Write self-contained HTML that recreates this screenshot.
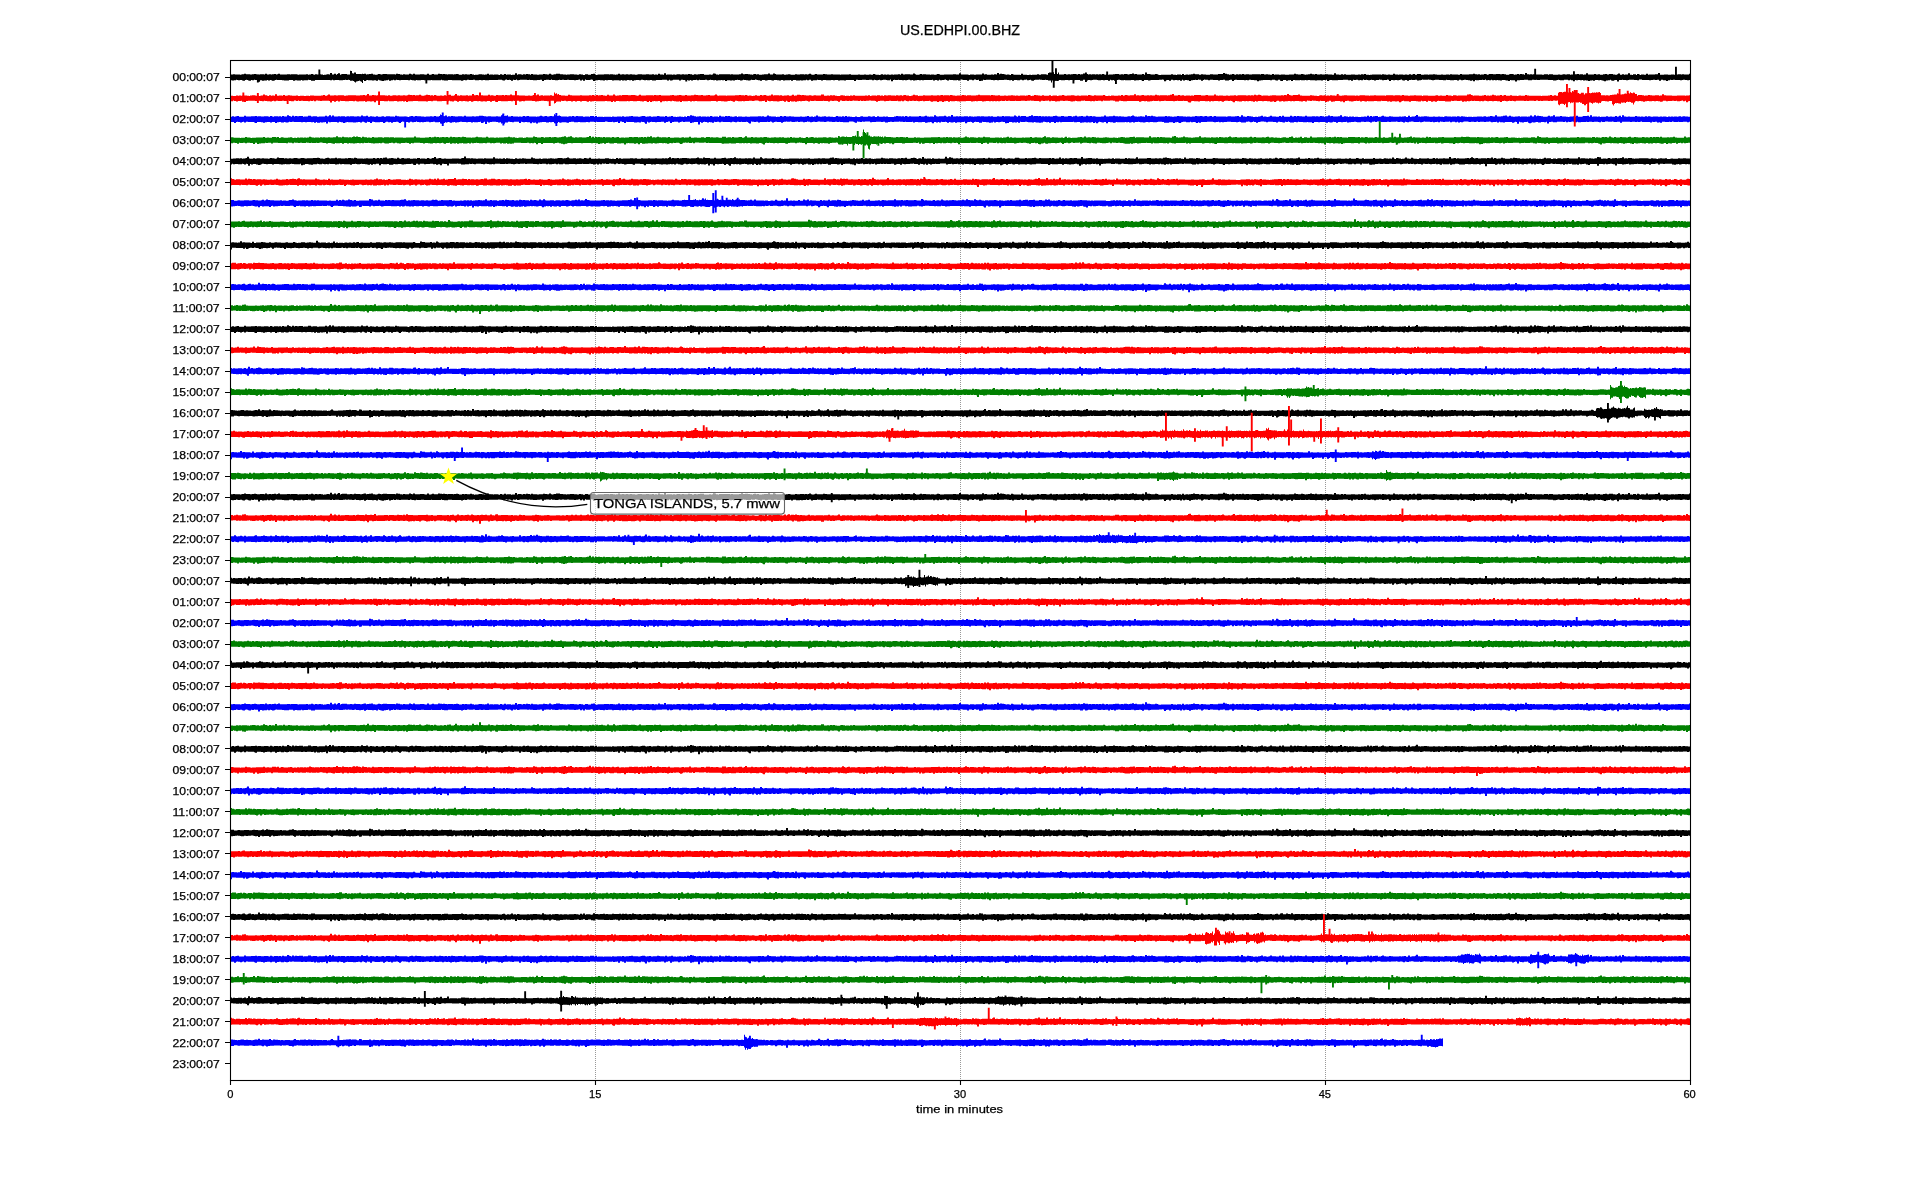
<!DOCTYPE html><html><head><meta charset="utf-8"><style>html,body{margin:0;padding:0;background:#fff;width:1920px;height:1200px;overflow:hidden}svg{display:block;will-change:transform}text{font-family:"Liberation Sans",sans-serif;fill:#000;stroke:#000;stroke-width:0.25px}</style></head><body>
<svg width="1920" height="1200" viewBox="0 0 1920 1200">
<rect width="1920" height="1200" fill="#fff"/>
<defs><path id="t0" d="M0 -11h2h1v-1h2v1h2h2h1v1h1v-1h1v-1h2v-2h2v2h2h2v1h2v-1h2v-1h2v1h1v1h2h1v-1h2h2v1h1v-3h2v3h2v-1h2v1h1v-1h2v-1h2v2h1v-1h1v-2h2v3h2h2h2h1v-1h2h1v1h1v-1h2h2h2v1h1v1h1v-1h2h2h2h1v-1h2v2h1v-1h2v-2h2v2h1v1h1v-2h2v1h2v-1h2v1h2v2h1v-1h2v-1h1v-1h2v1h1v-6h2v6h2v-3h2v4h1v-3h1v-3h2v6h1v-2h1v-1h2h2h1v2h2h1v-1h2v1h2v-2h2v1h2h2v1h2v-1h1v-1h1v-1h2v3h1v-1h2v-1h2v-1h2v3h2v1h2v-1h1v-2h2v1h1v1h1v-1h1v-1h2h2v1h2h2h2h2v1h1v-3h2v1h2v2h2v1h1v-2h2v1h2h2v-3h2v2h1v1h1v-3h2v3h2h2h1v-1h2h2v1h1v1h2v-4h2v4h2v-1h1v-2h2v2h2h2v-3h2v1h2v1h1v-1h2v1h2v1h1v-1h2h2h1v1h1v-1h2v-1h2v1h1v2h2h1v-2h2v1h1v-1h2v1h2h1v-2h2v2h2v2h1v-1h2h1v-1h1v-1h2h1v1h2v1h1v-1h2v-3h2v4h1v-1h2h1v1h1v-1h2h2v1h1v1h1v-3h2v2h2v-3h2v3h1v-1h2h2v2h1v-1h2h1v-6h2v6h1v-2h2h1v1h1v1h1v-2h2v1h1v-2h2v1h2v2h1v-3h2v2h2h2v1h2v-1h2h2v-2h2v1h2v1h2v-3h2v3h1v1h1v-1h1v-1h2v-2h2h2v2h2h1v1h2h1v1h1v-1h2h1v-1h2h2v1h2h1v1h2v-2h2v1h2v2h2v-3h2h1v2h2h1v-3h2v-1h2v4h1v1h1v-1h1v-1h2h2h2v-1h2h2h1v1h1v-1h2h1v1h2v1h1v-1h2v-3h2v3h2v-1h2v1h2v-1h2v1h2v-1h2v1h2h1v1h2v-1h1v-1h2h2v1h2h2v-1h2h1v1h2h1v-1h2v2h1v-1h2v1h1v-4h2v3h2h1v1h1v-6h2v6h1v-1h2h2h1v1h1v-1h2v1h1v-1h1v-1h2h1v1h2v-1h2v1h2h2v-2h2v1h2v2h2v-2h2v1h2v-1h2v-1h2h2v3h2h2h1v-1h2v1h1v-1h1v-4h2v1h1v3h2v1h1v-2h2h2h2h2h2h1v1h1v-1h2v1h2h2h2v-1h2v-3h2v3h2v-1h2h1v1h2v1h2v1h1v-2h1v-1h2v2h1v-1h2v2h2h1v-1h2v-1h2h2v-3h2v4h2h1v-4h2v2h1v2h2h2h2v-1h2v2h2v-1h2v-1h2v1h1v1h2h2v-2h2v1h2h1v-1h2h2v1h1v-1h2v1h1v-1h1v-2h2v3h1v1h2v-1h1v-2h2v2h2h2h2v-2h2v1h2v1h2h2v-1h2v1h2h2h2h1v1h1v-1h2h2h2h2v-1h2v2h2h2h2h1v-1h2v1h2h2v-1h2v1h2h1v-1h2v1h2v-3h2v2h1v1h2h1v1h1v-1h1v-2h2v2h1v-1h2v1h1v-1h2v1h2v-1h2v1h1v-1h2h2v-1h2v2h1v-4h2v3h2v-1h2h2h1v1h2h1v-4h2v3h1v2h2h1v-1h1v-2h2v2h1v-1h2h1v1h2h2v1h1v-1h2h1v1h2v-1h1v-2h2v1h1v2h2h2v-1h2h2h2h2h1v-1h2h1v1h2h1v-5h2v5h2h2h2h1v1h1v1h1v-2h2h2v1h2v-1h2h2h2v-4h2v4h1v-1h2v2h2h2v-1h2v1h1v-2h2v1h1v-6h2v5h1v-2h2v1h2v1h1v1h1v1h1v-1h2v1h1v1h1v-4h2v2h1v1h2h2h2v1h1v-5h2v4h2h2v1h2v-1h2v1h1v-1h2h2h1v-2h2v2h2v-2h2h2h1v1h1v1h2v-1h1v-2h2v3h1v-1h2h1v-1h2v2h1v-1h2h2h1v-2h2v2h2v-1h2v1h1v-1h2v-1h2h1v1h1v1h1v-2h2v2h1v-1h2v-3h2v2h2h1v2h1v-1h2v1h1v-1h2h1v1h1v-1h2v1h1v-1h2v1h1v-2h2v2h1v1h1v-2h2v2h1v-1h2h2v-1h2v-1h2h2v2h2v-1h2v1h1v-2h2h1v1h1v1h1v-1h1v-1h2v-2h2v3h1v-1h2v2h2h2h1v-2h2v3h1v-9h2v6h2h1v1h1v1h2h2v-2h2v1h1v2h1v1h2v-1h2h2h2h2h2v-2h2v2h2h1v1h1v-2h2h2v2h1v-4h2v4h1v-1h1v-1h2v1h1v-1h2v-1h2v-2h2v2h2h2v2h2v-2h2v1h2h1v1h2h2v-2h2h1v1h2h2h1v-2h2h2h1v-4h2v3h2v2h2v2h1v-1h2v-2h2v2h1v1h1v-2h2v1h1v-1h2v1h1v-2h2v2h2v-1h2h1v1h2h1v-1h2h2h2h2v1h1v-2h2h1v2h2v-1h2v1h2v1h2v-3h2v3h1v-1h2h2v1h2v-1h2h2v1h2h2v-1h2h2h1v-3h2v2h2v1h2h1v-2h2v1h1v1h1v1h1v-1h2v-1h2v-2h2v2h2v1h1v-2h2v2h2h1v-1h2v1h2h1v-1h2h1v1h2h2v1h2v-6h2v5h2h1v1h2v-2h2v2h1v-2h2v2h2h2h1v-1h2h2v1h2h1v-1h2v1h1v-2h2v1h1v-2h2v3h2h1v1h1v-1h2v-1h2h2h2h2h1v1h1v-2h2v1h2v1h2v-1h2v1h2h1v-4h2v3h2h1v1h1v-1h2h2v1h2v-1h2v1h2v-2h2v2h1v-1h1v-2h2v3h2v-3h2h2v3h2h1v-1h2h2v1h1v-1h2h2v-1h2v1h2v1h2h2v-1h2v1h2h1v-1h2h1v1h1v-2h2v1h2h2h2v1h2v-3h2v2h2h2h2h1v-1h2h2v-2h2v2h2v1h1v-1h2v2h1v-1h2h1v-2h2v1h1v2h1v-1h1v-2h2h2v1h2h1v-1h2h2v1h2v-1h2v1h2v2h2h1v-2h1v-1h2h1v1h1v2h1v-1h2v-2h2v2h1v-2h2v1h2v2h1v-7h2v5h2v1h1v-1h2v1h1v-1h2v2h1v-1h2h2h2v1h2v-2h2h2v2h1v-2h2h2v2h2h2h1v-1h2v1h2v-1h1v-1h2v1h2v-1h2h1v2h1v-1h2h2v-1h2v-1h2v2h1v-1h2h1v2h1v-1h2v-5h2v5h2h2h2v-2h2v2h2v-1h2v2h2h1v-2h2v-1h2v2h2v-2h2h2v2h2v1h2v-2h1v-3h2v5h2v-2h2v2h1v-1h2h1v-5h2v6h2v1h1v-3h2h1v3h1v-4h2v2h1v2h1v-2h2h1v1h2v-4h2v4h1v-1h2h2h2v-1h2h1v-5h2v7h2h2v-1h2h2v1h2h1v-1h2h1v1h1v-1h2h1v-1h2h1v1h1v-1h2v1h2h2h1v-3h1V11h-1v1h-1h-1v-1h-1h-1v-1h-1h-1v1h-1v1h-1h-1v-1h-1h-1h-1h-1h-1v-1h-1h-1v1h-1h-1v-1h-1v2h-1h-1v3h-1h-1v-3h-1h-1h-1v-2h-1h-1v4h-1h-1v-4h-1h-1v1h-1h-1v-1h-1h-1v1h-1h-1v1h-1h-1v-1h-1h-1h-1h-1h-1h-1h-1v-2h-1h-1h-1v3h-1h-1v-1h-1h-1h-1v-1h-1h-1h-1h-1h-1v1h-1v1h-1h-1v-1h-1h-1h-1v-1h-1v1h-1h-1h-1v6h-1h-1v-6h-1h-1v1h-1v2h-1h-1v-1h-1v-3h-1v2h-1h-1v1h-1h-1v3h-1h-1v-2h-1v-1h-1v-1h-1v-1h-1v1h-1h-1v-1h-1h-1h-1v3h-1h-1v-2h-1v1h-1h-1v2h-1h-1v-2h-1h-1v-1h-1v1h-1h-1v-2h-1v1h-1h-1v-1h-1h-1v1h-1h-1v-1h-1h-1h-1v1h-1h-1v-2h-1v2h-1h-1v-2h-1h-1h-1h-1v2h-1h-1h-1h-1v-1h-1v-1h-1v1h-1v1h-1v1h-1h-1h-1v-2h-1h-1h-1h-1h-1v-1h-1h-1h-1h-1h-1h-1h-1h-1v1h-1h-1h-1v-1h-1h-1h-1h-1h-1v2h-1h-1h-1h-1v-2h-1h-1h-1h-1v1h-1h-1h-1h-1v1h-1h-1h-1v5h-1h-1v-5h-1h-1h-1h-1v-1h-1v4h-1h-1v-2h-1h-1v-1h-1v-1h-1h-1h-1v2h-1h-1v-1h-1h-1v-1h-1v1h-1h-1v-1h-1v1h-1h-1v-2h-1v2h-1h-1v-1h-1v1h-1h-1v-3h-1v2h-1h-1v-1h-1v1h-1h-1h-1v1h-1h-1h-1v-1h-1v5h-1h-1v-4h-1v2h-1h-1v-2h-1h-1v-1h-1h-1v-1h-1h-1v1h-1v1h-1h-1v-2h-1h-1v3h-1h-1v-2h-1h-1h-1v1h-1h-1h-1h-1v-1h-1h-1h-1v-1h-1v2h-1h-1h-1v-1h-1h-1h-1h-1v-1h-1h-1h-1h-1v1h-1v1h-1h-1v-1h-1v-1h-1h-1v-1h-1v1h-1h-1h-1h-1h-1v-1h-1v2h-1v1h-1h-1v1h-1h-1v-3h-1h-1v1h-1h-1h-1v-1h-1v1h-1h-1v3h-1h-1v-3h-1h-1v2h-1h-1v-1h-1v-3h-1v1h-1v1h-1v1h-1h-1v-1h-1h-1v1h-1h-1v-1h-1h-1v4h-1h-1v-5h-1v-1h-1v2h-1h-1h-1v1h-1h-1v-2h-1h-1v-1h-1v2h-1h-1h-1v2h-1h-1v-2h-1h-1v-1h-1v1h-1v1h-1h-1v-1h-1v-1h-1v1h-1h-1v-2h-1v3h-1h-1v-1h-1v1h-1h-1v-2h-1h-1v1h-1h-1v-1h-1v4h-1h-1v-3h-1v1h-1h-1v-2h-1h-1h-1h-1h-1v1h-1h-1h-1h-1h-1v1h-1h-1h-1h-1h-1h-1v-1h-1h-1v1h-1v3h-1h-1v-5h-1v1h-1h-1h-1v2h-1h-1v-1h-1h-1h-1h-1v1h-1h-1v-1h-1h-1h-1h-1h-1v-1h-1h-1v1h-1h-1v-1h-1v1h-1h-1h-1h-1v-1h-1v1h-1h-1h-1h-1h-1v-1h-1h-1v4h-1h-1v-4h-1v1h-1h-1v2h-1h-1v-3h-1h-1h-1v4h-1h-1v-1h-1v-4h-1h-1v3h-1h-1v-1h-1v-2h-1h-1h-1v2h-1h-1v-1h-1h-1h-1h-1h-1h-1h-1v1h-1h-1v1h-1h-1v3h-1h-1v-4h-1h-1h-1v-1h-1h-1h-1v-1h-1h-1v2h-1h-1v-1h-1v1h-1h-1v-1h-1h-1h-1h-1h-1h-1h-1v-1h-1h-1v1h-1v4h-1h-1v-5h-1h-1v1h-1v2h-1h-1h-1h-1v-3h-1h-1v1h-1h-1h-1v2h-1h-1v-2h-1h-1h-1h-1h-1v-1h-1h-1h-1v2h-1h-1v-2h-1h-1h-1v-1h-1v2h-1v3h-1h-1v-4h-1h-1v-1h-1v2h-1h-1v-1h-1v1h-1h-1v1h-1h-1v3h-1h-1v-3h-1h-1v-1h-1h-1v2h-1h-1v-3h-1v4h-1h-1v-3h-1v1h-1h-1v-1h-1h-1v1h-1h-1v-2h-1h-1v4h-1h-1v-3h-1h-1v1h-1v4h-1h-1v-6h-1v-1h-1v1h-1h-1h-1v1h-1h-1h-1h-1h-1h-1h-1h-1v1h-1v1h-1h-1v-2h-1h-1h-1h-1v4h-1h-1v-3h-1v-1h-1h-1v1h-1h-1h-1v1h-1h-1v-2h-1h-1h-1v1h-1h-1h-1h-1h-1h-1v-1h-1v1h-1h-1h-1v-1h-1v-1h-1h-1v1h-1h-1v3h-1h-1v-3h-1v1h-1h-1v-2h-1v4h-1h-1v-3h-1h-1h-1v1h-1h-1v-1h-1h-1v1h-1h-1h-1v-1h-1v-1h-1h-1h-1h-1v1h-1v1h-1h-1v-1h-1h-1v2h-1v1h-1h-1v-4h-1h-1v4h-1h-1h-1v-3h-1h-1h-1h-1h-1v1h-1h-1v-1h-1h-1h-1v1h-1h-1v-1h-1h-1h-1v1h-1h-1h-1h-1v-1h-1h-1h-1h-1v3h-1h-1v-1h-1h-1v-2h-1h-1h-1h-1h-1h-1h-1v-1h-1v1h-1h-1h-1v-1h-1h-1v-1h-1v1h-1h-1h-1h-1v1h-1v3h-1h-1v-1h-1v-3h-1v1h-1v1h-1h-1v-3h-1v1h-1h-1v2h-1h-1v-2h-1h-1v2h-1h-1h-1v-1h-1h-1h-1v3h-1h-1v-3h-1v1h-1h-1v-1h-1h-1v-1h-1h-1h-1v1h-1h-1h-1h-1h-1v1h-1h-1v-1h-1h-1v1h-1h-1v-1h-1h-1v-1h-1h-1h-1h-1h-1v1h-1h-1v-1h-1v4h-1h-1v1h-1h-1v-5h-1v1h-1h-1v-2h-1h-1v3h-1h-1v-2h-1h-1h-1v4h-1h-1v-3h-1h-1h-1h-1v-1h-1v-1h-1v1h-1v3h-1h-1v-2h-1v1h-1h-1h-1h-1v-1h-1h-1h-1v-1h-1v3h-1h-1v-2h-1v-2h-1v1h-1v1h-1h-1v1h-1h-1v-2h-1v3h-1h-1v-2h-1h-1v2h-1h-1v-3h-1v1h-1h-1h-1h-1h-1h-1h-1h-1v1h-1h-1v-1h-1v1h-1h-1v-1h-1h-1v1h-1h-1v1h-1h-1v-2h-1v1h-1h-1v-2h-1h-1v1h-1v1h-1h-1v-1h-1v1h-1h-1v-1h-1h-1h-1v-1h-1v1h-1h-1h-1v-1h-1v1h-1v5h-1h-1v-7h-1v3h-1h-1h-1v-1h-1v-1h-1h-1h-1v1h-1v1h-1h-1v-2h-1v1h-1v1h-1h-1v-1h-1v-1h-1v2h-1h-1v-2h-1h-1h-1v1h-1h-1h-1v-1h-1h-1h-1h-1v1h-1h-1h-1h-1v-1h-1h-1v5h-1h-1v-4h-1h-1h-1h-1h-1h-1h-1h-1v2h-1h-1v-1h-1h-1h-1h-1v1h-1h-1v-2h-1h-1h-1v1h-1h-1v-1h-1h-1v1h-1h-1h-1h-1h-1v-1h-1h-1h-1v2h-1h-1v-2h-1h-1h-1v-1h-1v2h-1h-1h-1h-1v2h-1h-1v-4h-1h-1v2h-1h-1v-2h-1v2h-1h-1h-1v1h-1h-1v-1h-1v1h-1h-1h-1h-1v-2h-1h-1h-1v3h-1h-1v-3h-1v1h-1h-1h-1h-1h-1v1h-1h-1v-2h-1h-1v2h-1h-1v-1h-1h-1v-1h-1h-1h-1v2h-1h-1v-1h-1v-1h-1h-1h-1v1h-1v1h-1h-1v-2h-1h-1h-1v3h-1h-1v-2h-1h-1v-1h-1v-1h-1v-1h-1v2h-1h-1h-1v-1h-1v2h-1v1h-1h-1v-1h-1h-1v-1h-1h-1v-1h-1v2h-1v1h-1h-1v-2h-1h-1v-1h-1v1h-1h-1v2h-1h-1v-1h-1v1h-1h-1v-1h-1h-1h-1v3h-1h-1v-4h-1v1h-1h-1v-1h-1v1h-1h-1h-1v1h-1h-1v-2h-1v1h-1h-1v-1h-1h-1v-1h-1v1h-1v1h-1h-1v-2h-1h-1v1h-1h-1h-1h-1h-1v-1h-1v2h-1h-1v-2h-1v1h-1h-1h-1v2h-1h-1v-2h-1v2h-1h-1v-2h-1h-1h-1h-1h-1v-1h-1h-1v3h-1h-1v-3h-1h-1h-1h-1h-1h-1v2h-1v1h-1h-1v-3h-1v3h-1h-1v-3h-1h-1h-1h-1h-1v1h-1h-1h-1h-1h-1h-1v2h-1h-1h-1h-1v-2h-1h-1v1h-1h-1h-1v-1h-1v1h-1h-1v-1h-1v-1h-1h-1v2h-1h-1v-1h-1h-1h-1v1h-1h-1v2h-1h-1v-3h-1v1h-1h-1v-1h-1h-1v2h-1h-1v-1h-1v1h-1h-1v-2h-1v2h-1h-1v-1h-1h-1h-1h-1h-1v1h-1h-1v-2h-1h-1h-1h-1v1h-1h-1v-1h-1v2h-1h-1v-1h-1h-1h-1v-1h-1h-1v1h-1h-1h-1v3h-1h-1v-5h-1v-1h-1v1h-1v1h-1h-1h-1h-1v-2h-1v5h-1h-1v-4h-1v3h-1h-1v-4h-1v1h-1v1h-1h-1v1h-1h-1v-1h-1h-1h-1h-1h-1v-1h-1h-1v1h-1h-1h-1v-1h-1h-1v1h-1h-1v-1h-1v1h-1v1h-1h-1h-1v-1h-1h-1h-1v-2h-1v2h-1h-1v-1h-1h-1h-1v1h-1h-1v4h-1h-1v-5h-1h-1v1h-1h-1h-1v1h-1h-1h-1h-1v-1h-1h-1h-1v-1h-1v1h-1h-1v-1h-1h-1h-1h-1h-1h-1h-1v1h-1v1h-1h-1v-3h-1v2h-1h-1v-1h-1v4h-1h-1v-3h-1v-1h-1v1h-1h-1v-2h-1v1h-1v3h-1h-1v-1h-1v-2h-1h-1h-1h-1v1h-1h-1h-1h-1h-1h-1h-1h-1h-1v1h-1h-1h-1h-1v-1h-1h-1v1h-1h-1v-1h-1h-1v1h-1h-1h-1h-1v-2h-1h-1v1h-1h-1h-1h-1v-1h-1h-1v2h-1h-1v-1h-1v1h-1v2h-1h-1v-2h-1h-1h-1h-1h-1h-1h-1h-1h-1v-1h-1h-1h-1h-1v2h-1h-1h-1h-1v-1h-1h-1v-2h-1v2h-1h-1h-1h-1h-1h-1h-1h-1h-1v-1h-1v1h-1h-1h-1h-1h-1h-1h-1v-1h-1h-1h-1v1h-1h-1h-1h-1v-1h-1v2h-1h-1v-1h-1h-1v-1h-1v-1h-1v2h-1h-1v-1h-1h-1h-1h-1h-1h-1h-1v1h-1h-1v-1h-1h-1v-1h-1v2h-1h-1v-2h-1v2h-1h-1v2h-1h-1v-4h-1v2h-1h-1v1h-1h-1v2h-1h-1v-1h-1v-1h-1v-1h-1v-2h-1v4h-1h-1v-2h-1h-1v1h-1h-1v-1h-1h-1h-1h-1v-1h-1v1h-1v3h-1h-1v-4h-1v1h-1h-1v1h-1h-1v-1h-1h-1h-1v-2h-1v1h-1v1h-1h-1v-1h-1h-1h-1v-1h-1v1h-1h-1v-1h-1v1h-1h-1v1h-1h-1h-1h-1v-1h-1h-1h-1h-1v1h-1h-1v-2h-1v2h-1h-1v-1h-1h-1h-1h-1h-1h-1h-1h-1h-1h-1h-1h-1h-1h-1h-1v3h-1h-1h-1h-1v-3h-1h-1v-1h-1v2h-1h-1h-1h-1v1h-1h-1v-2h-1v2h-1h-1h-1h-1v-1h-1h-1v2h-1h-1v-3h-1h-1h-1h-1v2h-1h-1h-1h-1h-1v-1h-1h-1v-1h-1h-1h-1h-1h-1v-1h-1v1h-1v2h-1v1h-1h-1v-2h-1v-1h-1v2h-1h-1v-2h-1v2h-1h-1h-1v1h-1h-1v-2h-1h-1v6h-1h-1v-7h-1h-1h-1v-1h-1v2h-1h-1v-1h-1v3h-1h-1v-1h-1v-2h-1v-1h-1v1h-1v3h-1h-1v-1h-1v-2h-1h-1v1h-1h-1v-1h-1v-1h-1v2h-1h-1v1h-1h-1v-1h-1v-1h-1Z"/><path id="t1" d="M0 -11h2v-2h1v-1h2v1h2v2h2v-1h2v2h1v-2h1v-1h2v2h2v-3h2v1h1v1h2v2h1v-1h1v-1h2v2h2v-1h1v-1h2v1h2h2h2v1h1v-4h2v3h2v-1h2v1h2v1h1v1h1v-3h2h1v-1h2v1h2h2v1h1v-1h2h2v1h2h1v1h1v-2h2h2h2h1v1h1v-1h2v1h2v-2h2v1h2h1v-3h2v3h2h2v1h2h1v-2h2v2h2h2v-1h2v1h2h1v-1h2h1v-1h2v1h1v1h1v1h1v-1h2h2v-1h1v-2h2v3h2h2v-2h2v2h1v1h1v-1h2h2v-1h2v1h2v-5h2v5h2h2v1h1v-1h2v1h1v-1h1v-2h2v4h1v-2h2v2h2v-1h2h2h2v-1h2h2h1v-2h2v2h2v-2h2v3h1v-4h2v2h2h2v1h2v-2h2v1h2h1v1h1v-1h1v-1h2h1v1h2h2h1v-1h2v1h2v1h1v-1h2v-4h2v3h1v1h2h1v1h2v-2h2h2v3h1v-3h2v1h1v2h2v-1h1v-5h2v4h2h2v1h1v-1h2v1h1v1h1v-1h2h2v-1h2v1h1v1h1v-6h2v3h2h2v2h2h1v-1h2v2h1v-1h2v-1h2v1h2h2h1v-3h2v4h1v-1h2v-1h2v1h2v-1h2h2v2h1v-3h2v2h1v-1h1v-1h2h2v2h1v-1h2v1h2h2v-1h1v-1h2v3h1v-3h2v1h1v1h2h2v-4h2v1h1v2h1v1h1v-4h2v4h1v1h2v-1h2v-3h2v2h1v-4h2v5h1v1h1v-1h2h1v-2h2v3h1v-1h2v1h2v-5h2v5h2v-1h2h2v1h2v-4h2v4h1v-3h2v2h2h2h1v1h1v-2h2v1h2h2h1v1h2v-1h2h2v1h2h1v-2h2v1h2h2h2v2h1v-1h2v1h2v-3h2v1h1v-1h2v2h1v-1h2v1h1v-1h2h1v1h2v-2h2h2v2h2h2v-1h1v-4h2v3h1v2h1v1h1v-1h2v-2h2v1h2h2h2v-1h1v-3h2v4h2h1v-2h2v3h2v-1h2h1v-2h2v3h1v-7h2v6h1v2h1v-1h2h2h2h2h2v1h1v-1h1v-1h2v1h2v1h1v-1h2h2h2v-1h2v1h2h2v-3h2v1h1v1h2v1h1v-4h2v1h2v-2h2v5h2h2v1h1v-1h1v-2h2v1h2h1v-1h2v1h1v-1h2v2h2v-2h2h1v2h2h2h2h2v-1h2h1v-1h2h1v1h2h2v-2h2v2h2v1h2v1h1v-1h1v-2h2v1h2v1h2h2v-1h2v-2h1v-1h2v3h2v-2h2v2h1v-1h2h2h1v1h1v1h1v-1h2v-1h2v1h2v-1h1v-1h2v1h2v1h2v1h1v-1h1v-1h2v-3h2v1h2v3h2v-1h1v-2h2v3h1v1h1v-1h2v1h1v-1h1v-1h2v2h1v-2h2v2h2v-2h2v1h1v-1h2v2h2v-1h2h1v1h2v-4h2v2h2v2h1v1h1v-2h1v-1h2h2v1h2h1v1h1v-1h2h1v1h1v-1h1v-1h2v1h2h2h2v1h2v-1h2h1v1h2h2h2v-1h2v1h2v-1h2h2v1h1v-1h2v-1h2v-1h2v3h1v-1h2v1h1v-4h2v4h2v-1h2h2v1h2h1v-3h2h1v2h2h2h2v-1h2v2h1v-1h1v-1h2v1h2h2v-1h2v1h1v1h1v-2h1v-1h2v1h2v-2h2v3h2h2v1h2v-2h2h2v-1h2v1h1v1h2v-1h2h2v1h2v-1h2v-1h2v2h1v-2h2v3h2v-2h1v-1h2v2h1v1h1v-2h2v-1h2v1h2v-2h2h1v3h1v-1h2h2h2h2h2v2h1v-1h2v1h1v-1h2h2v1h2h2h2h2h1v-1h2h2h1v2h2v-1h2v-1h2v-2h2v2h1v1h1v-1h2v-1h2v2h2v-1h1v-1h2h2v1h1v1h1v-1h2h2v1h1v-1h2v-1h2v2h1v-1h2v1h1v-1h2h2v1h2v-1h2v-1h2v1h2v1h2h1v-1h2v1h2h2v-1h2v1h2v-2h2v2h2v1h1v-1h1v-2h2v2h2v1h1v-1h2v-1h1v-2h2v2h2h2h1v-2h2h1v-2h2v5h2v-1h2v-1h2h2v1h1v-2h2h2h1v2h1v1h1v-3h2v2h2h2h2h1v-1h2h2v1h2h2h2h2v-1h2v1h2h2v-1h2v1h1v-4h2v3h2v-3h2v2h1v3h1v-1h1v-3h2h1v1h1v-2h2v4h1v1h1v-2h2v-2h2v3h2v1h2v-1h1v-2h2v2h2h1v1h1v-2h2h1v1h1v1h2h2h1v-1h2v1h1v-1h2v1h2v-4h2v3h2v1h1v-2h2v1h1v-1h2h2h2h1v-2h2h2v3h2h2v-3h2v2h2h1v-3h2v4h2h1v-1h2h2h2h2v1h2h2h2h2v-1h2v1h1v-2h2h2v2h2h2v-1h1v-1h2v1h2v1h2h2v1h1v-1h2v2h1v-3h2v1h2h2h2v-1h2v-2h2v3h2v1h2v-2h2h2h2h2h1v1h1v-1h2h1v1h2v-1h2v1h2h2h1v1h1v1h1v-1h1v-2h2v2h1v-1h2h2v1h2h2v-3h1v-3h2v6h1v1h1v-2h1v-2h2v3h1v1h1v-3h2v2h2v-2h2v1h1v1h2h2h1v-1h2v-1h2v2h2h1v1h1v-1h1v-2h2v-2h2v4h2h2h2h1v-1h2h2v-3h2v2h2v1h2h1v-2h2v-4h2v6h2v-1h2v1h1v-2h2v2h2v1h2h2h1v-1h2v1h1v-2h2v1h2h1v1h1v-5h2v2h1v2h2v-4h2v1h2h1v3h1v-1h2h2v1h1v1h1v-1h2h2h2v1h2v-2h2v1h2v-1h2v-1h2v2h1v-2h2v-3h2v6h1v-1h2h2v1h2v-1h1v-2h2v1h2h1v1h2v-1h2h2h2v1h1v1h1v-3h2h1v3h1v-1h1v-4h2v3h1v1h2v-1h2v-1h2h1v1h1v1h1v-1h2v-1h2v1h1v1h2h1v-1h2v1h2h2v-3h2h2h1v1h2v1h1v1h2h1v-1h1v-1h2v1h1v1h1v-1h1v-1h2v1h2v1h2h2v-1h2v1h2h1v-1h2h1v-2h2v2h2h1v1h1v-1h1v-3h2v3h1v1h2v-1h2h1v2h1v-1h2v1h2h2h2v-1h2h2v1h1v-1h2h2v-3h2v3h1v1h1v-1h2v1h2h1v-1h1v-1h2v1h1v-2h2v2h1v-1h2h1v1h1v-1h2v-4h2v5h1v-3h2v2h1v1h1v-1h1v-3h2v3h2v1h1v-1h2h2v1h1v-2h2h2v2h2v-1h2h2v-1h2v2h2h2h2h2v1h1v-1h2v1h2h1v-2h2v2h2h2h1v-2h2v1h1v-3h2v1h2v3h1v1h1v-2h2h2v1h2h2v-2h2v2h1v-1h2h2v-2h2v3h1v-1h2h1v1h2v-1h2h2v1h1v-1h2v-1h2v1h1v1h1v-2h2v2h1v-1h2v-2h2v2h2h1v1h2v-1h2h2v1h1v-1h2v-3h2v2h2h1V11h-1h-1h-1h-1h-1h-1h-1h-1v1h-1h-1v-2h-1v1h-1v2h-1v1h-1h-1v-3h-1h-1h-1h-1h-1v1h-1h-1v-1h-1h-1h-1h-1h-1v1h-1h-1h-1v3h-1h-1v-6h-1v3h-1h-1v-2h-1v1h-1h-1h-1v2h-1h-1v-2h-1h-1v-1h-1h-1h-1h-1h-1h-1h-1v1h-1h-1h-1h-1v-1h-1h-1v-1h-1h-1h-1v2h-1h-1v-2h-1v2h-1h-1v-1h-1v1h-1h-1h-1v-1h-1v1h-1h-1h-1h-1v-1h-1h-1v1h-1v2h-1h-1v-2h-1v1h-1h-1v-2h-1v1h-1v1h-1h-1v-1h-1v1h-1h-1v-1h-1v1h-1v1h-1h-1v-1h-1h-1h-1h-1h-1h-1h-1h-1h-1h-1v-2h-1v2h-1h-1h-1h-1v-1h-1v2h-1h-1v-1h-1h-1v-2h-1v4h-1h-1v-2h-1v-1h-1h-1h-1h-1h-1v3h-1h-1v-3h-1h-1h-1h-1v2h-1h-1h-1h-1v-2h-1v1h-1h-1v-1h-1h-1h-1h-1h-1v1h-1h-1v-1h-1h-1h-1v1h-1h-1v-1h-1h-1h-1v1h-1h-1v-2h-1v2h-1h-1h-1h-1h-1h-1h-1h-1h-1h-1h-1v-1h-1v1h-1h-1h-1v-1h-1v-1h-1v3h-1h-1h-1v-2h-1h-1v4h-1h-1v-4h-1h-1v1h-1h-1v-2h-1v1h-1v1h-1v2h-1h-1v-2h-1v2h-1h-1v-3h-1v1h-1h-1h-1v-2h-1v4h-1h-1v-2h-1h-1h-1v-1h-1h-1h-1h-1v3h-1h-1v-2h-1v1h-1h-1h-1h-1v-3h-1v2h-1h-1h-1v-2h-1v2h-1h-1v-2h-1h-1v7h-1h-1v-5h-1v-1h-1h-1v-1h-1h-1h-1h-1v1h-1v1h-1h-1v-1h-1v1h-1h-1v-1h-1v1h-1h-1h-1h-1h-1v3h-1h-1h-1h-1v-4h-1h-1h-1h-1h-1h-1h-1h-1v1h-1h-1v-1h-1h-1h-1h-1v2h-1h-1h-1v3h-1h-1v-4h-1h-1h-1h-1h-1v2h-1h-1v-2h-1h-1v-2h-1v3h-1h-1v-1h-1h-1v-1h-1v1h-1h-1v-2h-1h-1v2h-1h-1v-1h-1h-1v-1h-1v4h-1h-1v-3h-1h-1v1h-1h-1h-1h-1h-1v1h-1h-1h-1h-1v-2h-1v1h-1h-1h-1h-1v-2h-1v3h-1h-1h-1h-1v-3h-1h-1v1h-1h-1v1h-1h-1h-1v-1h-1h-1v1h-1h-1h-1v1h-1h-1v-1h-1v-1h-1h-1v1h-1h-1h-1h-1h-1h-1v4h-1h-1v-5h-1h-1h-1h-1h-1h-1h-1v-1h-1h-1h-1h-1h-1v1h-1h-1v-1h-1v4h-1h-1v-1h-1v-3h-1h-1v1h-1h-1v-2h-1h-1v3h-1h-1v-1h-1h-1h-1v4h-1h-1v-6h-1v3h-1h-1v-1h-1h-1v-1h-1v1h-1h-1v-1h-1h-1h-1v2h-1h-1v-2h-1v2h-1h-1v1h-1v1h-1h-1v-2h-1v-2h-1v1h-1h-1h-1v-1h-1v1h-1h-1v-1h-1h-1h-1v1h-1h-1v-1h-1v1h-1h-1v4h-1h-1v-4h-1h-1h-1h-1h-1v1h-1v2h-1h-1v-3h-1h-1h-1h-1v2h-1h-1h-1h-1v-2h-1h-1v1h-1h-1v4h-1h-1v-5h-1h-1v5h-1h-1v-6h-1h-1h-1v3h-1h-1h-1h-1v-1h-1h-1h-1h-1h-1h-1v-1h-1v1h-1h-1v-1h-1h-1h-1v1h-1h-1v-1h-1h-1h-1v2h-1h-1v-3h-1v1h-1v3h-1h-1v-2h-1v1h-1h-1v-2h-1h-1h-1v1h-1h-1h-1h-1v-1h-1v1h-1v1h-1h-1v-1h-1v1h-1h-1v-1h-1v-1h-1v1h-1h-1v-1h-1v1h-1v3h-1h-1v-4h-1v-1h-1h-1h-1v1h-1v1h-1h-1h-1v2h-1h-1v-2h-1h-1v-1h-1v1h-1h-1h-1h-1h-1v-1h-1h-1v-1h-1h-1h-1h-1h-1h-1v2h-1h-1h-1h-1v-2h-1v5h-1h-1h-1v-4h-1h-1h-1h-1h-1h-1h-1h-1h-1h-1h-1h-1h-1h-1h-1h-1v1h-1h-1v1h-1h-1v-1h-1h-1h-1h-1v-1h-1h-1h-1v1h-1v3h-1h-1v-2h-1v-1h-1h-1h-1v-1h-1h-1h-1h-1h-1h-1h-1v3h-1h-1v-4h-1h-1v1h-1h-1h-1h-1h-1h-1h-1h-1h-1h-1h-1h-1h-1h-1h-1h-1v7h-1h-1v-3h-1h-1v-3h-1h-1v1h-1h-1v-2h-1h-1v1h-1h-1h-1h-1v-1h-1h-1v2h-1h-1v-2h-1h-1h-1h-1h-1h-1v1h-1h-1h-1v2h-1h-1v-5h-1v1h-1h-1v3h-1h-1h-1h-1h-1v-1h-1h-1v-1h-1h-1v1h-1h-1v-1h-1h-1h-1h-1h-1v-1h-1h-1h-1v-1h-1v2h-1h-1v-1h-1v1h-1h-1h-1v2h-1h-1v-2h-1v1h-1h-1v2h-1h-1v-1h-1v-1h-1h-1v-1h-1v-1h-1h-1v1h-1h-1v-1h-1v1h-1v2h-1h-1v-3h-1v1h-1v1h-1h-1v1h-1h-1v-1h-1v-2h-1h-1v1h-1h-1v-1h-1h-1h-1h-1v1h-1v2h-1h-1v-2h-1v1h-1h-1v-2h-1v2h-1h-1v-1h-1v-1h-1v-1h-1v2h-1h-1v1h-1h-1v-1h-1h-1v-1h-1h-1v1h-1h-1v-1h-1h-1v2h-1h-1h-1h-1h-1h-1h-1v-2h-1v2h-1h-1h-1h-1v-1h-1v1h-1h-1v-1h-1h-1v1h-1h-1v-1h-1h-1v1h-1h-1h-1h-1h-1v5h-1h-1v-3h-1v-2h-1h-1v-1h-1v2h-1h-1v3h-1h-1v-5h-1h-1h-1v2h-1h-1h-1v-1h-1h-1v1h-1h-1h-1h-1v-1h-1h-1h-1v1h-1h-1v-1h-1v-1h-1v2h-1h-1v-1h-1h-1v-1h-1v1h-1h-1h-1h-1v-1h-1h-1v-1h-1v2h-1h-1v4h-1h-1v-4h-1v-1h-1v2h-1h-1v2h-1h-1v-4h-1h-1v1h-1h-1v-2h-1h-1v1h-1h-1h-1v1h-1h-1v-1h-1v1h-1h-1v-1h-1h-1v-1h-1h-1v1h-1h-1v1h-1h-1v-2h-1h-1h-1v1h-1h-1v-1h-1h-1v5h-1h-1v-3h-1h-1h-1h-1v-1h-1h-1v-1h-1v4h-1h-1v-3h-1h-1h-1v-1h-1h-1v1h-1h-1h-1v-1h-1h-1v3h-1h-1v-3h-1v1h-1v1h-1h-1v-2h-1h-1h-1v-1h-1v2h-1v1h-1h-1v-1h-1h-1v-1h-1h-1h-1h-1h-1v-1h-1h-1v3h-1h-1v-2h-1h-1h-1v-1h-1v1h-1v2h-1h-1v-1h-1v-2h-1v1h-1v2h-1h-1v-2h-1h-1h-1h-1h-1h-1v1h-1h-1v-1h-1v1h-1h-1v2h-1h-1v-1h-1v-2h-1v2h-1h-1v1h-1h-1h-1v-3h-1v1h-1h-1v-1h-1v1h-1h-1h-1h-1h-1h-1h-1h-1h-1v1h-1h-1v1h-1h-1v-2h-1v2h-1h-1v-1h-1h-1v-1h-1h-1v2h-1h-1v-3h-1h-1v1h-1h-1v-1h-1h-1v1h-1v2h-1h-1v3h-1h-1v-5h-1v2h-1h-1v-2h-1h-1h-1h-1h-1v-1h-1h-1h-1h-1v2h-1h-1v-2h-1h-1h-1v1h-1h-1v-1h-1v1h-1v1h-1h-1v-2h-1h-1v2h-1h-1v-1h-1h-1h-1h-1h-1v-1h-1h-1h-1v3h-1h-1v-3h-1h-1v1h-1h-1v-1h-1h-1h-1h-1h-1v1h-1h-1v2h-1v2h-1h-1v-5h-1v1h-1v2h-1h-1v-2h-1h-1h-1h-1v-1h-1v2h-1h-1v-1h-1v2h-1h-1v-3h-1h-1h-1v1h-1h-1h-1h-1v-2h-1h-1v2h-1h-1v-1h-1v-1h-1v2h-1h-1h-1h-1v1h-1h-1h-1v3h-1h-1v-5h-1h-1v-1h-1v1h-1v2h-1h-1v-2h-1v-1h-1v1h-1v1h-1h-1h-1h-1v-1h-1h-1h-1v1h-1h-1v1h-1h-1v-2h-1v-1h-1v1h-1h-1v3h-1h-1v-3h-1v1h-1h-1v1h-1h-1h-1h-1v-2h-1h-1v2h-1h-1h-1h-1v-1h-1h-1v-1h-1v1h-1h-1v1h-1h-1v-1h-1h-1v-1h-1h-1h-1v-1h-1v1h-1v1h-1h-1v-1h-1h-1h-1v1h-1v2h-1h-1v-3h-1v2h-1h-1v-3h-1v1h-1v1h-1h-1v-2h-1v1h-1h-1v5h-1h-1v-2h-1v-1h-1h-1v-2h-1v-1h-1v2h-1h-1v1h-1h-1v-1h-1v-2h-1h-1h-1v1h-1v1h-1h-1h-1h-1h-1h-1h-1h-1h-1h-1h-1h-1h-1h-1h-1v1h-1h-1v-1h-1v-1h-1h-1v-1h-1v1h-1h-1v1h-1h-1v2h-1h-1v-2h-1h-1v-1h-1v1h-1h-1h-1h-1v-1h-1h-1v10h-1h-1v-10h-1v3h-1h-1v-3h-1v1h-1h-1v-1h-1v1h-1h-1h-1v-1h-1v2h-1v4h-1h-1v-4h-1h-1v3h-1h-1v-5h-1v1h-1h-1h-1h-1v3h-1h-1v-3h-1h-1h-1h-1h-1v1h-1h-1v-1h-1h-1h-1h-1v1h-1h-1v-1h-1h-1v1h-1h-1h-1v-2h-1v2h-1h-1v1h-1v2h-1h-1v-4h-1v1h-1h-1v-1h-1v1h-1v1h-1h-1v-2h-1v1h-1h-1v2h-1h-1v-1h-1v-3h-1v2h-1v1h-1h-1v-2h-1v2h-1h-1h-1v-1h-1h-1h-1v-2h-1v1h-1v1h-1h-1v2h-1h-1v-3h-1h-1h-1h-1h-1h-1h-1v1h-1h-1v-2h-1v1h-1h-1v-1h-1v1h-1v1h-1h-1v-1h-1h-1v-1h-1h-1h-1h-1h-1h-1h-1v1h-1h-1h-1h-1h-1h-1h-1h-1v1h-1h-1v-1h-1h-1h-1v-1h-1v1h-1h-1v1h-1h-1v-1h-1h-1h-1v1h-1v4h-1h-1v-3h-1h-1v-2h-1v-1h-1v2h-1h-1v-1h-1v1h-1v1h-1h-1v-2h-1v1h-1h-1v-1h-1v2h-1h-1v-1h-1h-1v-1h-1v2h-1h-1h-1h-1v-1h-1h-1v1h-1h-1v2h-1h-1v-3h-1v-1h-1h-1h-1h-1v-1h-1v3h-1h-1v-2h-1v3h-1h-1v-3h-1v1h-1h-1h-1v-1h-1h-1h-1v1h-1h-1v-1h-1h-1h-1h-1h-1h-1v1h-1h-1v-2h-1v1h-1h-1v-1h-1h-1v1h-1h-1v-2h-1v1h-1h-1h-1h-1v3h-1h-1v-3h-1h-1h-1v2h-1h-1v-2h-1v2h-1h-1v-1h-1v4h-1h-1v-4h-1h-1h-1h-1v-1h-1v2h-1v5h-1h-1v-6h-1v-1h-1v2h-1v1h-1h-1v-1h-1v-1h-1h-1h-1h-1v1h-1v3h-1h-1v-4h-1h-1h-1h-1h-1h-1h-1h-1h-1h-1h-1v2h-1h-1v-1h-1h-1v-1h-1h-1h-1h-1v1h-1h-1v1h-1h-1v-1h-1v-2h-1h-1v1h-1h-1v-1h-1h-1v2h-1h-1v-2h-1v1h-1v1h-1h-1h-1v3h-1h-1v-3h-1h-1v-1h-1v1h-1h-1v-1h-1v1h-1h-1v1h-1h-1v-1h-1h-1h-1v-1h-1v1h-1h-1v-1h-1h-1h-1v4h-1h-1v-4h-1v-1h-1h-1v1h-1h-1v-1h-1h-1h-1h-1h-1v3h-1h-1v-2h-1h-1v1h-1h-1v-1h-1h-1v3h-1h-1v-3h-1h-1v-1h-1v1h-1h-1v1h-1v2h-1h-1v-1h-1h-1v-2h-1v2h-1h-1v-2h-1v2h-1h-1v-2h-1v1h-1h-1v-2h-1v1h-1h-1h-1Z"/><path id="t2" d="M0 -13h2v3h1v-2h2v1h2h1v-1h2h2v2h1v-1h1v-2h2v3h1v-1h1v-7h2v7h1v-2h2v2h2h1v-2h2v-2h2v1h1v2h1v2h2v-1h2v-1h2v1h2h2v-2h2v2h2h2h1v-1h2v-1h2v1h2v1h1v-1h2h2v1h1v1h1v-1h2v-1h2h2h2v2h1v-6h2v2h2v3h2h1v-1h1v-1h2v-1h2v2h2h2v2h1v-1h1v-1h2h1v2h1v-1h1v-1h2v1h1v-1h2v2h1v-1h2h2h1v-2h2v1h2v2h1v-2h2v1h2v-1h2h2h2v-2h2v3h2h1v1h1v-1h1v-1h2h1v1h1v1h1v-1h2h1v-1h2v-1h1v-1h2v3h1v-3h2v3h1v-1h2v2h2h1v-6h2v5h2v-1h2h2v1h2v-3h2h2v2h1v1h1v-1h2h1v1h2h1v-1h1v-1h2v1h2v1h2h2h1v1h2v-4h1v-1h2v5h2v-3h2v3h2h2v-2h2v1h2h2v1h2h1v-2h2v1h1v-3h2v2h2v-4h2v6h2v-1h2h1v-6h2v8h1v-1h2h2h2h1v1h1v-1h2h1v-3h2h2v1h2h2v2h1v-1h2v1h1v-1h1v-1h2v2h2h2h1v-1h2v-1h2v2h2v-1h2v-1h2h1v1h1v-1h2v2h2h2h1v-1h2h2h1v1h1v-1h2v1h2h1v-1h2v-1h2v1h1v1h2v-1h2v1h2h2v1h1v-2h2v1h2h2h2v-1h2h2v-1h2v2h1v-1h2v1h2h2v-2h2v2h1v-2h2h1v1h2v1h2v-2h2v2h1v-2h2h2v2h2v-2h2h2v1h2h2h2v-1h2v1h2h2h1v1h1v-1h2h2h2v1h2v-1h2v-2h2v2h1v1h1v-3h2v3h1v-2h2v3h1v-1h2v1h1v-2h2h1v2h2v-1h2h1v-2h2v3h2v-2h2v1h2v-1h2v-2h2v1h1v1h2h2h1v-1h1v-2h2v4h2h2h1v-1h2h1v-1h1v-4h2v5h2h2h1v-2h2v1h1v-1h2v2h2h1v-1h2v-1h2v1h2h1v-1h2v1h2v1h1v-1h2v1h1v-2h2v3h2v-2h2v-1h1v-1h2v2h1v2h2v-2h2v1h1v1h1v-1h1v-1h2v1h2v1h2v-2h1v-1h2v2h1v-1h2h1v-1h2v2h1v1h1v-7h2v6h1v-1h2v-5h2v6h2v-1h2v1h2h1v1h1v-1h1v-4h2v4h2v-3h1v-4h2v7h2v-1h2v1h1v-1h2v1h1v-2h2v1h1v1h2v1h1v-1h2v-2h2v1h2v1h1v-3h2v4h1v-1h1v-4h2v3h1v-2h2v4h2h1v-2h2h1v1h2v-1h2v1h1v1h1v-2h2v1h1v1h1v-2h2v1h2v1h1v1h1v-1h2v1h1v-1h2v-1h2v-3h2v3h2h1v1h2h1v-2h2v2h1v-1h1v-3h2v2h2v2h2v-3h2h1v2h1v-4h2v3h2v2h1v-2h2v2h1v-2h2v2h1v-1h2h1v1h2v-4h2h1v3h2h2h2v-2h2v1h1v2h1v-5h2v4h2v1h2h2h1v-2h2v-1h2v-3h2v7h1v-1h1v-1h2v1h2v1h1v-3h2v1h2h1v1h1v-2h2v2h1v-1h2v2h1v-4h2v2h2h1v1h1v-1h2v1h1v-1h2v1h1v-1h2h2v1h2h1v-4h2v2h1v1h2h1v-3h2v4h1v-1h1v-1h2v1h2h2v1h2h1v1h1v-2h2h2v-3h2v4h1v-1h2v-2h2v3h1v-4h2v4h1v-1h1v-2h2v2h2h1v1h1v-1h2h2v2h2h2h2v-4h2v2h2h1v1h1v-2h2v1h2h1v1h1v-2h2v2h1v-1h1v-2h2v3h1v-1h2h2v-1h2v1h1v-1h2v-3h2v4h2h1v-2h2v1h1v-1h2v2h2h2h1v-2h2v1h1v1h2h1v-1h2h2v1h1v-5h2v2h1v2h1v1h2v-3h2v3h2h1v1h1v-2h1v-1h2v2h2h1v-2h2v1h2h2h1v-1h2v2h2v-1h1v-1h2v1h2h2v2h2h2h1v-1h2h2h2h1v-4h2v3h1v1h1v-1h2h2h2v1h2h2v-3h2v3h2h1v-1h2v-1h2v1h2h1v1h1v1h2v-2h2v-6h2v5h2v2h2v-2h2v2h1v-1h2h1v1h1v1h1v-1h2v1h1v-2h2v1h1v-6h2v6h2v1h2h1v1h2h2h1v-2h2h2v2h1v-1h2v-2h2h1v2h1v1h1v-1h1v-1h2h2v-1h2h2h1v1h2h1v1h2v1h1v-3h2h1v1h2v1h2h1v-1h2v-2h2v2h1v-1h2h1v1h2h1v-1h2v2h1v-2h2h1v-2h2v3h1v-1h2v2h1v-3h2v2h2h2h2h1v1h2h1v-1h2v2h1v-1h2h2h2v-1h1v-2h2h2v3h1v-2h2v2h2v-1h2v1h2v-1h2v1h2h2v-1h2v-2h2v2h1v1h2h1v-1h2h1v-1h1v-3h2v4h2h1v-1h2v1h2h1v1h1v-1h2h1v1h2h1v-1h2h1v1h2v-1h1v-3h2v4h1v-1h2v-1h2h2v1h1v-1h2v-1h2v1h2v1h1v1h1v-1h2v-1h2h2v2h2v-1h2h2h2h2v1h2v-1h1v-1h2v1h1v2h1v-3h2v1h1v-2h2v-1h2v2h1v1h1v-4h2v1h2v3h1v1h2v-1h2v1h1v-1h1v-1h2v1h2h1v-1h2v1h2v1h1v-1h2h1v-1h2v2h2h2h1v-3h2v1h1v1h2h1v-3h2v3h2h1v2h2v-2h2v1h2v1h2v-1h2v-2h2h2v2h2v-2h2v2h2h2v-3h2v4h1v-1h2h2h1v1h1v-4h1v-1h2v1h2h1v2h2h1v1h2v-1h2h1v1h2v-1h2h2v1h2h1v-1h2h2v1h2h2v-2h2v1h1v1h2h2v1h1v-2h2v1h1v-1h2v1h1v-2h2v1h1v1h1v-1h2h1v-2h2v3h2v-1h2h1v1h1v-1h1v-1h2v1h2h1v1h1v-2h2v1h1v-1h1v-2h2v4h1v-2h2h2h2v2h1v-4h2v2h2h1v2h2h1v-1h1v-2h2h2h2v2h2h1v-1h2h1v1h2v-1h2h2v1h2v-2h2v2h2v1h1v-1h1v-9h2v9h2h2h2h2v-3h2v2h1v2h1v-2h2v2h2v-4h2v4h1v-1h1v-1h2v2h1v-2h2v1h2v1h1v-2h2v2h1v-2h2v1h1v-1h1v-1h2v2h2v-1h2v2h2v1h1v-3h2v2h1v-3h2v3h1v-1h2v1h2v-2h1v-3h2v3h1v2h1v-1h2h2v1h1v1h1v-1h1v-1h2v1h1v-1h2h2v-1h2v1h1v-3h2v3h1v-1h2v2h1v-1h2v1h1v-3h2h2v1h1v-2h2v4h1v-2h2v1h2v1h2v-3h2v-2h2v4h2h2h2h1v-7h2v7h2h2v-1h2v2h1v-2h2v1h2v1h2v-1h1v-1h2v-5h2v7h1v-1h2h2v-2h2v1h2v1h2v1h1v-3h2v1h2h1v1h2h1v1h1v-1h2h2h1v-1h1v-1h2v2h2h1v-3h2v3h2h2v1h1v1h2v-4h2v3h2h1v-1h2v1h2h2h2h1v-3h2v-1h2v2h2v1h1v-2h2v1h1v1h2h1v-1h2v1h1v-1h2V11h-1h-1h-1h-1v1h-1h-1h-1v-1h-1h-1h-1v1h-1h-1v-2h-1h-1h-1h-1h-1v1h-1h-1v-1h-1v-1h-1h-1h-1v3h-1h-1v-1h-1h-1h-1v1h-1h-1v-1h-1h-1v-2h-1v1h-1v1h-1h-1h-1v1h-1h-1v-2h-1h-1v1h-1v1h-1h-1h-1h-1h-1h-1h-1h-1h-1v-1h-1h-1h-1h-1v-1h-1v1h-1h-1v2h-1h-1h-1h-1v-2h-1v1h-1h-1v-1h-1v5h-1h-1v-3h-1h-1v-1h-1h-1v-1h-1v2h-1h-1v-1h-1h-1h-1v-2h-1v1h-1v2h-1h-1v-2h-1v-1h-1v1h-1h-1h-1v-1h-1h-1v6h-1h-1v1h-1h-1v-5h-1h-1v-1h-1v-1h-1v1h-1h-1v1h-1h-1v-2h-1v1h-1h-1h-1v1h-1h-1h-1h-1v-1h-1v5h-1h-1v-5h-1h-1h-1h-1h-1h-1h-1h-1h-1v2h-1h-1v-1h-1h-1h-1h-1v-2h-1h-1v2h-1h-1h-1v-1h-1v-2h-1v2h-1h-1h-1v-2h-1h-1v3h-1h-1h-1h-1v-1h-1v3h-1h-1v-3h-1v-1h-1v-1h-1v1h-1h-1v-1h-1v1h-1h-1v1h-1h-1h-1h-1v-1h-1v2h-1h-1v-2h-1v1h-1h-1v-1h-1h-1v1h-1h-1v-1h-1h-1v2h-1h-1h-1v1h-1h-1v1h-1h-1v-3h-1v1h-1h-1v-2h-1h-1h-1h-1h-1v2h-1h-1v2h-1h-1v-3h-1h-1h-1v-1h-1v1h-1v2h-1h-1v-3h-1v5h-1h-1v-3h-1h-1v1h-1h-1v-2h-1v1h-1h-1h-1h-1h-1v-1h-1h-1h-1v2h-1h-1v-1h-1v-1h-1v2h-1v3h-1h-1v-3h-1v-2h-1v2h-1h-1v-1h-1h-1v-1h-1h-1h-1h-1h-1h-1v1h-1h-1v-2h-1v3h-1h-1v-1h-1v-1h-1h-1v6h-1h-1v-6h-1h-1h-1h-1v1h-1h-1v-1h-1h-1h-1h-1v-1h-1v2h-1h-1v-2h-1v3h-1h-1v-2h-1v-1h-1h-1h-1v2h-1h-1v-1h-1h-1h-1h-1h-1h-1v1h-1h-1v-3h-1h-1v1h-1h-1h-1v1h-1v3h-1h-1v-4h-1h-1v1h-1h-1v4h-1h-1v-4h-1v-1h-1h-1v-1h-1v2h-1h-1v1h-1v1h-1h-1v-4h-1v1h-1v5h-1h-1v-5h-1v1h-1h-1v-1h-1v1h-1h-1v1h-1h-1v-2h-1v-1h-1v1h-1v1h-1h-1v-1h-1h-1h-1h-1v3h-1h-1v-3h-1h-1h-1h-1h-1h-1h-1h-1v-1h-1v3h-1h-1v-2h-1h-1h-1v2h-1v1h-1h-1v-3h-1h-1h-1h-1h-1v2h-1h-1v-2h-1h-1v1h-1h-1v-1h-1h-1h-1h-1v1h-1h-1h-1h-1v-1h-1h-1h-1h-1h-1v1h-1h-1v-1h-1v1h-1h-1h-1v-1h-1h-1h-1h-1v1h-1h-1h-1v3h-1h-1v-2h-1h-1h-1v-2h-1v1h-1h-1h-1v2h-1h-1v-3h-1v1h-1h-1v-1h-1h-1h-1h-1h-1v5h-1h-1v-3h-1h-1v-1h-1h-1h-1v1h-1h-1h-1v-1h-1v1h-1h-1v-1h-1v-1h-1h-1v1h-1h-1v2h-1h-1v-1h-1v-2h-1v2h-1v2h-1h-1v-3h-1h-1v-1h-1v1h-1v1h-1h-1v-2h-1v1h-1h-1h-1v-1h-1h-1h-1v2h-1h-1v-1h-1h-1v-1h-1h-1v1h-1h-1v-1h-1v1h-1h-1v1h-1h-1v-2h-1h-1v1h-1v1h-1h-1v1h-1h-1v-3h-1h-1h-1v1h-1h-1h-1h-1v-1h-1h-1h-1h-1v2h-1h-1v-1h-1h-1h-1v-1h-1v1h-1h-1h-1h-1h-1h-1h-1v1h-1h-1h-1v1h-1h-1v-2h-1v-1h-1h-1h-1h-1h-1h-1v3h-1h-1v-3h-1h-1h-1h-1v2h-1h-1v1h-1h-1v-3h-1v1h-1h-1v1h-1h-1h-1h-1v-2h-1h-1h-1v5h-1h-1v-6h-1v1h-1h-1v2h-1h-1v-1h-1v1h-1h-1h-1v-1h-1h-1v-1h-1h-1v2h-1h-1v1h-1h-1v2h-1h-1v-1h-1h-1v-3h-1h-1v1h-1h-1v-1h-1h-1v1h-1h-1v-1h-1h-1h-1h-1v2h-1h-1h-1h-1v-2h-1h-1h-1h-1h-1h-1h-1h-1v-1h-1v6h-1h-1v-5h-1v-1h-1v1h-1h-1h-1h-1v1h-1h-1v-2h-1v3h-1h-1v-3h-1h-1h-1h-1h-1v1h-1h-1h-1h-1h-1v-2h-1v3h-1h-1v-2h-1h-1v1h-1h-1v-1h-1h-1h-1h-1v-1h-1v1h-1h-1h-1h-1h-1v2h-1h-1v-2h-1v1h-1h-1h-1v2h-1h-1h-1h-1v-1h-1h-1v-1h-1h-1h-1v6h-1h-1v-6h-1h-1h-1h-1v2h-1h-1h-1v-1h-1h-1v1h-1h-1v-1h-1v-1h-1h-1v1h-1h-1v-2h-1v2h-1h-1v-2h-1v5h-1h-1v-4h-1h-1h-1v-1h-1v1h-1v2h-1h-1v-2h-1v2h-1h-1v-1h-1h-1h-1h-1h-1h-1h-1h-1v1h-1h-1v-2h-1h-1v1h-1v2h-1h-1v-1h-1h-1v-1h-1h-1h-1h-1v-1h-1v2h-1h-1v-2h-1h-1h-1h-1h-1v1h-1v2h-1h-1h-1h-1v-3h-1v-1h-1v1h-1h-1h-1v1h-1h-1v-1h-1v-1h-1h-1v2h-1h-1v-1h-1v3h-1h-1v-1h-1h-1h-1v-1h-1h-1h-1v-1h-1v1h-1h-1h-1v2h-1h-1v-3h-1h-1h-1v2h-1h-1v-1h-1h-1h-1h-1h-1h-1v-1h-1h-1h-1v1h-1h-1v-1h-1v1h-1h-1v-1h-1h-1v1h-1h-1h-1v-1h-1v1h-1v1h-1h-1v-2h-1h-1v1h-1h-1v-1h-1h-1h-1v3h-1h-1v2h-1h-1v-4h-1h-1v6h-1h-1v-7h-1v-1h-1h-1h-1h-1v1h-1h-1v-1h-1h-1h-1h-1v2h-1h-1v-3h-1v2h-1h-1h-1h-1v-1h-1v1h-1h-1v6h-1h-1v-7h-1v2h-1h-1v-1h-1v-2h-1v2h-1v2h-1v1h-1h-1v-1h-1h-1v-2h-1v-1h-1h-1h-1v4h-1h-1v-2h-1h-1v1h-1h-1v-2h-1v1h-1h-1v-1h-1v-1h-1v1h-1h-1h-1v1h-1h-1h-1h-1v-2h-1v1h-1h-1h-1v1h-1h-1v2h-1h-1v-3h-1h-1h-1h-1h-1v-1h-1h-1v-1h-1v1h-1h-1v2h-1h-1v-1h-1h-1v1h-1h-1v-2h-1h-1v3h-1h-1v-2h-1h-1v-1h-1v1h-1h-1v-2h-1v3h-1h-1v-2h-1h-1h-1v2h-1h-1v-1h-1h-1h-1h-1h-1v-1h-1v1h-1h-1h-1v1h-1h-1v1h-1h-1v-2h-1v4h-1h-1v-1h-1h-1v-2h-1v-1h-1h-1h-1h-1v1h-1h-1h-1v-1h-1h-1v1h-1h-1v-1h-1h-1h-1h-1v-1h-1h-1h-1h-1v2h-1h-1v-1h-1h-1h-1h-1h-1v-1h-1v1h-1h-1v-1h-1v1h-1h-1h-1h-1h-1h-1h-1h-1h-1h-1v-1h-1h-1h-1h-1h-1v-1h-1v1h-1h-1v2h-1h-1v-2h-1h-1h-1v1h-1h-1v2h-1h-1v-2h-1h-1h-1h-1h-1v1h-1h-1v-1h-1v-1h-1v2h-1v4h-1h-1v-5h-1h-1h-1h-1h-1v4h-1h-1v-4h-1h-1v1h-1h-1h-1v-1h-1v1h-1h-1v-1h-1h-1h-1h-1v1h-1h-1v-1h-1v1h-1h-1v4h-1h-1v-3h-1v-1h-1v1h-1h-1v-1h-1h-1v-1h-1h-1v3h-1h-1v-1h-1h-1v-1h-1v-1h-1h-1h-1h-1h-1v3h-1h-1v-3h-1h-1h-1h-1v2h-1h-1h-1h-1h-1v2h-1h-1v-4h-1v1h-1h-1h-1v3h-1h-1v-2h-1v-1h-1h-1h-1h-1h-1v-1h-1h-1v1h-1h-1v1h-1h-1h-1h-1h-1v-1h-1h-1v-1h-1v2h-1h-1v-1h-1h-1h-1v1h-1h-1v-2h-1v5h-1h-1v-3h-1v-2h-1v1h-1h-1v-1h-1v1h-1h-1v-1h-1h-1h-1h-1h-1v1h-1h-1v-1h-1h-1h-1h-1h-1v1h-1h-1v-1h-1h-1h-1h-1h-1v1h-1h-1v-2h-1h-1h-1h-1v2h-1h-1v-1h-1h-1v1h-1h-1h-1v-1h-1h-1h-1h-1h-1h-1h-1v-1h-1h-1v2h-1h-1v-2h-1v3h-1h-1v-4h-1h-1v1h-1h-1v-1h-1v1h-1h-1v2h-1h-1h-1h-1v-2h-1h-1h-1h-1h-1v1h-1h-1v-1h-1h-1h-1h-1h-1h-1h-1v4h-1h-1v-3h-1h-1v1h-1v1h-1h-1v-3h-1h-1v1h-1v1h-1h-1v-1h-1h-1v-1h-1v2h-1h-1h-1v-1h-1h-1h-1v1h-1v3h-1h-1v-2h-1v-1h-1h-1v-1h-1v1h-1v1h-1h-1h-1h-1v-1h-1v-1h-1h-1v-1h-1v1h-1h-1v1h-1h-1v-1h-1h-1v-1h-1v1h-1h-1h-1h-1v-1h-1v-1h-1v2h-1h-1v-1h-1h-1h-1h-1v2h-1h-1v3h-1h-1v-5h-1h-1h-1h-1h-1v1h-1h-1v1h-1h-1v-2h-1v1h-1h-1v-1h-1h-1v2h-1h-1v-3h-1h-1v1h-1h-1h-1v1h-1h-1v1h-1h-1v-3h-1v3h-1h-1v-2h-1h-1v1h-1h-1v-1h-1v1h-1h-1h-1v5h-1h-1v-5h-1h-1h-1h-1h-1h-1h-1v1h-1h-1v-2h-1v1h-1h-1h-1h-1h-1v-1h-1h-1v1h-1h-1h-1v1h-1h-1v-1h-1v1h-1h-1h-1h-1v7h-1h-1v-6h-1h-1v-1h-1v-2h-1h-1v1h-1h-1h-1h-1h-1h-1h-1v-1h-1h-1h-1h-1h-1h-1v1h-1h-1v-1h-1h-1v1h-1v2h-1h-1v-1h-1v-1h-1h-1v6h-1h-1v-4h-1h-1v-2h-1v-1h-1v1h-1v2h-1h-1v-3h-1h-1v1h-1h-1h-1h-1v-1h-1v3h-1h-1h-1v-3h-1v1h-1h-1h-1v-1h-1h-1h-1v2h-1h-1h-1v-1h-1h-1h-1v2h-1h-1v-1h-1v-2h-1v1h-1v3h-1h-1v-4h-1v1h-1h-1v1h-1v1h-1h-1v-1h-1h-1v-1h-1h-1v4h-1h-1v-1h-1h-1v-3h-1v2h-1h-1v-2h-1v2h-1h-1v-2h-1h-1v2h-1h-1v-2h-1h-1h-1h-1h-1v1h-1h-1v-1h-1h-1v-1h-1v1h-1h-1h-1h-1h-1h-1v2h-1v1h-1h-1v-3h-1v1h-1h-1v1h-1h-1h-1v-2h-1v1h-1h-1v-1h-1h-1h-1h-1v1h-1h-1h-1v-1h-1v3h-1h-1v-2h-1h-1h-1h-1v-1h-1v1h-1v2h-1h-1v-1h-1v-1h-1v-2h-1h-1v1h-1h-1h-1v2h-1v1h-1h-1v-1h-1h-1h-1h-1v-1h-1h-1h-1h-1h-1h-1v-1h-1h-1v1h-1v1h-1h-1h-1v-1h-1v-1h-1h-1v1h-1v1h-1h-1h-1v-1h-1v-1h-1h-1v1h-1h-1v-1h-1h-1v1h-1h-1v-1h-1v2h-1h-1h-1h-1h-1v2h-1h-1v-4h-1v-1h-1v1h-1v1h-1h-1v1h-1h-1v-2h-1v-1h-1v1h-1h-1h-1h-1v1h-1h-1v-1h-1h-1v1h-1h-1h-1v-1h-1v-1h-1v2h-1h-1v-2h-1h-1h-1v1h-1v7h-1h-1v-5h-1v-1h-1v-1h-1h-1v-1h-1v2h-1h-1v-1h-1v1h-1h-1h-1v-1h-1h-1h-1v-1h-1h-1v1h-1Z"/><path id="t3" d="M0 -11h1v-1h1v-4h2v6h1v-2h2v3h1v-1h1v-1h1v-1h2h1v2h1v-1h2v1h2v-1h2h2v-1h2v2h2h1v-3h1v-1h2v2h2v1h2v-1h2v1h2v-1h2h1v1h2v-1h2v-2h2v2h2v1h2v-1h2v1h1v-1h2h2v1h2h1v-1h2h2v1h1v-2h1v-2h2v3h1v-2h2v2h1v2h2v-1h2h2h2v-2h2v1h2v1h2h1v-2h2v1h2h2h1v-1h2v1h2v1h2v1h1v-1h2h2v-2h2v1h1v-1h2v2h2h2v-2h2v2h1v-1h2h1v1h2h2v1h1v1h1v-1h1v-1h1v-3h2v4h1v1h1v-1h2v1h2v-2h2v1h1v-1h2v1h2h2h1v-1h2v1h1v-1h2v2h2v-2h2v1h2h2h1v-1h2v1h1v-1h2v1h2h2h2h2v-2h2v1h1v1h1v-1h2v1h1v-1h1v-1h2v1h1v1h1v-1h2v-4h2v3h2h1v1h2h1v-1h2v1h2h1v-1h2v1h1v1h2v-2h2v1h1v-1h2v1h2h2v1h1v-1h2v1h1v-1h1v-1h2v1h1v-2h2v1h1v-2h2v4h2v-1h2h1v1h2h1v-1h2v1h1v-3h2h2h2v2h2h2h2v1h1v-1h1v-3h2v2h2v-2h2v3h2v1h1v-4h2v3h2v-1h2v2h1v-3h2h1v1h2v1h2h2h1v-3h2v2h2h2h1v2h1v-1h1v-2h1v-3h2v4h2v-1h2v1h2h1v-2h2v2h1v-1h2v2h2h2h1v1h1v-2h2h2v1h2h1v-1h2h2h2v1h1v-2h2v1h1v1h2v-2h2v3h1v-1h2v1h1v-1h2v-1h1v-1h2v1h2v2h2v-1h2v-5h2v4h1v-1h2v2h2h2h1v-2h2v-1h2v4h2v-3h2v-2h2v4h2h2v1h1v-2h2v1h2v1h2h1v1h1v-2h2v1h2v1h1v-4h2v2h2v-2h2v1h2v1h2h2v-1h2v1h1v-1h2v1h2v-1h2h1v-1h2v2h1v-1h1v-1h2v3h2v-2h1v-3h2v3h1v-1h1v-1h2v2h2h1v1h2h1v-1h2v1h2h2v-2h2v2h1v-3h2v2h2v1h2v-1h2v1h1v-1h2v1h2v-2h2h1v1h2v1h2v-5h2v3h1v2h1v1h1v-1h2v1h2h1v-1h1v-3h2v2h1v1h1v-1h2v1h2h2v-1h2v1h1v-2h2v2h1v-1h2h1v1h2h2h1v-2h2v1h2h2v1h2v-1h1v-5h2v1h1v4h1v1h2h1v1h1v-1h2h2h1v1h1v-1h2v-1h2v1h2h2h2h1v1h2v-1h2h1v-1h2v2h1v-1h2h2v1h1v-1h1v-1h2v-1h2h1v2h1v-1h2v1h2v-1h1v-2h2v3h2h2h2h2h2h2v-1h2h2v1h2v1h2v-3h2h2v3h2v1h2h1v-1h2h2h2v1h1v-3h2v2h2h1v-1h2v1h1v-2h2v1h1v-1h2v1h2h2h1v2h1v-1h2h1v-2h2h2v1h1v1h1v-2h2v-1h2v1h1v1h2v1h2h1v-1h2v1h2h1v-2h2h1v-1h2v2h2h1v1h1v-2h2v3h1v-1h2h1v-1h2v1h2v-3h2v2h2h2h1v1h2h1v1h1v-1h2h1v-1h2v1h2h2v-1h2h2h1v1h1v-1h2h2h1v1h2v-1h2v2h1v-2h2h1v1h1v-1h1v-1h2v1h1v-1h2v1h1v-1h2v1h1v-1h2v1h2h1v-1h2v-1h2v2h2h2v-1h2v1h1v-1h2v-1h2v2h2h2h1v-1h2h2h1v-1h2v1h2v1h2v-1h2h2v1h1v-3h2v3h2v-1h2v-3h2v3h2h1v-3h2v3h2h2v-2h2v2h1v2h1v-1h2h2v-1h2v2h1v-1h2v-1h2v1h1v1h1v-1h2v1h2v-1h2v1h1v-2h2v1h1v2h2v-3h2v2h1v-2h2h1v2h1v-1h2h2h2v1h2v-1h2h1v-1h2v2h2h2v-1h2v-3h2v3h1v1h2h2v1h2v-1h2h1v-1h2v1h1v-1h2v2h1v-2h2v1h2h2v1h1v-1h1v-1h2v1h1v-1h2v1h2v-1h2h1v2h2v-5h2v3h1v1h2h1v-1h2v1h2v-3h2v2h2h2v1h1v-1h2h2h2h1v1h2v-1h2h1v1h1v-3h2v2h1v1h2v-1h2h1v-1h2v1h1v-1h2v-2h2v2h1v-1h2h1v2h1v-4h2v2h1v3h1v-4h2v3h1v1h1v-1h2v-1h1v-1h2v1h2h2v1h2v-1h2v1h1v2h1v-6h2v5h1v-1h2v-1h2h1v2h1v1h2h1v-1h1v-1h2v1h2h1v-1h2h2v-1h2v1h1v-1h2h2v1h1v1h2v-4h2v2h1v1h1v1h1v-1h2v-1h1v-1h2h1v1h2h1v1h2h1v-2h2v2h2h2h1v-1h2h2h2h2h2h2h2v1h2v-1h2v1h1v-2h2v2h2v-1h2h2h1v1h1v-4h2v3h1v-1h2h1v1h2v1h1v1h1v-2h2v1h2v-1h2v1h1v-1h2h1v-4h2v5h2v-1h2h1v1h1v-1h2v-3h2v4h1v-4h2v3h1v1h2v-2h2v1h2v1h2h1v-1h2h2v1h2h1v-1h2v1h1v-1h2h2h2h2v1h2h1v-3h2v3h1v-4h2v3h2h2v1h2v-1h2h2h2h2h1v1h2v-1h2v-1h2v2h1v-3h2v2h1v1h2h2v-2h2v2h2h1v-2h2v2h2v-2h2v2h2h1v-1h2v2h2v-1h2v1h2v-1h2h2v1h2h2h2v-1h1v-1h2v1h2h1v1h2h1v-1h2v-1h2v-1h2v2h2h1v1h2h2h2h1v-2h2v1h1v-1h1v-1h2v3h2v-1h2h1v1h1v-2h2v1h2h1v-1h2h2h2h1v1h2h1v-4h2v1h1v4h1v-1h2v-3h2v3h2h1v-2h2v1h2v-1h2v1h1v1h1v-1h2v1h2h1v-1h1v-2h2v3h2v-2h2v1h2v1h2v-1h2v1h2v-3h2v3h1v1h2v-3h2v1h2v2h1v-2h2v1h2h2h1v-1h2h2h1v2h2h2v-2h2v1h2h1v-2h2v1h2h2h2h2v1h2h2h1v-1h2h2h1v-3h2v4h1v-2h2v2h1v-1h2h1v-1h2v2h2h1v-1h2h2h1v2h1v-2h2h2v1h2h2h2v1h2v-6h2v4h2v-1h2v1h2h1v-2h2v3h1v-1h2h2h1v-1h2v1h1v2h1v-2h2v1h2h2v-1h2h2v1h2h2v1h1v-3h2v3h1v-1h1v-3h2v3h2v-6h2v6h1v1h2h2h2h1v-1h2v1h2v1h2v-3h2v3h1v-2h2v1h1v-2h2v1h2h2h1v1h2v-1h2v2h1v-2h2v2h2v-3h2h1v1h2v2h1v-1h1v-1h2h1v1h2v-1h2h2v1h2v-2h2v2h1v-1h1v-2h2v1h2h1v1h2v1h1v-2h2v1h2v1h2h1v-1h2v1h2h2h2h1v-1h2v-4h2v1h2v4h1v-1h2h1v-2h2v2h2v2h1v-3h2v2h1V10h-1h-1h-1v-1h-1h-1h-1v2h-1h-1v-1h-1v1h-1h-1v-1h-1v1h-1h-1h-1h-1h-1v-1h-1h-1v-1h-1v2h-1h-1v1h-1h-1h-1v-1h-1v-1h-1v1h-1h-1v-2h-1v1h-1v1h-1h-1v4h-1h-1v-3h-1h-1v-2h-1v-1h-1v3h-1h-1v-2h-1v1h-1h-1v-1h-1v6h-1h-1v-6h-1h-1v1h-1h-1h-1v-1h-1v3h-1h-1v-3h-1h-1h-1v2h-1h-1v-1h-1h-1v-1h-1h-1h-1h-1v1h-1h-1v-2h-1h-1v1h-1h-1h-1h-1v-1h-1h-1v1h-1h-1h-1v-1h-1v2h-1h-1h-1h-1v-1h-1h-1h-1h-1h-1h-1h-1v1h-1h-1v2h-1h-1v-3h-1h-1v2h-1v3h-1h-1v-4h-1h-1h-1h-1v1h-1h-1v-1h-1h-1v1h-1h-1h-1h-1h-1h-1v-2h-1h-1v1h-1h-1v1h-1h-1h-1h-1h-1h-1h-1h-1v-1h-1h-1h-1h-1v1h-1h-1h-1v1h-1h-1v-2h-1v1h-1v5h-1h-1v-6h-1h-1h-1v2h-1h-1v-1h-1h-1v-1h-1v1h-1h-1h-1h-1h-1h-1h-1h-1v-1h-1h-1v-1h-1v2h-1h-1v-2h-1h-1v1h-1v1h-1h-1h-1v-1h-1h-1v1h-1h-1v-1h-1h-1h-1v1h-1h-1v-1h-1h-1v1h-1v2h-1h-1v-1h-1h-1v-1h-1v1h-1h-1v-2h-1v1h-1h-1h-1v2h-1h-1v-3h-1v-1h-1h-1v1h-1v1h-1v2h-1h-1v-1h-1h-1v-2h-1v1h-1h-1v-2h-1v3h-1h-1v-2h-1v-1h-1h-1h-1v1h-1h-1v-1h-1h-1v2h-1h-1v-2h-1v3h-1h-1v1h-1h-1v-4h-1h-1h-1v2h-1v5h-1h-1v-6h-1h-1v-1h-1v2h-1h-1v-1h-1h-1h-1h-1v1h-1h-1v-2h-1v1h-1h-1h-1v6h-1h-1v-5h-1h-1v1h-1h-1v-2h-1v12h-1h-1v-11h-1h-1v-1h-1h-1h-1h-1h-1v3h-1h-1v-3h-1v1h-1h-1v-1h-1v-1h-1h-1v3h-1h-1v-1h-1h-1h-1h-1v1h-1h-1v-2h-1v2h-1h-1v-1h-1h-1h-1v3h-1h-1v-3h-1h-1h-1v-2h-1v1h-1v1h-1h-1v-1h-1h-1h-1h-1h-1h-1v-1h-1h-1h-1v1h-1h-1v-1h-1h-1v1h-1v2h-1h-1v-1h-1h-1v3h-1h-1v-5h-1v1h-1v1h-1h-1v-2h-1v1h-1h-1h-1h-1h-1v-1h-1v2h-1h-1v-2h-1h-1h-1h-1h-1h-1h-1v1h-1h-1h-1h-1h-1h-1v-1h-1h-1h-1v4h-1h-1v-2h-1h-1v-1h-1h-1h-1h-1h-1h-1h-1h-1v1h-1h-1v-1h-1h-1h-1h-1h-1h-1h-1v1h-1h-1v-1h-1v2h-1h-1v-2h-1h-1v2h-1h-1v-2h-1v1h-1h-1v1h-1h-1v-2h-1h-1v-1h-1h-1v4h-1h-1v-3h-1h-1h-1h-1v4h-1h-1v-4h-1v-1h-1v1h-1h-1v1h-1h-1v-1h-1v2h-1h-1h-1h-1h-1h-1v-1h-1h-1h-1v1h-1h-1h-1h-1v-1h-1v-1h-1v-1h-1v1h-1v3h-1h-1v-3h-1h-1h-1h-1h-1v1h-1h-1h-1h-1h-1h-1h-1v-1h-1v2h-1h-1v-1h-1h-1h-1v1h-1h-1v-2h-1h-1h-1h-1h-1h-1h-1h-1h-1v1h-1h-1v1h-1h-1v-2h-1h-1h-1v1h-1h-1v1h-1h-1v-1h-1v-1h-1h-1h-1v2h-1h-1v-2h-1h-1h-1h-1v1h-1h-1h-1v2h-1h-1v-1h-1h-1v-1h-1h-1h-1v1h-1h-1v-2h-1h-1h-1v1h-1h-1v1h-1h-1v-2h-1h-1h-1h-1v1h-1v3h-1h-1v-4h-1v-1h-1v1h-1h-1h-1h-1h-1h-1h-1v-1h-1v1h-1h-1h-1h-1h-1h-1h-1h-1v1h-1h-1h-1h-1v1h-1h-1v-1h-1h-1h-1v-1h-1v2h-1h-1v-2h-1v-1h-1v1h-1h-1v-1h-1v-1h-1v1h-1h-1v2h-1h-1v-2h-1h-1h-1v3h-1h-1v-2h-1v1h-1v1h-1h-1v-2h-1v-1h-1h-1v1h-1h-1v4h-1h-1v-4h-1v1h-1h-1h-1h-1h-1v-1h-1v1h-1h-1v-2h-1h-1v1h-1h-1h-1v1h-1h-1v-2h-1h-1v1h-1v3h-1h-1v-4h-1v1h-1h-1v3h-1h-1h-1v-1h-1v-1h-1v1h-1h-1v-1h-1h-1v-1h-1h-1h-1v1h-1h-1v-1h-1v-1h-1v1h-1v1h-1h-1v-1h-1h-1h-1h-1h-1v4h-1h-1h-1v-5h-1h-1h-1v1h-1h-1v-1h-1v2h-1h-1v-1h-1v1h-1h-1v-2h-1h-1v-1h-1h-1h-1v2h-1v1h-1h-1v-1h-1h-1v-2h-1v1h-1h-1h-1v-1h-1v2h-1h-1v-1h-1v2h-1h-1v-2h-1h-1h-1h-1h-1h-1h-1h-1h-1h-1v1h-1h-1v-1h-1v2h-1h-1v-3h-1v1h-1v1h-1h-1h-1h-1v-1h-1v2h-1h-1h-1v-2h-1v1h-1h-1v-2h-1v3h-1h-1v-1h-1h-1v1h-1h-1h-1v-1h-1h-1h-1h-1v-1h-1v2h-1h-1v-1h-1h-1v1h-1h-1v-2h-1v2h-1v1h-1h-1v-2h-1h-1h-1v-2h-1h-1v1h-1v1h-1v3h-1h-1v-2h-1h-1h-1v-3h-1v1h-1h-1h-1h-1v2h-1h-1v-1h-1h-1h-1h-1h-1h-1v1h-1h-1v-1h-1h-1h-1h-1v1h-1h-1v-1h-1v1h-1v1h-1h-1v-2h-1v1h-1h-1h-1h-1h-1v-1h-1v2h-1h-1v-1h-1v-1h-1h-1v-1h-1h-1v1h-1h-1h-1h-1h-1v2h-1h-1v-1h-1h-1v-2h-1v2h-1h-1h-1h-1v-1h-1h-1h-1h-1h-1v1h-1h-1v2h-1h-1v-2h-1h-1h-1h-1h-1h-1h-1h-1h-1h-1v-1h-1v2h-1h-1v-1h-1h-1v-1h-1h-1h-1v1h-1h-1v-2h-1h-1h-1h-1v1h-1h-1v-1h-1h-1v1h-1h-1h-1v1h-1h-1v-1h-1h-1v-1h-1v1h-1h-1v-1h-1h-1v1h-1h-1h-1h-1h-1v-1h-1v1h-1h-1v2h-1h-1v-2h-1v-2h-1v1h-1h-1v3h-1h-1v-1h-1h-1v-1h-1h-1v-1h-1h-1v2h-1h-1v-2h-1h-1h-1h-1h-1v2h-1h-1v-3h-1v1h-1v1h-1h-1h-1h-1v-2h-1v1h-1v1h-1h-1h-1v2h-1h-1v-2h-1v-1h-1h-1v1h-1h-1h-1h-1v1h-1h-1h-1v-1h-1v-1h-1h-1v1h-1h-1v-1h-1h-1v1h-1h-1h-1h-1h-1h-1v-1h-1v3h-1h-1v-1h-1v-1h-1v-1h-1h-1v2h-1h-1v-1h-1h-1h-1h-1h-1h-1h-1v2h-1h-1v-3h-1v-1h-1h-1v1h-1h-1v-1h-1v2h-1h-1h-1v-1h-1h-1h-1h-1v1h-1h-1v-1h-1v3h-1h-1v-3h-1v1h-1v2h-1h-1v-1h-1v-1h-1h-1v1h-1h-1h-1h-1v4h-1h-1v-5h-1v1h-1h-1v-1h-1h-1v1h-1v1h-1h-1v-2h-1h-1h-1v1h-1h-1v-1h-1v1h-1h-1v-1h-1h-1h-1v3h-1h-1v-2h-1h-1v-1h-1v1h-1h-1h-1h-1h-1h-1h-1v-1h-1v1h-1h-1v2h-1h-1v3h-1h-1v-6h-1h-1h-1h-1v2h-1h-1v-2h-1h-1v1h-1h-1v-2h-1h-1v1h-1h-1h-1h-1v-1h-1v1h-1h-1v-1h-1v3h-1h-1h-1h-1h-1h-1h-1v-2h-1h-1h-1h-1v1h-1v1h-1h-1v-2h-1h-1h-1h-1h-1h-1v4h-1h-1v-4h-1h-1v-1h-1v1h-1h-1h-1h-1v-1h-1h-1h-1v1h-1h-1v-1h-1h-1v1h-1h-1h-1h-1v1h-1h-1v-2h-1v1h-1v1h-1h-1h-1h-1h-1h-1h-1h-1v-1h-1h-1v1h-1h-1v-1h-1v1h-1h-1v-1h-1v3h-1h-1v-2h-1h-1v2h-1h-1v-1h-1v-2h-1v-1h-1v1h-1h-1h-1h-1h-1v-1h-1h-1v1h-1h-1v1h-1h-1h-1h-1v-1h-1h-1h-1h-1h-1v1h-1h-1v-1h-1v2h-1h-1v-1h-1v5h-1h-1v-4h-1v-1h-1v-1h-1h-1v2h-1h-1h-1h-1h-1v2h-1h-1v-4h-1h-1v-1h-1h-1h-1h-1h-1h-1h-1h-1v2h-1h-1v-1h-1h-1v-1h-1h-1h-1v-1h-1h-1v2h-1v1h-1h-1v-1h-1h-1v1h-1h-1v-2h-1v1h-1h-1v-1h-1v2h-1h-1v-1h-1h-1h-1v-1h-1v1h-1h-1h-1h-1v-1h-1h-1v1h-1h-1v1h-1h-1h-1v-1h-1h-1h-1h-1h-1h-1h-1h-1v-1h-1v1h-1h-1v-1h-1v1h-1v1h-1h-1h-1h-1h-1v-1h-1h-1h-1h-1v-1h-1v1h-1h-1h-1h-1v1h-1h-1v-1h-1h-1h-1h-1h-1h-1h-1h-1h-1v-1h-1v2h-1h-1h-1h-1h-1h-1h-1v-1h-1h-1v1h-1h-1h-1h-1h-1v-1h-1h-1v2h-1h-1v-2h-1h-1h-1h-1v-1h-1h-1v1h-1h-1h-1h-1v1h-1h-1v-1h-1h-1h-1h-1h-1h-1v-2h-1v2h-1h-1h-1h-1h-1v-1h-1h-1h-1h-1h-1h-1h-1v1h-1v1h-1h-1v-2h-1h-1v1h-1h-1v-1h-1h-1h-1h-1v3h-1h-1v-2h-1h-1h-1v-1h-1v-1h-1v3h-1h-1h-1v-1h-1v-1h-1v1h-1h-1h-1h-1h-1h-1h-1h-1h-1v4h-1h-1v1h-1h-1v-3h-1v-1h-1v-2h-1v1h-1h-1h-1h-1h-1v-1h-1h-1h-1v1h-1h-1v2h-1h-1v-3h-1v1h-1h-1v-1h-1v1h-1h-1v3h-1h-1v-2h-1h-1v-2h-1v1h-1h-1h-1v2h-1h-1v-3h-1v1h-1v2h-1h-1v-3h-1h-1h-1h-1v2h-1h-1v-2h-1h-1h-1h-1h-1v-1h-1v1h-1v1h-1h-1v-1h-1h-1h-1h-1v3h-1h-1v-2h-1h-1v-1h-1h-1h-1h-1h-1h-1h-1h-1h-1h-1h-1h-1v-1h-1v1h-1h-1h-1h-1h-1h-1v1h-1h-1v2h-1h-1v-3h-1h-1v2h-1h-1v-2h-1h-1v1h-1v1h-1h-1v-1h-1h-1v2h-1h-1v-3h-1h-1v1h-1v1h-1h-1v-2h-1v1h-1h-1v1h-1h-1v-1h-1v1h-1h-1v-1h-1v1h-1h-1v-1h-1v1h-1h-1h-1v-1h-1v1h-1v2h-1h-1v-2h-1h-1v-1h-1v3h-1h-1v-2h-1h-1h-1h-1v-1h-1h-1h-1v1h-1h-1h-1h-1v-1h-1v1h-1h-1v-1h-1h-1v2h-1h-1h-1h-1v-1h-1h-1v-1h-1h-1v1h-1h-1v-1h-1v2h-1h-1v-2h-1h-1h-1v1h-1h-1v3h-1h-1v-3h-1v-1h-1v2h-1h-1v-2h-1v6h-1h-1v-7h-1v3h-1h-1h-1h-1v-1h-1h-1v-2h-1v1h-1h-1h-1v2h-1h-1v-1h-1h-1v-1h-1h-1h-1v1h-1h-1h-1h-1v-2h-1v1h-1h-1v5h-1h-1v-4h-1h-1v-1h-1h-1h-1h-1h-1h-1v-1h-1h-1h-1h-1h-1v1h-1h-1h-1h-1h-1h-1h-1h-1v-1h-1v1h-1h-1h-1v1h-1Z"/><path id="t4" d="M0 -11h2v-1h2v1h2h1v1h1v-1h2v-5h2v5h1v-1h2v1h2h2h1v1h1v1h1v-5h2v5h2v-2h2h2h1v-2h2v1h2v1h1v1h2h1v-2h2v2h2h1v-1h1v-1h2v1h2h2v1h2h2v-1h1v-1h2v2h2h2h1v-3h2v2h1v1h1v1h1v-1h2h1v-2h2h2v2h2v-1h2v-1h2v1h2v1h2h1v-8h2v6h1v1h1v1h1v-1h2h2h1v2h1v-1h1v-1h2v2h1v-1h2v-5h2v6h1v-2h2v2h1v-1h2h2v1h1v-1h1v-1h2v1h2v-1h2v1h2v-2h2v2h1v-2h1v-1h2v4h1v-1h1v-1h2v1h2h2h2h1v-2h2v2h2h2v-2h2h2v1h2v1h1v-1h1v-1h2v1h2h1v-1h2v1h2v1h2v-1h1v-1h2h2h2v1h1v-1h2v1h2h2h2h2v-2h2v3h1v1h2h2v-6h2v2h2h1v2h2h2h1v-2h2v3h1v-1h2v1h1v-5h2v3h1v2h2v-1h2h2h1v-1h2v1h2v-2h2h2v1h1v1h1v-2h2v1h1v1h1v-1h2h2h1v2h1v-1h2v1h1v-2h2v1h1v1h2v-1h1v-2h2v1h2h1v2h1v-2h2h1v1h1v1h2v-2h2v1h1v-1h2h2h2h2h1v-2h2v2h2v-2h2v4h1v-2h2h1v2h1v-2h2v1h2h1v-4h2v2h2v1h2v1h2v-1h2h2h1v1h2v-1h2h2h2v1h1v1h1v-2h2h2v2h2v-1h2v1h1v-3h2v2h2v-1h2v1h2v1h1v-2h2h1v2h2h1v-1h2h2h1v-1h1v-2h2v2h2h2h1v-1h2v2h1v-1h2v1h1v-1h2h2v-2h2v2h2v-2h2v3h2h2v1h1v-1h1v-1h2v1h1v-1h2h2v1h2v-1h2v-1h2v-1h2v1h1v-1h2v2h2v-1h2v2h1v-1h2v1h1v1h1v-1h2h1v-1h2v-2h2v2h1v2h2v-1h2v-5h2v5h2h2v-1h2v1h1v1h1v-1h2h2h1v-2h2h2v2h2h2v-1h2v1h2v-1h2v1h2h2h2h1v-2h2v1h2v1h1v-4h2v3h2h2h2h1v-1h2h1v1h1v1h2h2v-1h2v1h1v-1h1v-2h2v2h1v1h1v-2h2v2h1v-3h2v1h1v-4h2v6h1v-1h1v-1h2v1h1v-1h2h2h1v2h1v-1h2v1h2v1h2v-1h2h2v-1h2v-1h2h2v2h2h1v-1h2h1v1h2v-1h2h2h1v1h2v1h1v-3h2v1h1v1h1v1h1v-1h1v-1h2h1v1h2h2h1v-1h2v1h2h1v-2h1v-3h2v2h1v2h1v-1h2v2h1v-1h2v1h2v1h1v-2h2h2v2h2v-1h1v-1h2v3h1v-5h2v4h2h2v-1h2h2h1v1h2h2h1v-1h2h1v1h2h1v-2h2v2h2h2v-1h2v1h1v1h2v-1h2v1h2v-2h2v1h1v1h1v-1h1v-3h2v3h2h1v-2h1v-2h2v1h1v2h2v1h2v-1h2v-1h2h1v1h2h2v-1h2v2h1v-1h2v-1h2h1v1h2h1v1h2v-1h2h1v1h2v-1h1v-1h2v1h1v2h1v-1h1v-4h2v5h1v-1h2h2h1v-1h2h2v1h1v-1h2h2v1h1v-1h2h2h1v2h2v-1h2v-1h2h1v1h1v-2h2v1h1v-2h2v3h1v-1h1v-1h1v-1h2v3h2h2h2v-1h2v1h2v-1h2v1h2h1v1h2v-2h2h1v1h1v1h1v-4h2v2h2v1h2v-1h2h1v-1h2v1h2h2h2h1v1h1v-3h2v4h2v-4h2v2h1v1h1v1h2v-1h1v-1h2v1h2v-1h2v1h2h1v-2h2v1h2h2v1h2h2h2h2v-2h2v2h2h2v-2h2v1h1v1h1v-1h2v1h1v-4h2v3h1v1h2h1v-1h2h2v1h2v-1h2v-4h2v5h1v-3h2v3h2v-1h2v1h2h1v-4h2v3h2h2v1h2h2h1v1h1v-1h2v-1h2v1h2h1v-2h2h1v-4h2v4h2v1h1v-1h2v2h2h2h1v-1h2h1v1h1v-1h2h2v1h1v-1h1v-1h2v-1h2v3h2v-2h2v1h1v-3h2v4h1v-2h2v1h2h2v1h1v-2h2h1v2h1v-2h2v-1h1v-4h2v4h1v1h1v1h1v1h2v-2h2v1h1v-1h2v1h2v-1h1v-1h2v1h2v-1h2v2h1v1h1v-1h2v-1h2v2h2v-1h2v-1h2v2h1v-6h2v3h2v2h2v-2h2v1h2h2v1h2h1v1h1v-2h2h2v2h1v-2h2v1h1v-6h2v6h1v-1h2v1h2v-2h2v2h1v-2h2v-2h2v4h2h2v1h1v-1h2v-1h2v1h1v-1h2h2v1h1v-1h2h2v1h2h1v-3h2v3h2h2h2h1v-1h2v1h2h1v-1h2h1v1h1v-1h2v1h2v-1h2v1h2h2v1h1v-1h1v-1h2v1h1v1h1v-3h1v-1h2v3h2v-1h2v1h2h1v-4h2v4h1v-2h2h2v3h2v-2h2v-1h2v1h2v-1h2v-3h2v4h1v1h1v-2h2v3h2h1v-1h2v-2h2v2h2h2h2h2h1v1h1v-2h2h2h1v2h1v-2h2v1h1v1h1v-1h1v-1h2v1h2h2v1h2h2h1v-5h2v5h1v-1h2v1h2h2v-1h2v1h2h2h2h2h2h1v-2h2h2h2h1v1h2v1h2h2h2v-2h2v1h2h2v-1h2h2h1v1h1v-2h2v3h1v-1h2v1h2v-1h2h1v-1h2v1h2h2h2h2h2h1v-2h2v-3h2v3h2v1h2h1v2h1v-1h1v-1h2v1h2h2v-1h2h1v1h1v-1h2v1h2v-1h2h2v1h1v-3h2v2h2h2h1v-1h2v1h2v1h2h2v-2h2v1h1v-1h2v1h2v1h2h2v-1h2v1h2v1h1v-1h2v1h1v-1h2v-1h2v2h2v-1h1v-1h1v-2h2v3h1v-2h2v3h1v1h1v-2h2v-3h2v2h1v1h1v-3h2v2h2h2h1v1h2h2v-4h1v-1h2v6h1v-2h2v-3h2v5h2v-1h1v-1h2v1h2h2v1h2h1v-2h2h2h1v1h1v-2h2v2h1v-1h1v-4h2v4h1v2h2h1v1h1v-2h2v1h2v-1h2h1v1h1v-1h2v-1h1v-1h2h2v1h1v1h2h1v1h2v-1h2h2v1h1v-1h2v1h1v-2h1v-1h2v2h2h2h1v-1h2h2h1v2h1v-3h2v3h2v-1h2v1h1v-1h2h1v-2h2v2h2h2v-1h2h2v1h1v-4h2v3h2h2h1v1h1v-1h2v1h1v-1h2h1v-1h2v1h2h1v-4h2v4h2h1v1h1v-1h2v1h1v-1h2v1h2v-1h2v-1h2h1v1h2h2h1v1h2h2h1v-2h2v1h1v1h1v-1h1v-1h2v2h1v-3h2v2h1v1h2v-1h2v1h2h1v-1h2v1h2h2v1h2v-5h2v5h1v-1h2h1v-2h2v3h2h2v-1h2h1v1h1v-2h2v1h2v-6h2v4h1v2h1v1h2h1v-1h2h2v1h2h2v-1h2v-3h2v4h1V11h-1h-1v-2h-1v1h-1h-1v2h-1h-1v-3h-1v1h-1v2h-1h-1v1h-1h-1v-3h-1v-1h-1v2h-1h-1h-1h-1h-1h-1h-1v-1h-1h-1h-1v-1h-1h-1v1h-1h-1h-1h-1v1h-1h-1v-1h-1h-1h-1h-1h-1h-1h-1v1h-1h-1v1h-1h-1v-1h-1v1h-1h-1h-1h-1v-1h-1h-1h-1h-1h-1v1h-1h-1h-1h-1h-1v-1h-1h-1v2h-1h-1v-2h-1h-1v1h-1h-1h-1h-1v-1h-1h-1v3h-1h-1v-3h-1h-1h-1v2h-1h-1v-1h-1v-1h-1v2h-1h-1v-1h-1h-1h-1h-1h-1v-1h-1v6h-1h-1v-4h-1v-2h-1h-1h-1v1h-1h-1h-1v-1h-1h-1v1h-1h-1h-1h-1h-1v2h-1h-1v-2h-1v1h-1h-1v-1h-1h-1h-1v-1h-1h-1h-1v1h-1v1h-1h-1v-2h-1h-1h-1h-1h-1h-1h-1h-1h-1v-1h-1v1h-1h-1h-1h-1h-1v1h-1h-1v-1h-1h-1v-1h-1h-1v3h-1h-1h-1h-1h-1v-1h-1v-2h-1v2h-1h-1v-2h-1h-1h-1v3h-1h-1v-3h-1h-1v1h-1h-1v-1h-1v4h-1h-1v-1h-1h-1h-1v-2h-1h-1v-1h-1v1h-1h-1h-1h-1h-1h-1h-1h-1v-1h-1h-1h-1h-1v2h-1h-1v-2h-1h-1v2h-1h-1v1h-1h-1v-1h-1v-1h-1h-1v-1h-1v1h-1h-1h-1h-1v1h-1h-1v-2h-1v-1h-1v2h-1h-1h-1h-1h-1h-1v-1h-1v4h-1h-1v-3h-1v2h-1h-1v-1h-1v-1h-1h-1v-1h-1v1h-1h-1v1h-1h-1h-1h-1v-2h-1v1h-1h-1v1h-1h-1v-1h-1v-1h-1h-1h-1v2h-1h-1v-2h-1v2h-1h-1h-1h-1v1h-1h-1v-2h-1h-1h-1h-1h-1h-1v-1h-1v1h-1v2h-1h-1v-2h-1h-1h-1h-1h-1h-1v-1h-1h-1v2h-1h-1v-2h-1v1h-1h-1v2h-1h-1v-2h-1v1h-1h-1v3h-1h-1v-4h-1h-1h-1v1h-1v1h-1h-1v-1h-1v-1h-1v3h-1h-1v-3h-1h-1h-1h-1h-1v2h-1h-1v-1h-1h-1v1h-1h-1v-1h-1v-1h-1h-1h-1h-1h-1h-1h-1h-1v2h-1h-1v-2h-1v1h-1h-1h-1h-1v-1h-1h-1v1h-1h-1v-1h-1h-1v2h-1h-1h-1v-2h-1h-1h-1h-1h-1v-1h-1v2h-1h-1v-1h-1h-1v-1h-1h-1h-1v1h-1h-1v-1h-1h-1v4h-1h-1v-4h-1h-1h-1h-1v1h-1h-1v-2h-1h-1v1h-1v1h-1h-1v-2h-1v2h-1h-1v-1h-1v2h-1h-1v-1h-1h-1h-1h-1h-1h-1v2h-1h-1v-2h-1v-2h-1v3h-1v3h-1h-1v-6h-1h-1h-1v6h-1h-1v-5h-1v1h-1h-1h-1v-1h-1v1h-1h-1v1h-1v4h-1h-1v-6h-1h-1v1h-1h-1h-1h-1h-1h-1h-1h-1h-1v1h-1v2h-1h-1v-2h-1h-1v-1h-1v1h-1v6h-1h-1v-5h-1v-2h-1v2h-1h-1v-3h-1h-1v1h-1h-1v2h-1h-1v-1h-1h-1v-1h-1h-1h-1v1h-1v7h-1h-1v-8h-1v1h-1h-1v-2h-1h-1v3h-1h-1v-3h-1h-1v2h-1h-1v-1h-1v2h-1h-1v-3h-1v3h-1h-1h-1v-1h-1h-1h-1h-1h-1h-1v-1h-1h-1h-1v1h-1v3h-1h-1v-2h-1v-2h-1h-1v2h-1h-1v2h-1h-1v-4h-1h-1h-1h-1h-1h-1v-1h-1h-1v1h-1h-1v-1h-1h-1h-1v2h-1h-1v1h-1h-1v-3h-1h-1v1h-1v1h-1v1h-1h-1v1h-1h-1v-3h-1v1h-1h-1v2h-1h-1v-2h-1v3h-1h-1h-1v-3h-1h-1v1h-1h-1v-2h-1h-1v1h-1h-1h-1v-1h-1v-1h-1h-1v1h-1h-1h-1h-1v1h-1h-1v-2h-1h-1v1h-1h-1h-1v-1h-1v1h-1h-1h-1v-1h-1v1h-1h-1v1h-1h-1v1h-1v1h-1h-1v-2h-1v1h-1v1h-1h-1v-1h-1v-1h-1h-1v-1h-1v-1h-1v1h-1h-1v-2h-1v2h-1h-1h-1v-1h-1h-1v4h-1h-1v-3h-1h-1h-1h-1v-1h-1h-1v1h-1h-1h-1h-1h-1v1h-1h-1h-1v-2h-1h-1v1h-1h-1h-1v4h-1h-1v-3h-1v-1h-1h-1v1h-1h-1h-1h-1v1h-1h-1v-1h-1h-1v-1h-1h-1v-1h-1v2h-1v1h-1h-1v1h-1h-1v-2h-1v-2h-1v1h-1h-1h-1v2h-1h-1v-1h-1h-1v-1h-1h-1h-1h-1v1h-1h-1v-1h-1h-1v-1h-1h-1v1h-1h-1v1h-1h-1v-1h-1h-1h-1h-1v-1h-1v1h-1h-1v-1h-1v1h-1v1h-1h-1v-1h-1v-1h-1v1h-1h-1v3h-1h-1v-3h-1h-1h-1v-1h-1h-1h-1v1h-1h-1v1h-1h-1v-2h-1v1h-1h-1h-1h-1v-1h-1v-1h-1h-1v1h-1h-1h-1h-1h-1v1h-1h-1h-1h-1h-1h-1v1h-1h-1h-1h-1v-1h-1v-1h-1h-1v1h-1h-1v1h-1h-1v-1h-1v-1h-1h-1v3h-1h-1v-2h-1h-1v-1h-1v2h-1h-1v2h-1h-1v-2h-1v-1h-1v-1h-1h-1h-1v3h-1h-1v-2h-1v-1h-1v-1h-1v1h-1h-1h-1h-1h-1v4h-1h-1v1h-1h-1v-4h-1h-1v1h-1h-1v-1h-1v-1h-1v1h-1h-1h-1v4h-1h-1v-4h-1v-1h-1h-1v1h-1h-1h-1v-1h-1h-1h-1h-1v1h-1h-1h-1h-1h-1v-1h-1v3h-1h-1v-1h-1h-1h-1h-1h-1v-2h-1h-1h-1h-1h-1v1h-1h-1v-1h-1v1h-1v1h-1h-1h-1h-1v-2h-1v1h-1h-1v-1h-1h-1v3h-1h-1v-4h-1v3h-1h-1v-2h-1v2h-1h-1h-1v-2h-1h-1h-1h-1h-1h-1h-1h-1v2h-1h-1v-2h-1v1h-1h-1v-1h-1v4h-1h-1v-1h-1v-3h-1h-1h-1h-1h-1v1h-1v3h-1h-1v-5h-1v1h-1h-1h-1h-1v1h-1h-1v-1h-1v1h-1h-1h-1h-1h-1h-1v-1h-1h-1h-1h-1v-1h-1h-1v3h-1h-1v-1h-1v-1h-1h-1h-1h-1v-1h-1v2h-1h-1v1h-1h-1v-2h-1v2h-1h-1v-1h-1h-1h-1v-2h-1v1h-1h-1h-1v1h-1v3h-1h-1v-3h-1v1h-1h-1h-1h-1h-1h-1v-1h-1v-1h-1h-1h-1h-1h-1h-1v3h-1h-1v-4h-1v2h-1h-1h-1h-1h-1h-1v1h-1h-1v-1h-1v-1h-1h-1h-1h-1h-1h-1h-1v3h-1h-1v-1h-1v-1h-1v-1h-1h-1v-1h-1v1h-1h-1h-1v1h-1v1h-1h-1h-1h-1h-1h-1v-2h-1v1h-1h-1v-2h-1v2h-1h-1v-1h-1v1h-1h-1v-1h-1h-1v5h-1h-1v-4h-1v-2h-1h-1h-1v4h-1h-1v-4h-1v4h-1h-1v-1h-1h-1v-1h-1h-1v1h-1h-1v-1h-1h-1v2h-1h-1v-3h-1v1h-1h-1v1h-1h-1v-2h-1v4h-1h-1v-1h-1h-1v-1h-1v-1h-1h-1h-1v1h-1h-1v6h-1h-1v-5h-1v-2h-1h-1h-1h-1v1h-1h-1v1h-1h-1v-1h-1v-1h-1h-1h-1h-1h-1h-1h-1h-1v-1h-1v1h-1h-1v2h-1h-1v-2h-1h-1v-1h-1v1h-1h-1h-1v2h-1h-1h-1v-2h-1v1h-1h-1v-1h-1v1h-1h-1v1h-1h-1v-1h-1v2h-1h-1v-3h-1h-1v1h-1h-1v2h-1h-1v-2h-1h-1h-1h-1h-1v1h-1h-1v-2h-1h-1v1h-1h-1v-1h-1v1h-1h-1h-1h-1v1h-1h-1v-2h-1v1h-1h-1v-1h-1h-1v4h-1h-1v-1h-1v-1h-1v1h-1h-1v-2h-1h-1h-1h-1h-1h-1h-1h-1h-1h-1h-1v-1h-1h-1h-1v1h-1h-1v-1h-1v1h-1h-1v2h-1h-1v-3h-1v-1h-1v1h-1v2h-1h-1v-2h-1v1h-1h-1v-1h-1h-1v2h-1h-1v-1h-1h-1v-1h-1h-1v-1h-1v1h-1h-1h-1h-1h-1h-1v2h-1h-1v-1h-1h-1v-1h-1h-1h-1v2h-1h-1v1h-1h-1v-2h-1h-1v-2h-1h-1v-1h-1v2h-1h-1v-2h-1v2h-1h-1h-1h-1h-1h-1v1h-1h-1v-1h-1h-1h-1h-1h-1h-1v1h-1h-1v-1h-1h-1h-1h-1h-1h-1v1h-1h-1v-1h-1v1h-1h-1v-1h-1v6h-1h-1v-7h-1h-1h-1v1h-1h-1h-1h-1v1h-1h-1v-1h-1v-1h-1v1h-1h-1h-1h-1v1h-1h-1v-2h-1v1h-1h-1v2h-1h-1h-1h-1h-1h-1v-1h-1h-1v-1h-1v-1h-1h-1h-1v3h-1h-1v-2h-1h-1v-1h-1h-1v2h-1h-1v-1h-1h-1h-1h-1h-1v1h-1h-1v-1h-1h-1v1h-1h-1v-1h-1v-1h-1v1h-1h-1h-1h-1v-1h-1h-1h-1v1h-1h-1h-1v2h-1h-1v-2h-1h-1h-1h-1v-1h-1v3h-1h-1v-2h-1h-1v-1h-1v1h-1h-1h-1h-1h-1h-1h-1v-1h-1h-1v1h-1h-1h-1h-1v1h-1h-1v-1h-1h-1h-1v1h-1h-1h-1h-1v-2h-1h-1v1h-1h-1v2h-1h-1h-1h-1v-2h-1v2h-1h-1v-2h-1v2h-1h-1v-2h-1h-1v2h-1h-1v-2h-1h-1h-1v-1h-1v1h-1h-1v-1h-1v1h-1h-1h-1h-1h-1h-1h-1h-1v-1h-1h-1v2h-1h-1v-1h-1h-1h-1v1h-1h-1h-1h-1h-1v-2h-1v2h-1h-1v-1h-1v1h-1h-1v1h-1h-1v-3h-1h-1v4h-1h-1v-3h-1v-2h-1v1h-1h-1h-1v-1h-1v3h-1h-1v-2h-1v4h-1h-1v-5h-1h-1h-1v1h-1v1h-1h-1h-1v-1h-1h-1h-1v2h-1h-1v-2h-1h-1h-1h-1h-1v1h-1v2h-1h-1v-3h-1h-1v4h-1h-1v-1h-1v-1h-1v-1h-1h-1h-1h-1v1h-1h-1v-1h-1h-1v1h-1h-1v-1h-1h-1v-1h-1h-1h-1v-1h-1v1h-1h-1v1h-1h-1v-1h-1h-1v5h-1h-1v-3h-1v-1h-1h-1v2h-1h-1v-3h-1h-1v1h-1h-1v-2h-1h-1v2h-1h-1v-1h-1v1h-1h-1h-1v-1h-1v1h-1v2h-1h-1v-2h-1v-2h-1v2h-1h-1v-1h-1v1h-1h-1h-1h-1v-1h-1h-1h-1v2h-1h-1v-2h-1v1h-1h-1v-2h-1v1h-1v1h-1h-1h-1h-1h-1v-1h-1h-1h-1v2h-1h-1v-2h-1v2h-1h-1v-1h-1v1h-1h-1v-1h-1h-1v-1h-1h-1v1h-1v1h-1h-1v-2h-1h-1h-1h-1h-1v2h-1h-1v-1h-1h-1v2h-1h-1v-2h-1h-1v-1h-1h-1v1h-1h-1h-1v1h-1h-1v-1h-1h-1v-1h-1h-1v1h-1h-1v1h-1h-1v-1h-1h-1h-1v-1h-1v5h-1h-1v-4h-1v-1h-1v1h-1h-1v-1h-1h-1h-1v-1h-1v1h-1h-1v4h-1h-1v-4h-1v-1h-1v2h-1h-1v1h-1h-1v-1h-1h-1h-1v2h-1h-1v2h-1h-1v-3h-1v-1h-1h-1v-1h-1v-1h-1v2h-1h-1v-1h-1h-1v1h-1v2h-1v2h-1h-1v-5h-1v4h-1h-1v-3h-1h-1h-1h-1h-1h-1h-1v-1h-1h-1h-1h-1v7h-1h-1Z"/><path id="t5" d="M0 -13h1v-1h2v2h1v2h2h2v-2h2v2h1v1h1v-1h1v-2h1v-1h2v3h2v1h1v-3h2v1h2v-2h2v3h2h1v-1h1v-1h2v2h1v-1h2h2v-3h2v4h1v-2h2h2v2h2v-1h2h2h2v1h1v1h2v-1h1v-2h2v2h2h1v1h1v-1h1v-2h2h1v1h1v2h1v-1h1v-2h2h1v-2h2v2h2v2h1v-1h2v-2h2v2h2v1h2v-1h2v-1h2h2v1h2v1h2h2h2v1h2v-1h2h2h1v-3h2v3h1v-1h2h1v-1h2v1h2v1h1v-1h2h2h1v-2h2v2h1v-4h2v2h1v2h2h1v-2h2v2h1v1h2v-1h2h1v1h1v-2h2v-1h2v1h2h1v2h2v-2h2v2h1v-3h2v2h1v-2h2v3h1v-1h2h1v1h2v1h1v-1h1v-2h2v1h1v-1h2v2h2v1h1v-1h2v1h2v-1h1v-2h2v1h2v-2h2v4h1v-1h2h2h2h1v-1h2v1h2h2h2h2v-1h2v1h2v-1h2h1v1h2h1v-1h2v1h1v-2h2v2h1v-3h2v3h2h2v-1h1v-1h2v1h1v1h1v-3h2v3h2h2h2h1v1h2v-1h2h2h2h1v-4h2v4h1v-3h2v1h2h1v-1h2v2h1v-1h2v1h1v1h1v-1h2h2h1v-1h2v1h1v1h1v-1h2v-2h2v3h2h2h2v-1h2v-1h2v1h1v-4h2v4h1v-1h2v1h2v-1h2h2v1h1v-1h2v1h1v1h2v-1h1v-1h2v1h2v2h2v-4h2v2h1v-1h2v1h1v-2h2v1h2v2h1v-1h2h2h1v-2h2v1h2v1h2h1v-2h2v1h2v1h2v-1h2h2v1h1v-1h2h2v1h1v-1h2v-2h2v1h2v1h2v1h2v-1h1v-2h2v2h2v1h2v-1h1v-3h2v2h2v2h2h2h2h1v1h1v-1h2v1h2v-1h2h1v-1h2v2h2h2v-1h1v-1h2v1h2h2v-1h2v1h1v-2h2v2h2v-2h2v3h1v-3h2h2v1h2h2v1h2v1h2v1h1v-1h2h1v-1h2h1v1h1v-3h2v2h1v1h1v-1h2v-1h2v2h1v-1h2v1h1v-2h2h2v1h2h2h1v1h1v1h2h2v-1h2h2h2v-1h2v1h2h1v-1h2h1v1h1v-2h2h1v2h2h2v-6h2v5h1v1h2h2v1h2v-2h1v-1h2v1h2h1v1h2h2h1v-1h2h1v1h2h2h2v-1h2h2h2v1h1v-4h2v3h1v-2h2v1h2v1h2v-2h2v3h2h1v-3h2v2h2v-2h1v-3h2v6h2v-1h1v-1h2v-2h2v3h2h1v-1h1v-1h2v3h2h2h1v-1h2v2h1v-1h2h2v1h1v-2h1v-1h2v2h1v-3h2v3h1v-2h2v2h1v-1h2h1v-4h2v6h1v-2h2v1h2h1v-1h2v1h1v-4h2v3h1v-2h2v2h2h2h1v-2h2v2h1v1h2h1v1h1v-1h2h2v-1h1v-1h2v2h1v-1h2v1h1v-2h2v1h2h2h1v1h2v-1h2h1v1h1v-2h2v1h2v1h1v-8h2v6h2h1v1h1v-3h2v3h1v-1h2v1h2v-6h2v6h1v-1h2h2h1v-5h2v4h1v-1h2v2h1v1h1v1h1v-1h2v-1h2v2h2v-1h2v1h1v-1h2h1v-1h2v1h1v-1h2h1v1h2h1v1h1v-1h2v-2h2v3h1v-1h1v-1h1v-1h2v1h1v1h2v-1h2v1h1v-6h2v3h1v3h1v-1h2v1h1v-1h2h2h2v1h1v1h1v-1h1v-1h2v-1h2v2h1v-3h2v4h1v-1h2h2v-1h2h2v2h2h2h2h1v-4h2v4h1v-1h1v-2h2v2h2v1h1v-1h2h2v-2h2v1h1v1h2v-2h2v2h2h2h1v-1h1v-1h2v1h2v-3h2v3h1v-1h1v-1h2v4h1v-3h2v2h1v-1h2h1v-1h2h1v1h2h2v1h1v-1h2v1h2v-1h2h1v1h2v1h2v-2h2v1h2h1v-6h2v5h1v1h2h2h2v1h1v-1h2v1h1v-2h1v-1h1v-5h2v6h1v-1h2v2h2h1v-2h2v2h1v-1h2v1h1v-2h2v2h2h2h1v-1h2v1h2h1v-3h2v1h1v-1h2v1h1v-2h2v4h1v-1h2v1h1v-2h1v-1h2v2h2h2h2v2h1v-6h2v6h2h2h2v-1h2h2h1v1h2v-2h1v-1h2v1h2v1h1v-3h2v4h2h2h1v-2h2v-2h2v-2h2v1h1v4h2h1v1h2v-1h2h1v-3h2v2h2v2h1v-1h2v-1h2v-1h2v2h2h2h1v-1h2v2h2v-1h2v1h1v-1h2v1h2h1v-1h2h1v1h1v-2h2h1v1h1v-1h2h2h1v2h1v-1h2v-1h2v-1h2h2v1h2v1h2h1v-1h2v-1h2v2h2h2h1v-2h2v3h2h2v-2h2h2v1h1v-1h2h2v1h1v-1h2v1h1v-1h2v1h2v-1h2v1h2h1v-1h2h1v1h1v-1h1v-1h2v1h1v-1h2v4h1v-1h2v-1h1v-3h2v4h2v-1h2h2h2v1h1v-1h2v-1h2v2h2h1v-1h2v1h2v1h1v-1h2v1h1v-2h2v-1h2h1v-1h2h1v2h1v-1h2v1h2v-1h2h2h1v-2h2v3h2v1h2h1v-1h1v-3h2v2h1v1h1v-6h2v5h2h1v1h1v-1h2v2h2h1v-1h2v-1h2v2h2h1v-3h2v2h2h1v1h2h1v-1h2v2h1v-1h1v-2h2v1h2v1h2h1v-2h2v2h2v-2h2v-2h2v2h2v1h2v1h1v-1h2v-1h2v2h1v-1h1v-1h1v-3h2v4h1v-1h2v1h2h2v1h2h1v-1h2v-2h2v2h1v1h2h2v-1h2v-1h2v2h2h2v-1h2v1h2v-1h1v-2h2v3h1v-4h2v1h1v1h2h2v1h2v-1h2v1h2h2v-1h2v1h2v-1h2h2h2v1h2v-2h2v1h1v1h1v-1h1v-2h2h2v2h2v1h2v-4h2h1v3h1v-1h2v1h1v1h2v-1h2v1h2v-1h2h1v1h1v-2h2v3h1v-3h2h1v-1h2v2h2h2v1h2v-6h2v4h2h2h2v2h2v1h1v-4h2v2h2v1h2v-4h2v5h1v-4h2v3h1v-1h2v-2h2v3h2h2v1h2v-1h2v1h1v-1h2h1v-1h2v1h1v1h1v-2h2v-2h2v4h2v1h1v-1h2h2h1v-2h2h2h1v1h2h1v1h2v-1h1v-2h2v3h2v1h1v-2h2v1h1v-2h2h1v1h1v-4h2v3h2v2h2v-1h2v1h2h1v-1h2v1h2h2h2h2h2h1v-1h2v1h2v1h1v-1h2h2h1v-1h2h1v-1h2v2h2h2h2v-1h2v1h1v-4h2v5h1v-1h2v-1h2v1h2h1v-1h1v-1h2v-3h2v4h2h2h2h2h2v-1h2v1h1v-1h2v-4h2v2h1v3h1v-2h2v-1h2v1h2v1h1v1h1v-2h2v2h2h2v1h2v-1h2v-3h2v3h2v1h2v-1h2v1h2h1v-1h2v-1h2v1h2v-1h2h2v1h1v-1h1v-1h2v2h1v-2h2v-1h2v3h1v-4h2v4h2h2h1v-1h2h2v2h1v-1h1v-2h2v-3h2V12h-1h-1v-1h-1h-1h-1h-1h-1h-1h-1v1h-1h-1v-2h-1v1h-1h-1h-1h-1v1h-1h-1v-2h-1h-1v1h-1h-1h-1h-1h-1v1h-1v2h-1h-1v-3h-1v-1h-1v4h-1h-1v-4h-1v-1h-1v3h-1h-1v-1h-1h-1h-1v-1h-1h-1v1h-1h-1h-1v-1h-1h-1v1h-1h-1v1h-1v1h-1h-1h-1h-1v-1h-1h-1v-1h-1v1h-1h-1v-1h-1v-1h-1v1h-1h-1h-1h-1h-1h-1h-1v3h-1h-1v-3h-1h-1h-1v1h-1h-1v-1h-1v2h-1h-1v-3h-1h-1v2h-1h-1v-1h-1h-1h-1h-1v2h-1h-1v-3h-1v1h-1v1h-1h-1h-1v-2h-1v2h-1h-1v-1h-1v-1h-1v1h-1h-1v1h-1h-1v-2h-1v2h-1h-1h-1v-1h-1h-1h-1v-1h-1h-1v1h-1h-1h-1v-1h-1v5h-1h-1v-4h-1v-2h-1v1h-1h-1v1h-1v1h-1h-1v1h-1h-1v-2h-1h-1h-1h-1v-2h-1h-1v1h-1v2h-1h-1v-1h-1h-1v-1h-1v2h-1h-1v-1h-1v1h-1h-1v-2h-1v3h-1h-1h-1h-1v-2h-1v1h-1h-1h-1v-1h-1h-1v-1h-1v3h-1h-1v-3h-1v2h-1h-1v-3h-1v1h-1h-1h-1v1h-1h-1h-1v-1h-1h-1v1h-1h-1h-1h-1v-1h-1v2h-1h-1v-1h-1v-1h-1h-1h-1v3h-1h-1v-2h-1h-1v-1h-1h-1v3h-1h-1v-3h-1v-1h-1h-1v3h-1h-1v-1h-1h-1v-2h-1v2h-1v2h-1h-1v-1h-1h-1v-2h-1h-1v1h-1h-1h-1h-1v1h-1h-1v-1h-1h-1h-1h-1v1h-1h-1h-1v-1h-1h-1v3h-1h-1v-1h-1v-2h-1v1h-1h-1v1h-1h-1v1h-1h-1v-3h-1h-1h-1v1h-1h-1v1h-1h-1v-2h-1h-1h-1v1h-1h-1h-1v-1h-1v1h-1h-1h-1v-1h-1h-1v3h-1h-1v-1h-1v-2h-1h-1h-1h-1v2h-1h-1h-1h-1v-2h-1v1h-1h-1v1h-1h-1h-1v-1h-1h-1h-1v1h-1h-1h-1h-1v-2h-1v2h-1h-1v-1h-1h-1v-1h-1v1h-1h-1v2h-1h-1h-1h-1v-3h-1v1h-1v2h-1h-1v-2h-1v1h-1h-1h-1h-1v-2h-1h-1v-1h-1h-1v1h-1h-1h-1h-1h-1v-1h-1h-1h-1h-1h-1v1h-1h-1h-1h-1h-1v4h-1h-1v-5h-1v2h-1h-1v-1h-1h-1h-1v1h-1h-1v2h-1h-1v-2h-1v-1h-1h-1h-1v-1h-1v2h-1h-1h-1h-1v-1h-1h-1v1h-1h-1v-1h-1h-1v3h-1h-1v-1h-1h-1v-2h-1v1h-1h-1v-2h-1v1h-1h-1h-1h-1v2h-1h-1v-3h-1v1h-1h-1h-1h-1h-1v-1h-1v1h-1v1h-1h-1v-2h-1h-1h-1h-1v-1h-1h-1v1h-1h-1h-1h-1h-1v4h-1h-1v-3h-1h-1h-1h-1h-1h-1v-1h-1h-1v4h-1v2h-1h-1v-5h-1h-1v1h-1h-1h-1v-1h-1h-1v-1h-1v1h-1h-1h-1h-1v-1h-1v1h-1v1h-1h-1v-1h-1v-1h-1v3h-1h-1h-1v-1h-1v1h-1h-1v-3h-1h-1h-1v1h-1h-1h-1h-1v2h-1h-1v-2h-1h-1v-1h-1v-1h-1h-1v3h-1h-1v-2h-1v-1h-1v1h-1h-1h-1h-1v2h-1h-1v-2h-1h-1v1h-1h-1v-1h-1v2h-1h-1v-2h-1v1h-1h-1v1h-1h-1v-2h-1h-1h-1h-1v1h-1h-1v-1h-1h-1h-1h-1h-1v2h-1h-1v-2h-1v1h-1h-1v-1h-1h-1h-1v3h-1h-1v-1h-1h-1v1h-1h-1v-1h-1v-1h-1v1h-1h-1h-1h-1h-1h-1v-1h-1h-1v1h-1v2h-1h-1v-2h-1h-1h-1v-2h-1h-1v2h-1h-1v-2h-1h-1v1h-1h-1h-1h-1h-1h-1v1h-1h-1v-1h-1h-1v-1h-1v1h-1h-1v-1h-1h-1v4h-1h-1v-2h-1v-1h-1h-1h-1v1h-1h-1v-1h-1v1h-1h-1h-1v1h-1h-1h-1h-1v-2h-1h-1h-1h-1v5h-1h-1v-5h-1v1h-1h-1h-1h-1v-1h-1h-1h-1v4h-1h-1v-4h-1h-1v-1h-1h-1v4h-1h-1v-3h-1h-1v-1h-1v2h-1h-1v-1h-1h-1h-1v-1h-1h-1h-1v1h-1h-1v-1h-1h-1v1h-1h-1h-1h-1v1h-1h-1h-1h-1v-1h-1v1h-1h-1v-1h-1h-1v1h-1v3h-1h-1v-4h-1v2h-1h-1v-3h-1v1h-1h-1h-1h-1h-1h-1h-1h-1v1h-1h-1v-2h-1h-1h-1h-1v1h-1h-1v-1h-1h-1v1h-1v2h-1h-1v-3h-1h-1v1h-1h-1h-1v-1h-1v1h-1v1h-1h-1v-1h-1v3h-1h-1v-2h-1h-1v-2h-1h-1h-1v1h-1h-1h-1h-1v-1h-1v3h-1h-1v-1h-1v-2h-1v1h-1h-1h-1v2h-1h-1v-1h-1v-1h-1h-1h-1v1h-1v1h-1h-1v-3h-1v1h-1v3h-1h-1v-3h-1h-1h-1h-1v1h-1h-1v-2h-1h-1v1h-1v2h-1h-1v-1h-1h-1v-1h-1v1h-1h-1v-1h-1h-1h-1v1h-1h-1v-1h-1h-1v1h-1h-1v-1h-1v1h-1h-1v-1h-1v-1h-1v1h-1h-1v2h-1h-1v-2h-1v1h-1h-1h-1h-1h-1h-1v-1h-1h-1v2h-1h-1v-1h-1v1h-1h-1v-3h-1h-1v1h-1h-1h-1v1h-1h-1v-1h-1v1h-1h-1h-1h-1v-1h-1v1h-1h-1h-1v-1h-1h-1v-1h-1h-1v1h-1v1h-1h-1h-1h-1v-1h-1v-1h-1v2h-1h-1v-1h-1h-1h-1v-1h-1v1h-1h-1h-1v1h-1h-1v-1h-1h-1h-1v-1h-1h-1v1h-1h-1v-1h-1v1h-1h-1h-1v-1h-1v1h-1h-1v-1h-1v1h-1h-1v1h-1v7h-1h-1v-9h-1v1h-1h-1h-1v2h-1h-1v-1h-1h-1v-2h-1h-1h-1v1h-1h-1h-1h-1h-1h-1h-1h-1v1h-1h-1v-1h-1h-1v-1h-1v1h-1h-1h-1h-1v2h-1h-1v-3h-1v2h-1h-1h-1h-1v-1h-1h-1h-1v-1h-1v1h-1v4h-1h-1v-4h-1v-1h-1v2h-1h-1v-1h-1v1h-1v2h-1h-1v-1h-1h-1v-2h-1h-1h-1h-1h-1v1h-1h-1v1h-1h-1v-2h-1v3h-1h-1v-1h-1h-1h-1v-1h-1h-1h-1v-1h-1v1h-1h-1v-1h-1v1h-1v1h-1h-1v-1h-1h-1v-2h-1v1h-1h-1h-1h-1v2h-1h-1v-3h-1h-1h-1v1h-1h-1v-2h-1v3h-1h-1v-3h-1v1h-1v1h-1h-1v-2h-1v4h-1h-1v-2h-1v2h-1h-1v-3h-1v1h-1h-1h-1h-1v1h-1h-1v-3h-1v1h-1h-1v1h-1h-1h-1h-1h-1v-1h-1v1h-1v2h-1h-1h-1v-1h-1v-1h-1h-1h-1h-1v-1h-1v-1h-1v1h-1h-1v5h-1h-1v-6h-1h-1h-1h-1h-1h-1v1h-1h-1h-1h-1v-1h-1h-1v4h-1h-1v-2h-1h-1v-1h-1h-1v2h-1v1h-1h-1v-3h-1h-1h-1v1h-1v2h-1h-1v-4h-1v1h-1h-1v1h-1h-1h-1h-1v-1h-1h-1v1h-1h-1h-1v1h-1h-1v-1h-1h-1v-1h-1v1h-1h-1h-1v-1h-1h-1v-1h-1v1h-1h-1v1h-1h-1v1h-1h-1v-2h-1h-1h-1h-1h-1h-1h-1v2h-1h-1v-1h-1v-1h-1h-1h-1h-1h-1h-1h-1h-1v2h-1h-1v1h-1h-1h-1h-1v-2h-1h-1v4h-1h-1v-4h-1h-1h-1v8h-1h-1v-7h-1v-1h-1h-1h-1h-1h-1h-1v-1h-1h-1h-1v-1h-1h-1v1h-1v1h-1h-1v1h-1h-1v-1h-1v1h-1h-1h-1h-1h-1h-1v-1h-1h-1h-1h-1v-1h-1h-1h-1h-1h-1v-1h-1h-1v1h-1h-1h-1v6h-1h-1v-6h-1v2h-1h-1v2h-1h-1v-3h-1v1h-1h-1v-1h-1v2h-1h-1v-3h-1v-1h-1v2h-1h-1v1h-1h-1v4h-1h-1v-6h-1v1h-1h-1h-1h-1v-1h-1h-1h-1v1h-1h-1h-1h-1v-1h-1v2h-1h-1h-1h-1v-1h-1h-1v4h-1h-1v-4h-1v1h-1h-1v-1h-1h-1h-1h-1h-1h-1h-1h-1h-1v1h-1h-1v-1h-1h-1h-1h-1v-1h-1h-1h-1h-1h-1h-1v1h-1h-1v1h-1h-1v-1h-1h-1v-1h-1h-1v1h-1h-1v2h-1h-1v-1h-1h-1v-1h-1v2h-1h-1v-1h-1h-1v1h-1h-1v-2h-1h-1h-1h-1h-1h-1v-1h-1h-1v1h-1h-1h-1v1h-1v1h-1h-1v-2h-1v1h-1h-1v-1h-1h-1h-1h-1v5h-1h-1v-5h-1v1h-1h-1v1h-1h-1v-1h-1h-1h-1v1h-1h-1h-1v1h-1h-1v-2h-1h-1v-1h-1v4h-1h-1v-2h-1h-1v-2h-1v2h-1h-1v-1h-1h-1h-1v-1h-1h-1v-1h-1v1h-1v1h-1h-1v-1h-1v1h-1h-1v-1h-1v6h-1h-1v-5h-1v-1h-1h-1h-1v1h-1h-1h-1h-1h-1h-1h-1h-1v1h-1h-1h-1v-1h-1h-1h-1v-2h-1h-1h-1h-1v1h-1h-1h-1h-1h-1h-1h-1h-1h-1h-1h-1v-1h-1v1h-1h-1h-1h-1v-1h-1v1h-1h-1v-1h-1v1h-1h-1h-1v-1h-1v1h-1h-1h-1h-1h-1v1h-1h-1v-1h-1h-1h-1v1h-1h-1h-1h-1v-1h-1h-1h-1h-1v-1h-1h-1v1h-1v1h-1h-1v-3h-1v2h-1h-1v1h-1h-1v-1h-1v-1h-1h-1v1h-1v2h-1h-1v-1h-1v-2h-1h-1h-1v1h-1h-1v-1h-1v2h-1h-1v-2h-1v4h-1h-1v-5h-1v1h-1h-1v1h-1h-1v-2h-1h-1h-1v3h-1h-1v-2h-1v1h-1v5h-1h-1v-7h-1h-1v3h-1h-1v-3h-1v1h-1v3h-1h-1v-3h-1h-1h-1v1h-1h-1v1h-1h-1v-1h-1h-1h-1v-1h-1h-1h-1h-1v4h-1h-1v-4h-1h-1h-1v3h-1h-1v-3h-1v-1h-1v1h-1h-1v1h-1v1h-1h-1v-1h-1h-1h-1h-1v1h-1h-1v-1h-1v-1h-1v1h-1v1h-1h-1v-2h-1h-1h-1v1h-1v1h-1v2h-1h-1v-2h-1h-1v-1h-1h-1h-1v1h-1h-1v2h-1h-1v-4h-1h-1v1h-1h-1h-1v3h-1h-1v-3h-1h-1h-1h-1v1h-1h-1h-1h-1h-1v1h-1h-1h-1v-2h-1v2h-1h-1h-1v-1h-1h-1v-2h-1h-1h-1v1h-1h-1v-1h-1v1h-1h-1h-1h-1v1h-1h-1h-1h-1h-1v-1h-1v-1h-1h-1h-1h-1h-1h-1v1h-1h-1v-1h-1h-1v1h-1h-1v-1h-1v1h-1h-1v3h-1h-1v-2h-1v-1h-1h-1h-1v-1h-1v-1h-1v3h-1h-1h-1h-1v-2h-1v1h-1h-1v-1h-1v1h-1h-1h-1h-1v5h-1h-1v-4h-1v-1h-1v-1h-1h-1h-1h-1v1h-1h-1v-1h-1h-1h-1h-1h-1h-1v-1h-1h-1v2h-1h-1v2h-1h-1v-3h-1v1h-1h-1v-1h-1v4h-1h-1v-3h-1h-1v1h-1v4h-1h-1v-4h-1v-1h-1h-1v-2h-1h-1h-1v1h-1h-1h-1v3h-1h-1v-3h-1v1h-1v4h-1h-1v-5h-1h-1v1h-1h-1h-1v1h-1v1h-1h-1Z"/><path id="t6" d="M0 -11h1v1h1v-2h2v2h1v-1h1v-1h1v-1h2v3h2h2h1v-4h2v3h2h2h1v-1h2h2v-1h2v2h1v-1h2h1v1h2h1v-1h2h2v1h1v1h1v-3h2v2h1v1h1v-2h2h2v1h1v-1h2v2h1v-3h2v2h2h1v-5h2v3h1v1h1v2h1v-4h2v3h1v-2h2v1h2v-1h2h2v3h1v-1h2h2v-3h2h1v3h2v-1h2h2v2h2v-1h2h2h2v-3h2v3h1v-1h1v-4h2v5h1v-4h2v4h2h2v-1h2v1h1v-1h2h2v2h1v-1h1v-1h2v1h1v-1h2h2v1h2h1v-1h2v1h2v-4h2v3h2h1v-2h2v4h2v-2h2v1h2v1h2v-2h2v2h2h1v-1h1v-1h2v2h2v-2h2h2v1h2h2v1h1v-4h2v2h2v1h2h2h2h2v1h1v1h1v-2h1v-1h1v-1h2v2h2v-2h2v1h2h2v1h2h1v1h2v-1h2h2v-1h2v1h2v-2h2v2h2h1v-2h2v1h2v1h2v-1h2v2h1v-2h2v1h1v-2h2v1h2v1h2h1v-1h2h2v1h2v-3h2v3h2h2h2v-1h2v1h2v-1h2h1v-2h2h2v1h1v1h2v1h2v-1h2h1v1h2h2h1v-1h2v1h2h2h1v-1h2v-2h2v3h2h2v-2h2v2h2h2h1v1h1v-1h2v1h1v-1h1v-2h2v2h1v-1h1v-1h2v2h2h2h2h1v1h1v-1h2v-1h1v-2h2v2h1v1h1v-1h1v-1h2v2h2v-1h1v-1h2v1h2v1h2v-2h2v2h2h2h2h2h1v1h1v-1h1v-1h2v1h1v-2h2v2h2v-2h2v1h2h2h1v2h2v-1h2h2v1h1v-3h2h2v3h1v-3h2v4h1v-1h2h2h1v1h1v-1h2h2h2h1v1h1v-2h2v1h2h1v-1h2h2v1h1v-2h2v2h2v-1h2h1v-1h2v-1h2v2h2h2h1v1h2v-1h1v-1h1v-1h2h1v2h1v1h1v-1h2v-1h2v2h2v-1h2h2v-2h2v1h1v1h2h2v1h1v-3h2v3h2v-1h2v-2h2v3h2h1v1h1v-1h2v-1h2v1h2v1h1v-2h2v2h1v-4h2v1h1v-4h2v2h2v2h2v2h1v-1h2v-1h2v2h1v-1h2h2v1h1v-1h2v1h1v-3h2v2h1v1h1v-1h2h2v2h1v-5h2v3h2h1v1h1v-3h2v1h1v-1h2v2h2v1h2v-1h1v-1h2v3h1v-2h2h2v1h2h1v-1h2v1h2h1v-1h2h2h2h2v-1h2h1v1h1v-1h2v2h2v-1h1v-4h2v3h2v1h2h2h1v2h1v-1h2h1v-3h2v2h2v-2h2v2h2h1v-1h2v1h2h1v1h2h2h2v-1h2v1h2h1v-1h2v-2h2v3h2v-1h2v2h1v-2h2v-4h2v4h2v1h2v-1h2v-1h2v2h2v-1h2v1h2h1v1h2v-1h1v-3h2v2h2h1v1h1v-2h2v2h1v-3h2v3h1v-1h2v1h2v1h2h1v-2h2v2h2h1v-2h1v-1h2v2h2h2h1v-2h2v1h1v1h1v-1h1v-1h2v3h2v-3h2v2h2h2v-1h2v1h1v-1h2v2h2h2h2v-2h2v-2h2v1h2h1v1h1v-1h2v2h1v-3h2v2h1v1h1v-2h2v1h2h2h2h2v-2h2v2h2h1v-1h1v-2h2v3h2v1h1v-1h2h1v1h1v-6h2v4h1v1h2v-1h2h2h1v-2h2v3h1v1h1v-2h2v1h1v-6h2v6h2h1v-1h2v1h1v-1h2v1h2h1v-1h2h2v2h1v-2h2v1h2v1h1v-1h2h1v-1h2h1v1h1v-1h2h1v1h2h2v-1h2v1h1v-1h2v2h2h2v-2h2v1h2h1v-2h2v2h1v-1h2h2h1v1h2h2v-4h2v3h1v2h1v-4h2v3h1v-2h2h2h1v3h2v-1h1v-2h2v-3h2v4h1v-1h2h2v1h1v-1h2v2h1v-1h2v1h1v-1h2v1h1v-1h2v1h2h1v-2h2v-1h2v2h1v1h2h1v-2h2h1v2h2h2v-2h2h1v1h1v2h1v-2h2v-2h2v3h2v-1h2v-1h2v2h2h1v-3h2v2h2v-1h2v2h1v-1h2v1h1v1h2h2h1v-1h2h1v-4h2v4h2h1v-1h2h2v-2h2v2h2h1v1h1v-1h2v1h2h1v1h2h1v-1h1v-1h2v1h1v-2h1v-2h2v3h1v1h2v1h1v-1h2v-1h2v1h2v1h1v-6h2v4h1v-1h2v1h1v-2h2v2h2v1h1v1h2v-1h2h2h2h1v-2h2v2h1v-1h2v1h2v1h2v-1h2h1v-2h2v1h2h2v1h2h1v1h1v-1h2h1v1h2v-1h2h1v-2h2v1h2h1v-1h2v1h1v1h1v-1h1v-1h2v2h2v-1h1v-1h2v3h1v-1h1v-2h2v2h2h2h2h2h2v1h1v-1h1v-1h2h1v1h2h2v-1h2v-1h2v3h2v-6h2v5h2v1h2v-3h2v1h2v1h2v2h2v-1h2v1h1v-2h2v-1h1v-2h2v4h1v-1h2v1h1v1h1v-1h1v-1h1v-3h2v3h2h2v1h2h1v-3h2v3h1v-4h2v4h2h2h2v-4h2v3h2v-2h2v2h1v-2h2v1h2h1v1h2h1v-3h2v3h2h2h1v-1h2h1v1h1v-1h2v1h2v-2h2v1h2v2h1v-1h1v-1h2v-3h2v3h1v-1h2v2h2h2h1v-1h2v-4h2v6h2v-2h2v1h2v2h1v-2h2v1h1v-1h2v2h1v-1h2h1v1h2h1v-1h2h1v-1h2v1h1v-4h2v4h1v-3h2v3h1v-2h2v-1h2h1v4h1v-1h2v-2h1v-2h2v3h2v1h2h1v-2h2v1h2v1h2h2h2v-1h2v1h1v-1h2v-1h2v3h2v-5h2v5h1v-1h1v-1h2h1v-2h1v-4h2v6h2v1h1v-1h2h1v-1h2h1v1h2v1h2h2v-1h2v1h2h1v-1h2v1h2h1v1h1v-2h1v-1h2v1h2h2v1h1v-1h2h2v1h1v-2h2v1h1v1h1v-2h2v1h2v1h2v1h1v-1h2h2v1h1v-1h2h2v-1h2h2h1v1h1v-1h1v-1h2v2h2v-1h2v-2h2v1h1v1h2v-5h2v5h2h2v-1h2v-2h2v-1h2v4h2v-3h2v3h2v1h2v-1h2h1v-1h2v2h1v-1h2h2h2v1h1v-1h2v-4h2v4h2v-5h2v4h1v-2h2v1h2v1h2v2h2h2v-1h1v-3h2v3h1v-1h2v-4h2v6h1v-1h2h2v-2h2v2h2h2v1h2v1h1v-1h1v-1h2h1v-1h2v2h1v-4h2v4h2h2v-1h1v-2h2h2v-1h2v4h1v-6h2v6h1v-1h2h2v1h1v-1h2v2h1v-1h2h2h1v-2h2v2h2v-1h2v1h2h1v-3h2v3h1v-1h1v-3h2v5h1v-7h2v5h2v1h2v-1h2v1h2h2h1v-3h2v2h2h1v1h1v-1h2v1h2v-2h2v2h1v-2h2v1h1v1h2v-1h2h2h1v1h2v-1h2v1h1v-1h2h1v1h1v1h1v-2h2v1h1v-1h2v1h1v-1h2h1v1h1v-1h1v-1h2v2h1v-1h1v-1h2v1h2h1v1h2V10h-1v2h-1h-1v-2h-1h-1h-1h-1v1h-1h-1h-1h-1v-1h-1v1h-1h-1h-1h-1v-1h-1v-1h-1v2h-1h-1v-1h-1v1h-1h-1h-1h-1v-1h-1h-1h-1v4h-1h-1v-2h-1v1h-1h-1v-3h-1h-1v1h-1h-1v-1h-1v3h-1h-1v-2h-1h-1h-1h-1h-1h-1h-1h-1v-2h-1v1h-1v1h-1h-1v-1h-1v1h-1h-1v-1h-1h-1h-1v1h-1h-1v-1h-1h-1h-1h-1h-1h-1h-1h-1v4h-1h-1v-4h-1h-1h-1v1h-1h-1h-1v-1h-1v-1h-1v1h-1h-1h-1h-1v-1h-1h-1h-1v2h-1h-1h-1v-2h-1v3h-1h-1v-1h-1v-1h-1h-1h-1h-1v1h-1h-1v-1h-1h-1h-1v1h-1h-1v-1h-1v1h-1h-1h-1h-1h-1v1h-1h-1h-1v-2h-1v2h-1h-1v-2h-1h-1v-1h-1v1h-1v1h-1h-1v-1h-1v2h-1h-1v-3h-1v2h-1h-1v-1h-1h-1h-1h-1h-1h-1v2h-1h-1h-1h-1v-2h-1h-1v1h-1h-1v6h-1h-1v-7h-1v2h-1h-1v-1h-1h-1h-1v2h-1h-1h-1v-2h-1h-1v1h-1v1h-1h-1v-1h-1v2h-1v2h-1h-1v-2h-1v-4h-1v1h-1h-1h-1v2h-1h-1v-1h-1h-1v-2h-1v8h-1h-1v-7h-1v-1h-1v2h-1v2h-1h-1v-3h-1h-1h-1h-1h-1h-1h-1v2h-1h-1v-1h-1h-1h-1v-2h-1v3h-1h-1v-3h-1v1h-1h-1h-1v1h-1h-1v-2h-1v-1h-1v1h-1h-1h-1v1h-1h-1v-1h-1h-1h-1h-1v1h-1h-1v-2h-1v1h-1v1h-1h-1v-1h-1h-1h-1v1h-1h-1v-1h-1v-1h-1h-1h-1h-1v1h-1v2h-1h-1v-1h-1v2h-1h-1v-3h-1v2h-1h-1v-2h-1h-1h-1v2h-1h-1v-3h-1v1h-1h-1h-1h-1v1h-1h-1v-1h-1h-1v-1h-1v3h-1h-1v-2h-1v1h-1h-1v1h-1h-1v-2h-1v1h-1h-1v-1h-1h-1h-1h-1h-1v-1h-1v1h-1v1h-1v1h-1h-1v-2h-1v1h-1h-1h-1h-1h-1v-1h-1v-1h-1h-1v1h-1h-1v2h-1h-1v-1h-1v-1h-1v3h-1h-1v-2h-1v-1h-1h-1v1h-1h-1v-1h-1v-1h-1v1h-1h-1h-1h-1h-1v1h-1h-1v-1h-1h-1v1h-1h-1h-1h-1h-1h-1v-1h-1v-1h-1h-1h-1v2h-1h-1v-2h-1v1h-1h-1v3h-1h-1v-2h-1v-1h-1h-1h-1v1h-1h-1v-1h-1h-1h-1v2h-1h-1h-1h-1v-1h-1v-1h-1h-1v1h-1h-1h-1v1h-1h-1v1h-1h-1v-3h-1v1h-1h-1h-1v1h-1h-1v-1h-1h-1h-1v3h-1h-1v-3h-1h-1v-1h-1v2h-1v1h-1h-1v-1h-1v-1h-1v3h-1h-1v-3h-1h-1h-1h-1h-1h-1v1h-1h-1v-1h-1h-1h-1h-1v4h-1h-1v-3h-1h-1h-1h-1v-1h-1v1h-1h-1h-1h-1v-1h-1h-1h-1h-1v-1h-1v2h-1h-1v-1h-1h-1v2h-1h-1h-1h-1v-2h-1v-2h-1v2h-1h-1v-1h-1v3h-1h-1v-1h-1v-1h-1h-1v-1h-1h-1v3h-1h-1v-2h-1h-1h-1v-1h-1h-1h-1h-1h-1v2h-1h-1v-2h-1h-1v-1h-1h-1h-1v1h-1v1h-1h-1v3h-1h-1v-3h-1h-1v-2h-1v2h-1v1h-1h-1v-2h-1v-1h-1v1h-1h-1v3h-1h-1h-1h-1h-1v-2h-1v-1h-1v1h-1v1h-1h-1v-1h-1h-1h-1h-1h-1v-1h-1h-1h-1h-1v1h-1h-1h-1v1h-1h-1v-1h-1v1h-1h-1v-2h-1v1h-1h-1v1h-1h-1v-1h-1v-1h-1h-1h-1h-1h-1h-1v1h-1h-1h-1h-1h-1h-1v3h-1h-1v-2h-1v3h-1h-1v-3h-1v-1h-1h-1v1h-1h-1v-2h-1v2h-1h-1h-1h-1v-2h-1h-1h-1v1h-1v1h-1v3h-1h-1v-2h-1v-2h-1v1h-1h-1v3h-1h-1v-3h-1h-1h-1h-1v2h-1h-1h-1h-1h-1v-3h-1h-1v-1h-1h-1h-1h-1v1h-1v1h-1h-1h-1h-1v-1h-1h-1h-1v1h-1h-1v-1h-1h-1v1h-1v1h-1h-1v-1h-1h-1h-1v-1h-1v-1h-1v1h-1h-1h-1v2h-1h-1v-2h-1v1h-1v1h-1h-1v-2h-1v1h-1h-1v-1h-1v1h-1h-1h-1h-1h-1h-1h-1h-1v-1h-1v2h-1v1h-1h-1v-2h-1h-1h-1v-1h-1h-1v5h-1h-1v-5h-1h-1v2h-1h-1v-1h-1v-1h-1v-1h-1v2h-1v4h-1h-1v-4h-1v3h-1h-1v-4h-1v1h-1v1h-1h-1v-1h-1v1h-1h-1v-1h-1h-1v1h-1h-1v1h-1h-1v-3h-1h-1h-1v1h-1h-1h-1v-2h-1v1h-1h-1h-1h-1h-1h-1h-1h-1h-1h-1h-1v1h-1h-1v-2h-1v2h-1h-1v-1h-1v4h-1h-1v-4h-1h-1h-1v3h-1h-1v-3h-1v1h-1h-1v-1h-1v-1h-1h-1v3h-1h-1v1h-1h-1v-1h-1h-1h-1v-1h-1v-1h-1v2h-1h-1v-1h-1h-1h-1h-1v-1h-1v-1h-1h-1v1h-1h-1h-1h-1v-1h-1v4h-1h-1v-3h-1v2h-1h-1v-1h-1v1h-1h-1v-2h-1h-1h-1v4h-1h-1v1h-1h-1v-5h-1h-1v-1h-1h-1v1h-1v1h-1h-1v-1h-1h-1v2h-1h-1v-3h-1v3h-1h-1v1h-1h-1v-2h-1h-1h-1v-1h-1h-1h-1v-1h-1v4h-1h-1h-1v-3h-1h-1h-1v-1h-1v1h-1v3h-1h-1v-3h-1v-1h-1v1h-1h-1v1h-1v4h-1h-1v-6h-1v1h-1h-1v1h-1h-1h-1h-1h-1v2h-1h-1v-3h-1v1h-1v1h-1h-1v-1h-1v-1h-1v3h-1h-1v-3h-1v-1h-1v1h-1h-1h-1v-1h-1v3h-1h-1v-2h-1v2h-1h-1v-2h-1h-1v5h-1h-1v-4h-1v-1h-1v1h-1h-1v1h-1v1h-1h-1v-3h-1h-1h-1v1h-1h-1h-1h-1v-1h-1h-1h-1v2h-1h-1v-3h-1v1h-1h-1h-1h-1h-1h-1v-1h-1v1h-1h-1v-1h-1h-1h-1v-1h-1v1h-1h-1h-1h-1h-1v1h-1h-1v-1h-1h-1v1h-1h-1v2h-1h-1h-1v-3h-1h-1v1h-1h-1v-1h-1h-1h-1h-1h-1v1h-1h-1h-1h-1v1h-1h-1v-3h-1h-1h-1h-1h-1v1h-1h-1v-1h-1v2h-1h-1v-1h-1h-1v-1h-1v5h-1h-1v-2h-1v-2h-1v-1h-1h-1h-1h-1v3h-1h-1h-1h-1h-1h-1v-1h-1h-1h-1v-1h-1v1h-1h-1v-1h-1h-1v1h-1h-1h-1v-1h-1h-1h-1v-1h-1h-1v1h-1v1h-1h-1v-1h-1h-1h-1h-1v-1h-1h-1v1h-1v1h-1h-1v-1h-1h-1v1h-1v1h-1h-1v-2h-1h-1v-1h-1v2h-1h-1v1h-1h-1v-2h-1h-1h-1v1h-1h-1v-2h-1v1h-1h-1v1h-1h-1h-1v-1h-1v-1h-1v1h-1h-1h-1v-1h-1v1h-1h-1v1h-1v3h-1h-1v-3h-1h-1h-1h-1v-1h-1h-1v1h-1v2h-1h-1v-3h-1v-1h-1v2h-1h-1v-1h-1v1h-1h-1h-1h-1h-1h-1h-1v2h-1h-1v-3h-1h-1v1h-1h-1v-1h-1h-1v-1h-1v8h-1h-1v-3h-1v-3h-1v-1h-1v1h-1h-1h-1h-1v-1h-1v1h-1h-1v-1h-1h-1v2h-1h-1v-1h-1v-1h-1h-1v2h-1h-1v-1h-1h-1h-1h-1h-1h-1h-1v-1h-1h-1v2h-1h-1v-2h-1h-1v1h-1h-1v-1h-1v4h-1h-1v-2h-1h-1v-1h-1v2h-1h-1v-2h-1h-1v-1h-1v1h-1v3h-1h-1v-3h-1v10h-1h-1v-10h-1h-1h-1h-1v2h-1h-1v2h-1h-1v-5h-1h-1h-1h-1h-1v1h-1h-1v-2h-1v1h-1v1h-1v2h-1h-1v-3h-1h-1h-1h-1v1h-1h-1v4h-1h-1v-6h-1h-1v2h-1h-1v3h-1h-1v-4h-1h-1h-1v1h-1h-1h-1h-1v1h-1h-1v-1h-1h-1h-1v-1h-1v1h-1v2h-1h-1v-3h-1v8h-1h-1v-5h-1v-2h-1h-1v-1h-1v3h-1h-1v-1h-1h-1v1h-1h-1h-1v-2h-1h-1h-1h-1h-1h-1h-1v-1h-1v5h-1h-1v-4h-1h-1v-2h-1h-1v6h-1h-1v-5h-1v1h-1h-1v1h-1h-1v-2h-1v1h-1h-1h-1h-1v-1h-1v-1h-1h-1v2h-1h-1h-1h-1h-1h-1h-1h-1v-1h-1v1h-1h-1v-1h-1h-1h-1h-1v2h-1h-1v-1h-1h-1v1h-1h-1h-1h-1h-1h-1v-1h-1h-1v1h-1h-1h-1h-1v-2h-1h-1h-1v1h-1h-1v3h-1h-1v-1h-1v-1h-1h-1h-1h-1v1h-1h-1v-2h-1h-1h-1h-1v1h-1h-1v-1h-1h-1v1h-1h-1v-1h-1v2h-1h-1h-1v-2h-1h-1h-1h-1v1h-1h-1v1h-1h-1v4h-1h-1v-4h-1v1h-1h-1v-2h-1v4h-1h-1v-4h-1h-1h-1v-1h-1h-1v1h-1h-1v-1h-1v-1h-1v5h-1h-1v-5h-1h-1h-1h-1h-1v2h-1h-1v-1h-1h-1v-1h-1h-1v1h-1h-1h-1h-1v1h-1v3h-1h-1v-3h-1v1h-1h-1v-2h-1h-1v-1h-1h-1h-1h-1v1h-1h-1v2h-1h-1v-3h-1v9h-1h-1v-9h-1v3h-1v2h-1h-1v-5h-1v1h-1h-1v1h-1h-1h-1h-1v-1h-1v2h-1h-1v-2h-1h-1h-1v1h-1h-1v-1h-1h-1h-1h-1v-1h-1h-1v1h-1v1h-1h-1v1h-1h-1v-2h-1v1h-1h-1v2h-1h-1v-2h-1v-1h-1v1h-1h-1v-1h-1h-1v2h-1h-1v-2h-1h-1h-1v1h-1h-1h-1h-1v-2h-1h-1v1h-1h-1v1h-1h-1v-2h-1h-1h-1v1h-1h-1v1h-1h-1v-1h-1v1h-1h-1v-1h-1h-1v-2h-1v2h-1h-1v1h-1h-1v-2h-1h-1v3h-1h-1v-2h-1h-1v-1h-1h-1h-1v-1h-1v2h-1v4h-1h-1v-3h-1v-2h-1h-1v1h-1h-1h-1v3h-1h-1v-3h-1v1h-1h-1v-2h-1h-1v2h-1v3h-1h-1v-4h-1h-1h-1v1h-1h-1h-1h-1h-1v-1h-1v-1h-1h-1v5h-1h-1v-4h-1h-1v-1h-1v4h-1h-1v-2h-1v-2h-1h-1v3h-1h-1v-2h-1h-1v1h-1h-1v1h-1h-1h-1v-1h-1h-1h-1h-1h-1v-1h-1v1h-1v1h-1v2h-1h-1v-3h-1h-1v-1h-1v-1h-1v3h-1h-1v-2h-1h-1h-1h-1h-1h-1v1h-1h-1v-2h-1v7h-1h-1v-6h-1v1h-1h-1v1h-1h-1v-1h-1v2h-1h-1h-1v-3h-1v3h-1h-1v-3h-1v1h-1h-1v-1h-1h-1h-1h-1v1h-1h-1v-1h-1h-1v1h-1h-1v-1h-1h-1h-1h-1h-1h-1h-1v-1h-1h-1v1h-1h-1v-1h-1v2h-1v1h-1h-1v-1h-1v-1h-1v2h-1h-1h-1v-2h-1h-1v1h-1h-1v3h-1h-1v-4h-1h-1h-1v2h-1h-1v-2h-1h-1h-1v1h-1h-1v2h-1h-1v-2h-1h-1v-1h-1h-1h-1h-1v4h-1h-1v-2h-1v-2h-1h-1h-1h-1h-1h-1v-1h-1h-1v3h-1h-1v-3h-1v1h-1v2h-1h-1v-2h-1h-1v-1h-1v1h-1v4h-1h-1v-4h-1h-1h-1h-1Z"/><path id="t7" d="M0 -11h2h1v-1h2v2h1v-1h1v-3h2v3h1v-1h2v1h2h2v-1h2v-3h2v3h2v-1h2h2v2h2h2h1v-2h2v2h2v1h2h1v-1h2h2h2h1v-2h2v2h1v-1h2h2h2v1h2v1h1v-4h2v4h2h1v-2h2v1h2h1v-1h2v1h1v-1h2v3h1v-1h2v-1h2h2v1h1v-2h2v1h2v1h2h2h2v-1h1v-1h2v1h2v1h2v1h2h2v-2h2v1h2v1h1v-4h2v3h2v-3h2v3h2h2v-1h1v-1h2v3h1v-1h2v-1h2v-1h2v-1h2v-4h2v5h2v1h1v-1h2v1h2v1h2v-1h2v1h2v-2h2h2v1h2v-3h2v3h1v-2h2v2h1v-1h2h1v2h2v-1h2h2v1h1v-1h2v1h2h1v-1h1v-1h2h1v2h1v-1h1v-1h2v3h1v-2h1v-2h2v3h1v1h1v-3h2v2h1v1h1v-1h1v-1h2v-1h2v2h2v-1h2v2h2v-1h2v1h2h1v-1h1v-2h2v1h2h1v1h1v-1h2h1v1h1v-2h2v2h2v-2h2v2h2h2v-1h2h1v-1h2h2v2h2v-3h2h2v3h1v-3h2v2h1v1h1v-2h2v2h2h1v-1h2v1h1v-2h2v3h1v-1h1v-1h2v1h2v-2h2h2v1h1v-2h2h1v2h2h2h2h2v-1h1v-2h2v3h2h2h2v-2h2v2h1v-1h2h2h2v1h1v-1h2h1v-1h2v-4h2v5h2v1h1v-2h2v2h1v-1h2v1h2h2v-1h2h2h1v1h2h2v-2h2v2h2v-1h2h2v1h1v-3h2v1h1v2h2v-3h2v3h1v-3h2v3h1v-1h2h2v1h2h2h2v1h1v-2h2v-2h2v3h2h2v-1h2h1v1h1v-1h2h2v-1h1v-2h2v3h2h2h2v-1h2v2h1v-1h2v-5h2v6h1v-1h2h2h2v-1h2h1v1h1v1h2h1v-1h2h1v1h1v-1h2v-1h2v2h2h2v1h1v-2h2h1v1h2h2v1h1v1h1v-2h2h2v-1h2v2h1v-1h2h1v1h2h1v1h1v-1h2h1v-1h2v1h2h2v-2h2h2v2h2h1v-1h2v1h1v-1h2h1v-1h2v1h1v-4h2v5h1v-1h2v-2h2v2h1v1h1v-1h2h2h1v-1h2h2h2v1h1v-1h2v1h1v1h2v-2h2v2h2v-1h2v2h1v-1h1v-1h2v1h1v-1h2v1h2h2v-1h2h1v2h2h1v-3h2v2h2h1v1h2v-1h2v-1h2v1h2v-1h2v1h1v-2h2v1h1v1h2v-1h2v1h2h2h2h1v1h1v-1h1v-1h2h2h2h2v2h1v-1h2v-2h2h2v2h1v-1h2h2v1h2h2v-2h2h2v2h2v-1h2v-2h2v2h2v1h2h1v-1h1v-1h2h2v1h2v1h2v-1h2h2v-3h2v3h1v1h1v1h1v-1h2v-2h2v1h1v1h2v-1h1v-5h2v5h1v-4h2v3h2v-3h2v4h2v-2h2v1h2v1h2h1v-1h2h2h1v1h2h2h2h2h2h2h2v1h1v-2h2h2v1h2h2v-1h2v1h2h1v-1h2v1h2v-1h2h2h1v-2h2v4h2h2h1v-1h2h2v1h1v1h1v-1h1v-1h2v-1h2v1h1v-1h2v1h2h2h1v1h1v-3h2v1h2v1h2h2v-3h2v3h1v-3h2v4h1v-2h2v2h1v-2h2v1h1v-1h2v1h1v-1h1v-2h2v3h1v1h1v-3h2v1h1v-1h2v1h2v-1h2v2h2h1v1h2h2h2h1v-2h2v1h2v1h2h1v-1h2v-2h2v3h2h1v-1h2v1h2h2h1v-3h2v3h1v-1h2v2h1v-4h2v3h2h2h1v-2h2v1h1v-1h2v1h2v1h1v-4h2v2h1v1h2v1h1v-1h2v1h1v-1h2h2h1v-4h2v4h2v1h2v-1h2h2h1v1h1v-1h2v1h1v-1h1v-1h2v1h2v-2h2h1v2h2h2h2v1h1v-2h2v1h2v1h1v-1h2h1v-1h2v1h2h1v-1h2v-5h2v7h2h1v-2h2v1h1v2h1v-4h2v2h2v2h1v-2h1v-4h2v2h1v2h1v1h1v-2h2h1v1h2h1v-1h1v-1h2v1h2v1h1v1h1v-1h2h2h2h2v-1h2v1h2h1v-1h2v1h2v1h1v-1h1v-3h2v3h1v-1h2v1h2h2h1v1h1v-1h2v1h1v-2h2v1h1v-1h2v1h1v-5h2v4h1v1h2v-1h1v-2h2v3h2v-1h1v-3h2v4h2v1h2v-3h2v3h1v-2h2v2h1v-2h2v2h2v-1h2h1v1h1v-1h2v1h1v-2h2v2h2h1v-1h2v2h1v-1h2v-1h2h2h2v-1h2v1h2v1h1v-3h2v2h1v-4h2v2h1v3h2h2h2h2h1v-1h2v1h2h2h2v-2h2v-1h2v3h1v-1h2h1v1h2v-3h2v2h1v1h1v1h1v-1h1v-5h2v4h1v-1h2v3h1v-2h2h1v1h1v-1h2h1v1h2h2v-1h2h1v1h2v-2h1v-4h2v4h2h2h1v1h1v1h1v-2h2v2h2h2h1v-2h2v1h2v1h1v-4h2v3h1v-1h2v1h1v-1h2v1h1v1h1v-1h1v-2h2v2h2v-1h2v1h1v-1h2v1h2h1v-1h1v-1h2v2h1v-1h2v2h2v-3h2v2h2h2v1h1v-1h2v1h2v-1h2v-3h2v2h1v2h1v-3h2v3h1v-2h2v1h2h2h2h1v-1h2v1h2h2h1v-2h2v3h1v-1h2h1v-2h2v1h2v1h2h2h2h2h1v1h1v-1h2h2v1h2v-1h1v-3h2v2h1v1h2h2v-1h2v1h1v1h1v-2h2v1h1v-3h2v1h1v2h1v-2h2v2h2h2h2v-1h1v-2h2v3h1v-1h2v1h2v1h2h1v-1h2v1h2v-1h2v2h1v-1h2h2v-1h1v-2h2v2h2h1v1h1v-1h2v1h2h1v-1h1v-1h2v1h2v1h2v-2h2v1h1v1h2v-3h2v2h2h2v1h2v-1h2h2h2h2v1h2v-6h2v5h2v-1h2v1h2h2h1v-1h2v2h1v-2h2v2h2v-1h1v-1h2h2v2h1v-2h2v1h1v-1h2h2h2v1h1v-1h2v1h2v1h2h1v-2h2v1h1v-1h2v-1h2v1h1v3h2v-3h2v-2h2v3h1v2h1v-5h2v3h2v-1h2v-1h2v2h1v1h2h2h1v1h1v-2h2v-1h2h2h1v2h1v-1h2h2v1h1v-1h2h1v1h2h2h2v-3h2v2h2v1h1v-1h2v1h1v-1h2v2h1v-1h2v1h1v-3h2v2h2h1v-5h2h1v3h2h1v2h1v-1h1v-1h2v1h2v1h2h2h2v-1h2v1h2h2v-1h2h1v-3h2v3h1v-1h2v1h2h1v-2h2v1h2h2h2h1v1h2h1v-1h2v-1h2v2h2v-1h2v1h1v-1h2v1h2v-2h2h1v1h1v1h2h2v-2h2v1h2v1h2h1v-1h2h1v-1h2h2v-1h2v1h2h1v-1h2v4h1v-2h2h2v2h2v-2h1v-1h2v3h1v-3h2v1h2v1h1v1h1v-4h2h2v2h2V12h-1h-1h-1h-1h-1h-1v-1h-1v2h-1h-1v-1h-1v-1h-1v-1h-1h-1h-1v1h-1h-1v-1h-1h-1v-1h-1v4h-1h-1v-3h-1h-1v3h-1h-1v-2h-1h-1h-1h-1h-1v1h-1h-1v1h-1h-1v-2h-1h-1h-1h-1v1h-1h-1h-1h-1v-1h-1h-1v2h-1h-1h-1v-3h-1v2h-1h-1h-1h-1h-1h-1v-1h-1v1h-1h-1h-1v3h-1h-1v-4h-1h-1h-1v-1h-1v1h-1h-1v1h-1h-1v-1h-1v1h-1h-1v1h-1h-1v-2h-1h-1h-1v1h-1h-1h-1v1h-1h-1v-1h-1v-1h-1h-1h-1h-1v1h-1h-1v-1h-1v-1h-1h-1v2h-1h-1v-3h-1v2h-1h-1v-1h-1h-1v2h-1h-1v-1h-1h-1h-1h-1v-1h-1h-1h-1v2h-1h-1v1h-1h-1v-2h-1h-1v-1h-1v-1h-1v1h-1h-1v2h-1h-1v-2h-1v1h-1v2h-1h-1v-2h-1h-1v-1h-1h-1h-1h-1h-1h-1h-1v2h-1h-1v-1h-1v-1h-1v2h-1h-1v-2h-1h-1v3h-1h-1v-2h-1h-1v-1h-1h-1h-1h-1v1h-1h-1h-1h-1h-1v1h-1h-1v-2h-1h-1h-1v2h-1h-1v-3h-1v1h-1h-1h-1v2h-1h-1v-1h-1v1h-1h-1v-1h-1v-1h-1h-1h-1v1h-1v4h-1h-1v-5h-1v2h-1h-1v-2h-1h-1h-1h-1v-1h-1v6h-1h-1v-3h-1h-1h-1v-1h-1v3h-1h-1v-1h-1v-1h-1h-1v-1h-1v2h-1h-1v-3h-1h-1v1h-1h-1v-1h-1h-1v2h-1h-1h-1h-1v-2h-1h-1h-1v1h-1h-1v-1h-1h-1v1h-1h-1v5h-1h-1v-6h-1v1h-1h-1h-1h-1h-1h-1v-1h-1h-1v1h-1h-1v-1h-1v2h-1h-1v-1h-1v-1h-1h-1h-1v-1h-1v2h-1h-1v3h-1h-1v-4h-1h-1h-1h-1h-1h-1h-1h-1h-1v1h-1h-1v-1h-1v-1h-1h-1v2h-1h-1h-1h-1h-1v1h-1h-1v-3h-1h-1h-1h-1h-1h-1h-1v2h-1h-1h-1v3h-1h-1v-2h-1v-1h-1h-1h-1h-1v-1h-1h-1h-1v3h-1h-1h-1h-1v1h-1h-1v-1h-1h-1v-1h-1h-1h-1h-1h-1v1h-1h-1v-2h-1h-1h-1v4h-1h-1v-4h-1h-1v1h-1h-1v-1h-1v1h-1h-1h-1h-1h-1h-1v-1h-1h-1h-1h-1v1h-1h-1v-1h-1h-1v1h-1h-1h-1h-1v-2h-1h-1v1h-1v5h-1h-1v-4h-1h-1v-1h-1v2h-1h-1v-2h-1v1h-1v2h-1h-1h-1h-1v-2h-1h-1v-1h-1v1h-1h-1v1h-1h-1v-2h-1h-1v1h-1h-1v-1h-1h-1v3h-1h-1v-1h-1h-1h-1v-4h-1v5h-1h-1v-1h-1h-1v-1h-1v2h-1h-1v-4h-1v1h-1h-1h-1v2h-1h-1v-3h-1h-1v1h-1h-1h-1v-1h-1h-1h-1v3h-1h-1v-2h-1h-1v2h-1h-1v-2h-1h-1h-1v1h-1h-1h-1h-1h-1v-1h-1h-1h-1h-1v1h-1h-1v-2h-1h-1h-1h-1v2h-1h-1v-2h-1v1h-1h-1h-1h-1h-1h-1v-1h-1v1h-1h-1v-1h-1v2h-1h-1v-1h-1h-1v-1h-1v1h-1h-1h-1h-1h-1v-1h-1h-1h-1h-1v1h-1h-1h-1h-1h-1h-1v1h-1h-1v-1h-1v-1h-1h-1v2h-1h-1v-3h-1h-1v7h-1h-1v-6h-1h-1v1h-1h-1v-1h-1v-1h-1v2h-1h-1h-1v-1h-1v2h-1h-1v-2h-1h-1v-1h-1v1h-1h-1v-1h-1h-1h-1v1h-1h-1v-1h-1v3h-1h-1v-2h-1h-1v-1h-1v1h-1v3h-1h-1v-3h-1v1h-1h-1h-1v3h-1h-1v-3h-1v2h-1h-1v-1h-1h-1v-2h-1h-1h-1v2h-1h-1v-1h-1h-1v-1h-1h-1v4h-1h-1v-2h-1v-1h-1h-1v-1h-1h-1h-1v1h-1h-1v-1h-1h-1v1h-1h-1v-1h-1h-1v2h-1h-1v-1h-1v-1h-1v1h-1h-1v-1h-1v1h-1h-1h-1h-1v-1h-1v1h-1h-1h-1h-1h-1v1h-1h-1h-1h-1h-1h-1h-1h-1v-1h-1v4h-1h-1v-4h-1v1h-1h-1v-2h-1h-1h-1v2h-1h-1v-2h-1h-1h-1v1h-1h-1v1h-1h-1h-1v-1h-1h-1v-1h-1v1h-1h-1h-1h-1v3h-1h-1v-2h-1h-1v-2h-1h-1v2h-1h-1v1h-1h-1v-2h-1v2h-1h-1v-1h-1h-1v-1h-1v6h-1h-1v-6h-1h-1v1h-1h-1v-1h-1v2h-1h-1v-3h-1v3h-1h-1v-1h-1v2h-1h-1v-4h-1v1h-1h-1v-1h-1h-1v4h-1h-1v-3h-1v-1h-1h-1h-1v1h-1v1h-1h-1v-2h-1v1h-1h-1v1h-1h-1v-2h-1v2h-1h-1v-1h-1v-1h-1v1h-1h-1h-1v1h-1v2h-1h-1v-3h-1v1h-1h-1h-1v-1h-1v-1h-1v3h-1h-1h-1h-1v-2h-1h-1v-1h-1h-1h-1h-1h-1h-1h-1h-1h-1h-1v-1h-1h-1v1h-1h-1h-1v1h-1h-1h-1h-1h-1v1h-1h-1h-1h-1v-1h-1h-1h-1h-1h-1h-1h-1v-1h-1h-1h-1h-1h-1v2h-1h-1v-1h-1h-1h-1v2h-1h-1v-2h-1h-1h-1v-1h-1h-1h-1h-1v4h-1h-1v-4h-1v2h-1h-1v-1h-1h-1h-1v-1h-1h-1h-1v1h-1h-1v-1h-1v1h-1v1h-1h-1v-1h-1h-1h-1v-1h-1v1h-1h-1h-1h-1h-1h-1v2h-1v1h-1v1h-1h-1v-5h-1h-1h-1v2h-1h-1v-1h-1h-1h-1h-1h-1v1h-1h-1h-1v-1h-1h-1h-1v3h-1h-1v-2h-1v-1h-1h-1v1h-1h-1h-1h-1h-1h-1h-1v-1h-1v1h-1v1h-1h-1h-1h-1v-3h-1v3h-1h-1v4h-1h-1v-6h-1h-1v2h-1h-1v-2h-1v2h-1h-1h-1v-2h-1v1h-1h-1v-2h-1v1h-1h-1v-1h-1h-1h-1v4h-1h-1v-4h-1h-1v1h-1h-1v-1h-1h-1v1h-1h-1h-1h-1h-1h-1h-1h-1h-1h-1v-1h-1h-1v1h-1h-1v1h-1h-1h-1h-1v-1h-1h-1h-1h-1v2h-1h-1v-1h-1v-1h-1h-1v1h-1h-1h-1v2h-1h-1v1h-1h-1v-4h-1h-1v1h-1h-1v-1h-1h-1h-1v1h-1h-1v-1h-1h-1v3h-1h-1v-1h-1v-1h-1h-1h-1h-1v-1h-1h-1h-1v-1h-1v2h-1h-1v-1h-1v1h-1h-1v-2h-1h-1v1h-1h-1v-1h-1h-1h-1h-1h-1h-1h-1h-1v2h-1h-1v-2h-1v1h-1h-1v-1h-1h-1h-1v2h-1h-1v-1h-1v3h-1h-1v-4h-1h-1v1h-1h-1h-1h-1v-1h-1v1h-1h-1v-2h-1h-1v1h-1h-1v1h-1h-1v3h-1h-1v-4h-1h-1h-1v1h-1h-1h-1h-1v-1h-1h-1v3h-1h-1v-2h-1h-1h-1h-1h-1h-1v-2h-1v1h-1h-1v3h-1h-1v-1h-1h-1v-1h-1h-1h-1h-1h-1v3h-1h-1v-4h-1v1h-1h-1h-1h-1v-1h-1h-1v1h-1h-1h-1h-1v-1h-1h-1h-1h-1v-1h-1h-1v2h-1h-1h-1v2h-1h-1v-3h-1h-1h-1h-1v3h-1h-1v-2h-1v-1h-1h-1h-1h-1h-1v4h-1h-1v-3h-1h-1h-1h-1v-1h-1v5h-1h-1v-2h-1h-1v-2h-1v1h-1h-1v-3h-1v2h-1h-1v-2h-1v5h-1h-1v-4h-1v1h-1v2h-1h-1v-1h-1v-1h-1h-1h-1h-1h-1v2h-1h-1v-1h-1h-1v-1h-1h-1v-1h-1v2h-1h-1h-1v-1h-1h-1h-1v3h-1h-1v-2h-1h-1v2h-1h-1v-3h-1h-1h-1h-1v3h-1h-1v-2h-1v-1h-1v3h-1h-1v-4h-1h-1h-1v1h-1h-1h-1h-1h-1h-1v-1h-1v3h-1h-1v-2h-1v-2h-1v1h-1v2h-1h-1v-2h-1h-1h-1h-1h-1v2h-1h-1v-1h-1h-1h-1h-1h-1v1h-1h-1v-1h-1h-1h-1v-1h-1h-1h-1v1h-1h-1v1h-1h-1v-1h-1h-1h-1h-1h-1h-1h-1h-1v1h-1h-1h-1h-1h-1h-1v1h-1h-1h-1h-1v-1h-1h-1h-1h-1v1h-1h-1h-1v-2h-1h-1h-1v-1h-1v1h-1h-1v2h-1h-1v-1h-1h-1h-1v-1h-1v2h-1h-1v-2h-1v1h-1h-1v-1h-1h-1h-1h-1v-1h-1h-1v3h-1h-1v-1h-1h-1v-1h-1v1h-1h-1h-1h-1v-2h-1h-1v1h-1v2h-1h-1v-2h-1v-1h-1v3h-1h-1v-1h-1v-1h-1v1h-1h-1v1h-1h-1v-2h-1h-1h-1v2h-1h-1v-1h-1h-1v-2h-1h-1v2h-1h-1h-1v-1h-1h-1h-1h-1h-1h-1h-1h-1v-1h-1v2h-1h-1v-1h-1v3h-1h-1v-2h-1v-1h-1v1h-1h-1v-1h-1v-1h-1v1h-1h-1v1h-1h-1v-1h-1v1h-1h-1v1h-1h-1h-1v-1h-1h-1v-1h-1v1h-1h-1h-1v1h-1h-1v-2h-1v1h-1h-1v1h-1h-1h-1v-1h-1h-1v-1h-1h-1v1h-1v5h-1h-1v-6h-1h-1h-1h-1h-1v-1h-1h-1v1h-1v1h-1h-1v-2h-1h-1h-1h-1h-1h-1v2h-1h-1v-1h-1h-1v-1h-1h-1v1h-1h-1v-1h-1h-1h-1h-1v-1h-1v1h-1h-1v1h-1h-1h-1v1h-1h-1h-1v-3h-1h-1h-1v3h-1h-1h-1h-1v-2h-1h-1h-1v1h-1v2h-1h-1v-1h-1v-2h-1v1h-1h-1h-1v-2h-1v1h-1h-1v1h-1h-1v-1h-1v1h-1h-1h-1v-2h-1v1h-1h-1v2h-1h-1v-2h-1h-1v1h-1h-1h-1h-1v-2h-1v3h-1h-1v-2h-1h-1h-1v1h-1h-1h-1v-1h-1h-1h-1v1h-1h-1h-1v4h-1h-1v-5h-1h-1v1h-1v3h-1h-1v-3h-1v-1h-1h-1v1h-1h-1v2h-1h-1v-2h-1v1h-1v1h-1h-1v-3h-1v1h-1h-1v1h-1h-1h-1h-1h-1v-1h-1h-1v1h-1h-1v-1h-1h-1h-1v-1h-1h-1h-1v2h-1h-1v-1h-1v1h-1h-1v-1h-1h-1h-1v1h-1h-1v-1h-1v-1h-1h-1h-1v1h-1v2h-1h-1v-2h-1v1h-1h-1v-2h-1h-1v1h-1h-1v-1h-1v2h-1h-1v2h-1h-1v-3h-1h-1h-1v-1h-1v2h-1h-1v-1h-1h-1v-1h-1v2h-1h-1v-2h-1h-1h-1v-1h-1h-1v1h-1h-1h-1v1h-1v3h-1h-1v-3h-1v1h-1h-1v-1h-1v1h-1h-1h-1h-1v-1h-1h-1h-1h-1h-1v-1h-1h-1h-1v1h-1h-1v-1h-1h-1v1h-1h-1h-1h-1h-1v1h-1h-1v-2h-1v4h-1h-1v-4h-1h-1h-1h-1v1h-1v1h-1h-1h-1v-1h-1v2h-1h-1h-1h-1h-1h-1h-1h-1v-3h-1h-1v1h-1h-1h-1v-1h-1v1h-1h-1h-1v1h-1h-1v-2h-1h-1h-1h-1h-1h-1v4h-1h-1v1h-1h-1v-3h-1v-1h-1v1h-1h-1v1h-1h-1h-1h-1v-1h-1h-1v1h-1h-1v-2h-1v1h-1h-1h-1v4h-1h-1v-3h-1h-1v-1h-1v-1h-1h-1v1h-1h-1h-1Z"/><path id="t8" d="M0 -11h1v-2h2h1v3h2h1v-1h1v-1h2v1h2h2v-1h2h2h1v1h2h1v-1h1v-1h2v1h2h1v1h2h1v-1h1v-2h2v3h1v-1h1v-3h2v2h2v1h2h2v1h2h2h2v-1h2v2h1v-1h2h1v1h2v-1h1v-2h2h1v-2h2v3h2v1h1v1h1v-1h2h2v-1h2h1v1h1v-1h2v1h2h1v-2h2v2h1v-1h2v1h1v-1h2v1h2h2h2h2v1h2v-1h2v1h2h2h1v-4h2v4h1v-3h2v2h1v-3h2v2h1v1h1v-1h2v-3h2v2h2v2h2v-2h2v3h2h1v-1h2h2h2h2h2v-6h2v2h2v4h2v-1h2v1h1v-3h2v3h2h2v1h1v-3h2v1h1v-1h2v1h2v-1h2v1h2h2h2v-1h1v-1h2h1v-2h2v5h1v1h1v-2h2v1h1v-1h2v-1h2v1h2h2v1h2v-1h2h1v1h2v-1h2v1h2h1v-1h1v-2h2v1h1v-1h2v2h1v2h1v-1h2v-2h2v1h2h2h2v-1h2h1v3h1v-1h2v1h2h2h1v-1h2v1h1v-1h1v-1h2v1h1v-1h2v1h1v-1h2v2h1v-1h2v-1h2h1v-1h2v1h2v1h1v-1h2v-4h2v5h2h1v-2h2v2h1v-1h2h2v2h2v-2h2h1v-1h2v2h1v-3h2v1h2v1h2h1v-1h2v2h2v-1h2v1h1v-3h2v1h1v1h1v-1h2v1h2h2v2h1v-4h2v2h2v-1h2v1h1v1h2v-4h2v3h2v-4h2v4h1v1h2h2v-1h2h2v2h1v-1h1v-1h2h2v1h2v-1h2v1h1v-1h1v-1h2v1h1v1h1v1h1v-1h1v-1h2h1v-2h2v2h1v-3h2v4h1v-1h2v1h1v-1h1v-5h2v4h2v1h1v1h2h2h2h2h2h1v-1h2v-1h2v2h1v-1h2h1v1h1v-1h2v1h2h1v1h2v-1h2h2h1v-1h2h2h2v-1h2v-2h2v3h2h2h1v1h1v-2h2v1h1v1h2h2h2h1v-1h2h2v1h1v-2h2v1h2v1h1v-1h2h2h1v1h2h2v1h1v-1h2h1v-1h1v-2h2v2h2h2h1v1h2h2h2h2v-1h1v-1h2v1h1v1h1v1h1v-1h1v-3h2v2h2v1h2v1h1v-2h2v1h2v-1h1v-1h2v2h1v-1h2v2h1v-2h2v2h2h2h2h2v-4h2v2h2h1v-1h2v2h2h1v-1h2v2h2v-1h2v-3h2v2h1v-1h2h2v1h2v1h1v-1h2v-2h2v3h2v-4h2v4h2h2h2h2v1h1v-1h2h1v2h2v-1h1v-1h2v1h2v-4h2v3h1v1h2h1v-2h2v2h1v-1h2v-9h2v10h2v-1h2v1h1v-1h2v1h2h1v-3h2v3h2h1v-5h2v3h2v-3h2v5h1v-2h2v1h2h2v1h2h2v-3h2v3h1v-2h2v1h2h1v-3h2v4h1v-1h1v-1h2h2v1h1v-3h2v1h2v3h2h2h2v1h1v-1h2v-1h2v-2h2v1h2v1h2v1h2v-1h2v-3h2v4h1v-1h1v-1h2v-2h2v4h2h2h1v-1h2h1v-1h2v2h1v-1h1v-2h2v1h2v1h2v-1h2h2h2v-4h2v4h2h2h1v-1h2v2h1v-1h2v-1h2v1h2h2h2v-1h2v1h1v1h2h2v-6h2v3h1v3h1v-1h2v1h2h2v1h1v-1h1v-2h2v3h1v-1h1v-1h2v1h2v-4h2v3h1v1h2v-1h2v1h1v-1h2h1v-1h2v1h2v1h2v-1h2h2v-2h2v2h2v-4h2v3h2v1h2h1v1h1v-5h2v3h1v1h2v-2h2v2h1v1h2v1h1v-2h2h1v1h1v-1h2h2h1v-1h2v1h1v1h1v1h1v-2h2v1h2v1h2v-1h2v-1h2v1h1v-2h2v2h2h2v-1h2h1v-2h2v3h2v-2h2v-1h2h1v3h1v-2h2h2v-1h2v3h2h2v-2h2h1v2h2h1v-4h2v2h1v-2h2v4h2v1h1v-1h2v1h1v-1h2v-2h2v2h1v1h1v-1h1v-2h2v2h2h2h1v-1h2v2h1v-1h2h2h1v-1h2v-1h2v1h2h2h1v1h2h1v1h1v-1h2v1h1v-1h2h2h2h2h2h2v2h2h2v-1h1v-1h2v-1h2v2h1v-2h2v1h1v-1h2v2h2v-1h2h1v2h2v-3h2v1h1v1h2h1v-6h2v6h1v-1h2h1v1h2v-1h2h2h2v1h1v-1h2v2h1v-2h2h2v-2h2v1h1v2h1v-1h2v1h2v-1h1v-1h2v1h2v1h1v-1h2h2h2h1v1h2h1v-1h2v-2h2v2h2h2v1h2v-3h2v1h2v2h2v-2h2v2h1v-1h2v1h1v-1h1v-1h2v1h2v-1h2v1h2v-1h1v-1h2v3h1v-1h2h1v-2h2v2h1v1h2v-1h2h1v1h1v-3h2v2h2v1h2h2h1v-1h2v1h2h1v-1h2v2h1v-2h2h2v1h2v1h1v-1h1v-1h2v1h1v-1h2v1h1v-1h2h1v1h1v1h1v-1h1v-1h2h1v1h1v-1h2h1v1h1v-5h2v5h1v-1h1v-6h2v3h1v2h1v1h2h1v-1h2v-1h2v1h1v1h1v-5h2v5h2h2h1v-1h1v-1h2v2h1v-1h2v2h1v-2h2v-2h2v4h1v-1h1v-1h2v-2h2v2h2v1h2h2h2h2h1v1h2v-1h2v-2h2v2h2h2v-6h2v5h2h2v1h2h2h2h1v1h1v-1h2v1h1v-1h2v-8h2v6h2v2h2h2h2h1v-1h1v-2h2v1h2v2h2h2v-2h2v-1h2v3h2h1v-1h2v1h2v-4h2v3h1v1h2v-1h2v1h2h1v-5h2v4h2v1h2v1h1v-3h2v1h1v1h1v1h1v-3h2v3h2h1v-1h1v-1h2h2v1h2v-2h2v-1h2v3h1v-1h2h2v-4h2v3h2v-3h2v5h1v-1h2v-1h2v1h2h1v-1h2v1h1v1h1v-2h2h1v2h1v-1h2v1h2h1v1h2v-2h2v2h2h2v-2h2v2h2h2v-1h2v1h1v-1h2v-3h2v3h2h2v1h2h1v1h1v-1h2v1h1v-2h2v1h1v-1h2h1v1h1v-6h2v6h2v-1h2v-2h2v1h2v2h2v-2h2h2h2h2v1h1v1h1v-6h2v4h1v2h2v-1h2v-2h2v2h1v-2h2v2h2v1h2h2v-1h2h1v1h2h1v-3h2v1h2h2v1h2h2h2v-1h2v-2h2v2h2v1h1v-1h2v1h2h1v1h2h1v-1h1v-1h2v1h2v1h2v-2h2v2h2h2h1v1h2v-1h2h2v-3h2v2h1v1h2h2v-1h2h1v-1h2v-1h1v-1h2v2h2v2h1v-2h2v2h1v-2h2v2h2h1v-1h2v-5h2v6h2v1h2v-1h2v-1h2h2h1v2h2v-1h2h2v-1h2h1v-1h2v2h2h1v1h2v-1h2h2h2h1v-1h1v-1h2v1h1v1h2v-2h2h1v2h2v-1h2h2h1v1h2v-2h1v-1h2h2h1v2h1v1h1v-3h2v2h2h2v-1h2v1h2h1v1h1v-1h2V11h-1v-1h-1v2h-1h-1h-1h-1v-1h-1h-1v5h-1h-1v-5h-1v1h-1h-1v-1h-1h-1v1h-1h-1h-1h-1h-1v1h-1h-1v-1h-1v-1h-1v1h-1h-1v-1h-1v4h-1h-1v-5h-1v4h-1h-1v-4h-1v3h-1h-1h-1h-1v-2h-1h-1v-2h-1h-1v2h-1h-1h-1v1h-1h-1v-2h-1h-1v1h-1h-1h-1h-1h-1v-1h-1h-1h-1h-1h-1h-1v1h-1h-1v-1h-1h-1v5h-1h-1v-4h-1v1h-1h-1v-2h-1v-1h-1h-1h-1v2h-1h-1h-1v4h-1h-1v-3h-1h-1h-1h-1v-2h-1h-1v2h-1h-1v1h-1h-1v-2h-1h-1v-2h-1v1h-1v1h-1h-1v-1h-1h-1v-1h-1v3h-1v2h-1h-1v-3h-1h-1v-1h-1h-1h-1h-1h-1h-1v-1h-1v3h-1h-1h-1v-1h-1v-1h-1v2h-1h-1v-1h-1h-1h-1v5h-1h-1v-5h-1h-1h-1v5h-1h-1v-5h-1v5h-1h-1v-5h-1h-1h-1h-1v-1h-1h-1v1h-1v1h-1h-1v-1h-1v1h-1h-1v-2h-1h-1v2h-1h-1v2h-1h-1v-4h-1v2h-1h-1h-1h-1v-1h-1v4h-1h-1v-3h-1h-1v-2h-1v1h-1v1h-1h-1v-2h-1h-1v2h-1h-1h-1v-1h-1h-1h-1v1h-1h-1v-2h-1v1h-1h-1h-1v1h-1h-1v-2h-1h-1h-1v1h-1h-1v2h-1h-1v-3h-1v1h-1h-1h-1h-1h-1v-1h-1v1h-1h-1v-1h-1h-1h-1h-1h-1v2h-1h-1h-1h-1v-1h-1h-1h-1h-1h-1h-1h-1h-1h-1v-1h-1h-1h-1v-1h-1v1h-1h-1h-1v2h-1h-1v-1h-1h-1v-1h-1h-1v2h-1h-1v-3h-1v4h-1h-1v-2h-1h-1h-1h-1h-1h-1v2h-1h-1v-1h-1v1h-1h-1v-1h-1h-1v-1h-1h-1v1h-1h-1h-1v-2h-1v6h-1h-1v-4h-1h-1v-1h-1h-1v-1h-1v1h-1v2h-1h-1v-2h-1v2h-1h-1v-2h-1h-1v1h-1h-1v-2h-1v3h-1h-1h-1h-1v-1h-1h-1h-1v-1h-1h-1h-1v-1h-1v1h-1v1h-1h-1h-1v-1h-1h-1h-1v1h-1h-1h-1h-1v-1h-1v-1h-1v1h-1h-1v-1h-1v1h-1h-1v1h-1h-1v3h-1h-1v-3h-1h-1v-1h-1h-1h-1v2h-1h-1h-1v-2h-1v6h-1h-1v-2h-1v-4h-1h-1v2h-1h-1v-1h-1v1h-1h-1v-3h-1v3h-1h-1v-1h-1h-1h-1v-1h-1v1h-1h-1h-1v-1h-1h-1h-1v-1h-1v1h-1h-1v-1h-1v1h-1h-1v-1h-1h-1v2h-1h-1v-1h-1h-1v1h-1h-1v-2h-1h-1v2h-1h-1v-1h-1h-1h-1h-1h-1h-1v2h-1h-1h-1v1h-1h-1v-3h-1h-1h-1h-1h-1h-1v1h-1h-1v-2h-1v1h-1h-1h-1h-1v1h-1h-1v-1h-1h-1v1h-1h-1h-1v2h-1h-1v-2h-1v2h-1h-1v-2h-1h-1v-1h-1h-1h-1h-1h-1v3h-1h-1v-2h-1h-1v-2h-1v2h-1v3h-1h-1v-4h-1h-1h-1v1h-1h-1h-1h-1v1h-1h-1v-2h-1h-1v1h-1v1h-1h-1v-3h-1h-1h-1h-1v2h-1h-1v-1h-1h-1v-1h-1h-1h-1h-1h-1h-1h-1h-1h-1h-1h-1v-1h-1v3h-1h-1v-1h-1h-1v-1h-1v4h-1h-1v-2h-1h-1v-2h-1h-1h-1v4h-1h-1v-5h-1v1h-1v1h-1h-1v-1h-1v1h-1v1h-1h-1v-3h-1v4h-1h-1v-4h-1h-1v2h-1h-1h-1v1h-1h-1v3h-1h-1v-1h-1v-1h-1h-1v-2h-1h-1v-1h-1v1h-1h-1h-1v-1h-1v1h-1v1h-1h-1v1h-1h-1v-1h-1v-2h-1h-1h-1v1h-1h-1v1h-1h-1h-1h-1v-1h-1h-1v1h-1h-1v-1h-1v1h-1h-1v-2h-1h-1v1h-1h-1h-1h-1h-1v-1h-1v1h-1h-1h-1h-1v-1h-1h-1h-1v1h-1h-1v-1h-1v1h-1h-1v-1h-1v1h-1h-1h-1h-1h-1h-1v-1h-1v2h-1h-1v-2h-1v1h-1h-1h-1v-1h-1h-1h-1h-1h-1h-1v-1h-1v1h-1v1h-1h-1h-1h-1v-1h-1v1h-1h-1v1h-1h-1v-1h-1h-1h-1v-1h-1h-1v1h-1h-1v-1h-1h-1v3h-1h-1v-2h-1h-1h-1h-1h-1v3h-1h-1v-3h-1h-1v-1h-1v1h-1h-1v1h-1h-1v-2h-1v1h-1h-1v2h-1h-1h-1h-1v-3h-1h-1v2h-1h-1h-1h-1v-1h-1h-1v-1h-1h-1v1h-1h-1v1h-1h-1h-1v-2h-1v2h-1h-1v-1h-1h-1v6h-1h-1v-3h-1h-1v-1h-1v-3h-1v1h-1h-1v1h-1v1h-1h-1v-2h-1v3h-1h-1v-1h-1h-1v-2h-1h-1h-1h-1v-1h-1h-1v1h-1v1h-1h-1h-1v-1h-1v-1h-1h-1v1h-1v2h-1h-1v-1h-1h-1h-1v-2h-1v1h-1v2h-1h-1v-2h-1v1h-1h-1h-1v2h-1h-1v-3h-1v1h-1h-1v-1h-1v1h-1h-1h-1h-1v3h-1h-1v-3h-1v2h-1h-1v-1h-1v-1h-1h-1v-1h-1h-1h-1h-1h-1h-1v2h-1h-1v-1h-1h-1h-1h-1v-1h-1h-1h-1h-1h-1h-1h-1h-1h-1h-1v-1h-1v1h-1h-1v1h-1v5h-1h-1v-6h-1v1h-1h-1h-1h-1h-1h-1v-1h-1v1h-1v1h-1h-1v-3h-1h-1v7h-1h-1v-4h-1v-2h-1h-1h-1h-1h-1h-1v1h-1h-1v-1h-1h-1h-1h-1v3h-1h-1v-2h-1h-1h-1h-1h-1v-1h-1v1h-1h-1v-1h-1h-1h-1h-1h-1h-1h-1h-1h-1h-1h-1v1h-1h-1h-1v1h-1h-1v-2h-1h-1h-1v-1h-1v2h-1h-1h-1h-1v-1h-1v1h-1h-1v-1h-1h-1h-1h-1h-1v-1h-1h-1h-1h-1v1h-1h-1v2h-1h-1v-1h-1h-1v-2h-1h-1v2h-1h-1h-1h-1h-1v1h-1h-1h-1h-1v-2h-1v1h-1h-1v-2h-1h-1h-1v3h-1h-1v-3h-1v3h-1h-1v-1h-1v2h-1h-1v-2h-1h-1v-1h-1h-1h-1h-1h-1h-1h-1h-1v3h-1h-1v-3h-1v1h-1h-1v-2h-1v1h-1h-1v1h-1h-1v-1h-1h-1h-1v1h-1h-1v-1h-1v1h-1h-1v-2h-1h-1h-1v1h-1h-1h-1h-1h-1h-1v-1h-1v1h-1h-1v-1h-1h-1v2h-1h-1v-2h-1h-1v1h-1h-1v4h-1h-1v-3h-1h-1h-1v1h-1h-1v-1h-1v2h-1h-1v-1h-1h-1v-2h-1h-1h-1h-1h-1v5h-1h-1v-4h-1v-1h-1h-1v-1h-1v1h-1h-1v1h-1v4h-1h-1v-5h-1v-1h-1v-1h-1v1h-1v1h-1v1h-1h-1v-3h-1v1h-1h-1v2h-1h-1v-2h-1h-1h-1h-1h-1h-1h-1h-1h-1h-1h-1v2h-1h-1v-1h-1v-1h-1h-1h-1v2h-1h-1v-2h-1h-1v-1h-1v1h-1v1h-1h-1v1h-1h-1h-1v-1h-1v-1h-1h-1h-1h-1v1h-1h-1h-1v-2h-1v1h-1v1h-1h-1v-1h-1v2h-1h-1v-1h-1v1h-1h-1h-1h-1h-1h-1v-1h-1h-1v-1h-1v1h-1h-1h-1h-1h-1v-1h-1v1h-1h-1h-1h-1v1h-1h-1v-1h-1h-1h-1v2h-1h-1v-2h-1v1h-1h-1h-1h-1v-1h-1v1h-1h-1h-1h-1h-1h-1h-1v-1h-1h-1v3h-1h-1v-3h-1h-1h-1h-1h-1h-1h-1h-1v1h-1h-1h-1v-1h-1v1h-1h-1h-1h-1h-1h-1v-1h-1h-1v1h-1h-1h-1h-1h-1v3h-1h-1v-2h-1h-1v-2h-1h-1v1h-1h-1v1h-1h-1v-1h-1h-1h-1v-1h-1h-1h-1h-1v-1h-1v1h-1v2h-1h-1v-1h-1h-1v-1h-1h-1v-1h-1v4h-1h-1v-3h-1v1h-1h-1h-1v-1h-1h-1h-1v3h-1h-1v-3h-1v1h-1v3h-1h-1v-4h-1h-1h-1v-1h-1v4h-1h-1v-3h-1v5h-1h-1v-4h-1h-1h-1v-2h-1v3h-1h-1v-2h-1h-1v1h-1h-1v-1h-1h-1v1h-1v2h-1h-1v-3h-1v1h-1h-1h-1h-1v-1h-1h-1h-1h-1v3h-1h-1v-2h-1h-1v-1h-1h-1v1h-1h-1v-1h-1v2h-1h-1v1h-1h-1v-3h-1h-1v1h-1h-1v-1h-1h-1v1h-1v1h-1h-1h-1h-1v-1h-1h-1h-1v1h-1h-1v-1h-1v-1h-1v1h-1v1h-1h-1v-2h-1h-1h-1h-1h-1v1h-1h-1h-1h-1h-1v-1h-1h-1v2h-1h-1v-2h-1v-1h-1v1h-1v1h-1v1h-1h-1v-2h-1h-1h-1h-1h-1v3h-1h-1v-2h-1v-1h-1v2h-1h-1h-1v-1h-1v-1h-1v3h-1h-1v-3h-1v1h-1h-1v-1h-1v2h-1h-1v3h-1h-1v-4h-1v-1h-1h-1v1h-1v1h-1h-1v-1h-1h-1v-1h-1v1h-1h-1v-1h-1v1h-1h-1h-1v1h-1v1h-1h-1v-3h-1v2h-1h-1v1h-1h-1v-2h-1v2h-1h-1h-1v-2h-1v1h-1v1h-1h-1v-2h-1v-1h-1h-1v3h-1h-1v-3h-1v1h-1h-1h-1v-1h-1h-1h-1h-1v-1h-1v2h-1h-1v3h-1h-1v-4h-1v2h-1h-1h-1h-1v-2h-1v1h-1h-1h-1h-1h-1h-1v-1h-1h-1v2h-1h-1v-1h-1h-1v-1h-1v6h-1h-1v-7h-1v1h-1h-1v2h-1h-1v-3h-1v3h-1h-1v-2h-1h-1h-1v-1h-1v1h-1h-1h-1v2h-1h-1v-4h-1v2h-1v2h-1h-1v-1h-1h-1v1h-1h-1v-2h-1v-1h-1h-1v1h-1h-1h-1h-1h-1h-1v1h-1h-1h-1h-1h-1v-1h-1h-1h-1v2h-1h-1v-1h-1v-1h-1h-1h-1v2h-1h-1v-2h-1h-1h-1v1h-1h-1h-1v-1h-1h-1v2h-1h-1v-1h-1v1h-1h-1v-1h-1h-1h-1v-2h-1v2h-1v1h-1h-1v-2h-1v2h-1h-1v-2h-1h-1v1h-1h-1h-1h-1h-1h-1v-1h-1h-1h-1h-1h-1h-1h-1v1h-1v1h-1h-1v-2h-1v-1h-1v1h-1h-1h-1h-1v1h-1h-1v-2h-1h-1v3h-1h-1v-2h-1h-1h-1h-1h-1h-1v-1h-1v4h-1v1h-1h-1v-5h-1h-1v2h-1v1h-1h-1h-1h-1v-1h-1v2h-1h-1v-1h-1h-1h-1v-1h-1h-1h-1v-1h-1h-1h-1h-1h-1v-1h-1h-1h-1h-1v1h-1v4h-1h-1v-3h-1v-2h-1h-1v-1h-1v2h-1h-1h-1h-1v-1h-1v1h-1h-1h-1h-1h-1h-1v1h-1h-1h-1v-1h-1v1h-1h-1v1h-1h-1v-2h-1h-1v2h-1h-1v-1h-1h-1h-1h-1v-2h-1v1h-1h-1h-1v4h-1h-1v-3h-1v-2h-1h-1h-1v1h-1h-1h-1h-1h-1v-1h-1h-1v1h-1h-1v-1h-1v1h-1h-1v1h-1h-1h-1v1h-1h-1v-3h-1v1h-1v4h-1h-1v-3h-1h-1h-1h-1h-1v1h-1h-1v-2h-1h-1v5h-1h-1v-4h-1v1h-1h-1v-1h-1v-1h-1v-1h-1h-1v1h-1h-1h-1v1h-1h-1v-1h-1h-1v2h-1h-1h-1v-1h-1v-1h-1h-1v-1h-1v1h-1h-1v1h-1h-1v1h-1h-1v-2h-1Z"/><path id="t9" d="M0 -12h2v1h2v-4h2v5h2h2h2h1v-1h2v-3h2v2h2h1v1h1v-1h2v1h2h2h1v-3h2v3h1v-2h2h1v1h1v-1h2v2h1v-2h2v2h2v-1h2v1h1v-1h1v-1h2v2h2h2v-1h2v-1h2v2h2h1v-3h2v1h1v2h2v-1h2h2v-1h2v2h2h2v-2h2v3h1v-1h1v-1h1v-3h2v4h2v-2h2v1h1v-1h2v2h1v1h1v-1h2v-1h2v2h1v-3h2h1v3h1v-1h2h2h2v-1h2h2v1h2v-2h2v2h2h2h2h1v1h2h1v-1h2h2h2v1h2h1v-2h2v2h1v-1h2h1v1h2h2v-2h2v1h2h2h1v-2h2v-3h2v6h2v-2h2h2v2h2h1v-1h2h2h1v1h2v1h1v-1h2v1h1v-1h2v-1h2h2v1h2h1v-3h2v1h2v1h2h2v1h1v-1h1v-2h2v1h1v1h2v-1h2v2h1v-2h2v1h2h2h1v-1h2h2v-1h2v2h1v-1h2h2h2v-1h1v-1h2h1v1h2h1v-1h2v2h2h2h1v-1h2v2h2h2h2h2h2v-2h2v1h2h2v2h1v-1h2h2h1v1h1v-3h2v2h1v-3h2v4h2v-1h2v1h2v-1h2h2h1v-1h2v2h1v-5h2v2h1v1h2v1h2h1v1h2v-1h2v-1h2v1h2v-3h2v3h2h1v-1h2v1h1v1h2h1v-2h2v2h2v-1h2h2v-2h2v2h1v1h1v-1h2h2v1h1v-2h1v-1h2v2h2v-1h2v2h1v-3h2v1h2h1v-1h2h2h2h1v3h1v-1h2h2h1v-2h2v1h1v-1h2v2h1v-3h2v2h2v1h1v-2h2v1h2h2h1v1h1v-1h2h2h2v1h2h2h1v-4h2v5h2h1v-2h2h1v3h2v-5h2v3h2v1h1v-1h2v2h1v-1h1v-5h2v2h2v3h2h1v-2h2h1v1h1v1h1v1h1v-1h2h1v-1h2v1h1v-1h1v-1h2v1h2v-3h2v1h1v2h2v-1h2v1h2h2h2v-2h2v2h2v-3h2v2h1v1h2v-1h2h2v1h1v-1h2v1h2h1v-2h2v1h2v1h1v-1h1v-3h2v2h1v2h1v-1h2v1h2v-1h2v-1h2v3h1v-2h2v1h2h1v-1h2v2h1v-1h2h2v-1h2v1h2h1v-5h2v4h2h2v1h2v1h2v-1h2h1v-1h2h1v-3h2v3h2v1h2v1h1v-2h2v-5h2v2h2v5h2v-1h2h2h1v-1h2h1v-1h2v2h1v-2h2v2h1v-1h2h1v1h2v-5h2v5h2h2h1v-1h2h2h2h2v2h1v-4h2v1h2h1v1h1v1h2h1v1h1v-2h2v-1h2v1h1v1h2v2h1v-1h2v-1h2v1h2h2v-1h2v-1h2v1h2v1h2h2v-1h2v1h1v-2h2v-1h2v2h2v-1h2v1h2v-4h2v4h2v-2h2v1h2v1h1v1h2h2h1v1h1v-1h1v-1h2v2h1v-5h2v3h1v2h1v-2h2v1h2h1v-1h2h2v-1h2v2h2v-2h2h1v1h1v-5h2v3h1v2h1v1h1v-1h2h2v-1h2v1h1v1h2v-3h2v2h2h2h1v1h1v-1h2v1h2h2h2v-1h2v1h2v-2h2v2h1v-4h2v2h1v1h2h1v2h1v-2h2v1h1v-1h2h2v1h2h2h1v-2h2h2h1v-2h2v3h2h1v-1h2v2h2v-1h2v-1h2h2v2h1v-2h2v-3h2v3h1v1h1v1h2v-1h1v-1h2v1h2h1v-1h2v2h1v-2h2h1v1h1v-2h2v2h1v-1h2v1h2h1v-2h2v1h2h2h2h1v1h2h2h2h1v1h2h2v-1h2h1v1h1v-2h2v2h2h2h2v-3h2v2h1v-1h2v-1h2h1v1h2v-1h2v2h2h1v-1h2v-1h2h2h1v-2h2v4h1v-2h2v1h1v1h1v-3h2v2h2v2h2h1v-1h1v-1h2h2h1v1h2h2h2v-1h2v1h1v1h2v-1h2h2v1h1v-3h2v1h1v2h2v-2h1v-3h2v4h1v1h1v-1h2v1h1v-1h2v1h2v-1h2v-1h2v1h1v1h1v-1h1v-1h2h1v1h2h2h1v1h1v-1h2v1h1v-2h1v-1h2v1h1v1h1v1h1v-3h2v3h1v1h2v-1h2v-2h2v2h2h2v-1h2v1h1v-3h2v3h1v-1h2v1h2h1v-2h2v1h1v-1h2v1h2h1v-1h2v1h2h1v1h2v-1h2v-2h2h1v1h1v1h1v-1h2v1h2h1v-1h2v1h2v-2h2v2h2h2v-5h2v4h1v2h2v-3h2h1v1h1v1h2h2v-2h2v3h1v-2h2h1v1h1v1h1v-4h2h2v4h2h1v-1h1v-1h2v1h2h1v-1h2v1h1v-2h2h2v3h2v-2h2h1v2h2h2v-1h2h1v1h2h1v-4h2v3h2h2v1h1v-2h2v1h1v1h2v-1h2h2h1v1h2h2v-3h2v2h2v-1h2h2v1h1v-1h2v-2h2v2h1v1h1v-1h2v1h1v-5h2v3h1v-1h2v3h1v-2h2v2h1v-2h2v1h2v1h1v-2h2h2v1h2v-1h2h1v2h2h2v1h1v-1h2h1v1h2v-3h2v1h1v1h2v-2h2v2h2v-1h2h2v1h1v-2h2v2h1v-1h2v-1h2v1h1v-1h2v3h1v-4h2v3h1v-6h2v4h2v1h1v1h2h2v-1h2h1v1h2v-1h2v2h1v-1h1v-1h1v-4h2v2h2v2h2v-4h2v2h2v1h1v1h2v1h2v-1h1v-1h2v1h2v1h1v-2h2v1h2h2v2h1v-2h1v-1h2v2h2h2v-2h2v-2h2v4h2h2h1v-1h2v2h2v1h1v-2h2h2v1h1v1h1v-1h2v-2h2v1h1v-1h2v-2h2v2h2h2v1h2h2h1v1h1v-1h2v1h2v-1h2h2v1h1v-1h1v-3h2v3h2h2v-1h2h2v-2h2v2h1v1h2h1v1h1v-1h2h2h1v-2h2v-1h2v2h2v-1h2v1h2h1v-1h2v1h1v-2h2v3h2v-2h2v1h2v-1h2v1h2v1h1v-2h2v1h1v-2h2v2h2v1h1v-2h2v2h2h2v1h2h2h1v-1h2h2v-4h2v4h2h2h2h2v1h2h1v-1h2h2h2h2v1h1v-2h2h2v1h1v-1h2h2h1v2h1v-1h1v-1h2h2v1h2h2v-2h2v3h2v-1h2v1h1v-2h2h1v-2h2v4h1v-2h1v-1h2v-2h2v2h1v-2h2v2h1v2h1v-1h2v1h1v-1h2h2v-2h2v3h1v-1h2h1v-4h2v4h2h1v1h2h1v-1h2v1h2h1v-1h2v1h1v-1h2v2h1v-1h2h2v1h1v-1h2v-1h1v-2h2v3h2v1h1v-1h2v1h1v-1h2h1v1h1v-1h2v2h1v-1h2v1h1v-1h1v-2h2v1h2v1h2h2v-1h1v-1h2v2h1v1h1v-4h2v2h1v-2h2h2v3h2h1v-1h2v1h2v-3h2v2h2h2h2h1v1h2h2v1h1v-1h1v-1h2h1v-2h2v3h2h2v1h1v-1h2h2h2v-1h1v-1h2v2h1V11h-1v1h-1h-1v-2h-1h-1v1h-1h-1v3h-1h-1v-4h-1v1h-1h-1h-1v-1h-1h-1v2h-1h-1v-2h-1h-1h-1v1h-1h-1h-1v4h-1h-1v-5h-1h-1v5h-1h-1v-2h-1h-1v-1h-1h-1h-1h-1v-2h-1v1h-1h-1v-1h-1h-1h-1v3h-1h-1v-3h-1h-1h-1h-1h-1v1h-1h-1h-1h-1h-1h-1h-1h-1v1h-1h-1v-3h-1v1h-1h-1h-1v2h-1h-1v-3h-1v1h-1h-1h-1v1h-1h-1v-1h-1h-1v1h-1h-1h-1h-1v-2h-1v1h-1h-1v1h-1h-1v-1h-1v1h-1h-1h-1h-1v-1h-1v1h-1h-1v-1h-1v-1h-1h-1v1h-1v1h-1h-1h-1v2h-1h-1v-2h-1h-1h-1v1h-1v1h-1v1h-1h-1v-3h-1v1h-1h-1h-1h-1v-1h-1h-1v3h-1h-1v-3h-1h-1h-1v2h-1h-1v-2h-1v1h-1h-1h-1v1h-1h-1v-1h-1h-1v-1h-1h-1v1h-1h-1v-1h-1v1h-1h-1v-2h-1v1h-1h-1h-1v-1h-1v1h-1h-1v1h-1h-1v1h-1h-1v-1h-1h-1h-1h-1v-1h-1v1h-1h-1v-2h-1h-1v2h-1v1h-1h-1h-1h-1v-2h-1h-1v-1h-1h-1v2h-1h-1v-2h-1h-1v2h-1h-1v1h-1h-1v-2h-1h-1h-1h-1v-1h-1h-1v1h-1h-1v3h-1h-1v-3h-1v1h-1h-1v-2h-1h-1h-1h-1h-1h-1v1h-1h-1h-1v2h-1h-1v-2h-1h-1h-1v1h-1h-1v1h-1h-1h-1v-2h-1h-1v1h-1h-1v-1h-1h-1v1h-1h-1v-1h-1v-1h-1v2h-1v2h-1h-1v-3h-1h-1h-1v-1h-1v4h-1h-1v-2h-1h-1v1h-1h-1v-2h-1v3h-1h-1v-2h-1h-1h-1v-1h-1v2h-1h-1h-1h-1v-1h-1v-1h-1v2h-1h-1v-3h-1v2h-1h-1v-1h-1h-1v-1h-1v1h-1h-1v1h-1h-1h-1h-1v-1h-1h-1v1h-1h-1v-2h-1h-1h-1v2h-1h-1v-1h-1v1h-1h-1v-1h-1v-1h-1h-1h-1h-1v3h-1h-1v-2h-1v2h-1h-1h-1v-2h-1v3h-1h-1v-1h-1v1h-1h-1v-1h-1h-1v-3h-1h-1h-1h-1h-1h-1h-1v1h-1h-1h-1h-1h-1h-1v-1h-1h-1v2h-1h-1v-1h-1v1h-1h-1v-2h-1v1h-1v5h-1h-1v-5h-1h-1h-1v4h-1h-1v-4h-1h-1h-1h-1h-1h-1h-1h-1h-1h-1v2h-1h-1v-2h-1h-1v-1h-1h-1v2h-1h-1v2h-1h-1v2h-1h-1v-2h-1h-1v-2h-1v-1h-1h-1h-1v1h-1h-1v-1h-1h-1h-1h-1h-1h-1h-1h-1v1h-1h-1v-1h-1h-1h-1h-1h-1h-1h-1h-1v1h-1h-1v-1h-1h-1v1h-1h-1h-1v3h-1h-1v-2h-1h-1v-1h-1v-1h-1v3h-1h-1v-3h-1h-1v-1h-1v2h-1v1h-1h-1h-1h-1v-2h-1h-1h-1v2h-1h-1h-1h-1v-1h-1h-1h-1v5h-1h-1v-5h-1h-1v-1h-1v1h-1h-1h-1h-1h-1v2h-1h-1v-2h-1h-1v4h-1h-1v-5h-1h-1v3h-1h-1h-1v-1h-1h-1h-1v-1h-1h-1h-1v1h-1h-1v-2h-1v1h-1v1h-1h-1v-1h-1h-1v-1h-1h-1h-1v1h-1h-1v-1h-1v1h-1h-1v2h-1h-1v-2h-1v-1h-1v1h-1h-1v-2h-1v1h-1h-1v-1h-1h-1h-1v2h-1v3h-1h-1v-2h-1v-3h-1h-1v-1h-1v1h-1h-1v-1h-1v2h-1h-1h-1v-2h-1v3h-1h-1v-3h-1h-1h-1h-1v1h-1h-1h-1h-1h-1v-1h-1h-1v2h-1h-1v-1h-1v1h-1h-1h-1h-1h-1h-1h-1h-1h-1h-1h-1h-1v1h-1v2h-1h-1v-1h-1h-1h-1h-1h-1v-1h-1h-1v1h-1h-1h-1h-1h-1v-2h-1h-1h-1v1h-1h-1h-1v-1h-1v1h-1h-1v-1h-1v1h-1h-1v-1h-1h-1v2h-1h-1v-1h-1h-1h-1h-1v1h-1h-1h-1v-2h-1h-1v1h-1v2h-1v3h-1h-1v-6h-1v-1h-1v1h-1h-1v-1h-1v1h-1h-1h-1v1h-1h-1v-1h-1h-1v1h-1h-1v-1h-1h-1h-1h-1h-1h-1v2h-1v1h-1h-1v-3h-1h-1v-1h-1h-1h-1h-1h-1v2h-1h-1v-2h-1h-1v-1h-1v1h-1h-1v1h-1h-1h-1v5h-1h-1v-5h-1h-1h-1h-1h-1h-1v2h-1h-1v-2h-1h-1v1h-1v2h-1h-1v-3h-1v1h-1h-1v-1h-1v1h-1h-1h-1h-1v2h-1h-1v-3h-1h-1v-1h-1h-1h-1h-1v-1h-1v1h-1v3h-1h-1v-2h-1v1h-1h-1v1h-1h-1v1h-1h-1v-2h-1h-1v-1h-1h-1h-1v-1h-1h-1h-1v1h-1h-1h-1h-1v3h-1h-1v-1h-1h-1v3h-1h-1v-5h-1v3h-1h-1v-3h-1h-1h-1v1h-1h-1v-1h-1h-1v-1h-1v5h-1h-1v-4h-1h-1v1h-1h-1h-1v-1h-1v2h-1h-1v-2h-1h-1h-1v2h-1h-1v-1h-1v4h-1h-1v-4h-1v-1h-1h-1h-1h-1h-1h-1h-1v2h-1h-1h-1v-2h-1h-1h-1h-1h-1h-1h-1h-1v-1h-1h-1h-1v1h-1h-1v-2h-1v5h-1h-1v-4h-1v4h-1h-1v-1h-1v-2h-1h-1h-1h-1v1h-1h-1v-1h-1h-1v4h-1h-1v-4h-1v1h-1h-1v-1h-1h-1v1h-1h-1v-2h-1v2h-1h-1h-1v-1h-1v-1h-1v1h-1h-1v1h-1h-1v-2h-1h-1v1h-1h-1v-1h-1v1h-1v5h-1h-1v-6h-1v1h-1h-1h-1h-1h-1h-1h-1h-1h-1v-1h-1v1h-1h-1h-1h-1h-1v-1h-1h-1v1h-1h-1h-1v4h-1h-1v-4h-1h-1v-1h-1h-1v4h-1h-1v-4h-1h-1h-1h-1v1h-1h-1h-1v-2h-1v3h-1h-1v-2h-1v1h-1v1h-1h-1v-1h-1v1h-1h-1v-2h-1v1h-1h-1h-1h-1h-1h-1h-1v2h-1h-1v-1h-1v-1h-1h-1v-1h-1h-1v1h-1h-1v-1h-1h-1h-1v1h-1v1h-1h-1v2h-1h-1v-3h-1h-1h-1v-1h-1v2h-1h-1v-1h-1v4h-1v1h-1h-1v-3h-1h-1v-1h-1v-2h-1v3h-1v1h-1h-1v-2h-1h-1h-1v-1h-1h-1h-1h-1v1h-1h-1v-1h-1h-1v-1h-1v-1h-1v2h-1v4h-1h-1v-4h-1h-1v-1h-1h-1v2h-1h-1v-1h-1v-2h-1h-1v2h-1h-1v-1h-1h-1h-1h-1v-1h-1v4h-1h-1v-2h-1v-1h-1h-1h-1h-1v1h-1h-1v1h-1h-1v-2h-1v1h-1v1h-1h-1v1h-1h-1v-3h-1h-1h-1v1h-1h-1v1h-1h-1h-1h-1v-1h-1h-1v-1h-1v-1h-1v3h-1h-1v-3h-1v1h-1h-1h-1v1h-1h-1v-1h-1h-1v1h-1h-1h-1v1h-1v1h-1v1h-1h-1h-1h-1h-1v-2h-1v2h-1h-1v-2h-1h-1v-1h-1h-1v2h-1h-1v-1h-1h-1v-1h-1h-1h-1h-1h-1v-1h-1v1h-1h-1h-1h-1v2h-1h-1v-3h-1v2h-1h-1h-1h-1h-1v-1h-1h-1h-1h-1v1h-1h-1h-1v-1h-1v2h-1h-1v-3h-1h-1v1h-1v1h-1h-1v1h-1h-1v-2h-1h-1h-1h-1h-1h-1h-1h-1h-1v-1h-1v3h-1h-1v-2h-1v2h-1h-1v-2h-1h-1h-1h-1h-1h-1h-1h-1h-1h-1h-1v2h-1h-1v-1h-1v-1h-1h-1h-1h-1v1h-1h-1v-1h-1v1h-1h-1v2h-1v1h-1h-1v-4h-1h-1h-1h-1h-1h-1h-1v1h-1h-1h-1h-1v-1h-1h-1h-1h-1v1h-1h-1v-1h-1v1h-1h-1h-1h-1h-1v-1h-1v2h-1h-1v-1h-1h-1h-1h-1v-1h-1h-1h-1v2h-1h-1v-1h-1v-2h-1v1h-1h-1v-1h-1h-1v1h-1h-1h-1v1h-1h-1h-1h-1v-1h-1h-1h-1v2h-1h-1v-2h-1v-1h-1h-1h-1v1h-1h-1h-1h-1v1h-1h-1v-1h-1h-1v-1h-1h-1v-1h-1v1h-1v1h-1h-1h-1v-1h-1h-1v1h-1h-1v-1h-1h-1h-1h-1h-1v1h-1h-1v-1h-1v2h-1h-1v-1h-1h-1h-1v-1h-1v1h-1h-1v-1h-1v1h-1h-1h-1v-1h-1h-1v1h-1h-1h-1v1h-1h-1v-1h-1v1h-1h-1h-1v5h-1h-1v-7h-1v1h-1h-1v1h-1h-1v-1h-1h-1v2h-1h-1v-1h-1h-1h-1v1h-1h-1v-1h-1v3h-1h-1v-3h-1h-1v-1h-1h-1h-1h-1h-1h-1v1h-1h-1h-1v-1h-1h-1h-1h-1v2h-1h-1v-3h-1h-1h-1h-1v1h-1v2h-1h-1v-3h-1v2h-1h-1v-1h-1h-1v-1h-1v1h-1h-1h-1h-1v-1h-1v1h-1h-1v-1h-1h-1v2h-1h-1v-1h-1h-1h-1h-1h-1v-1h-1v-1h-1h-1v2h-1h-1v-1h-1h-1v4h-1h-1v-2h-1h-1v-3h-1v1h-1v1h-1h-1v-1h-1h-1h-1v1h-1h-1v-1h-1h-1v1h-1h-1v-1h-1v3h-1h-1v-4h-1v5h-1h-1v-3h-1h-1v-1h-1v1h-1h-1h-1v1h-1h-1v-1h-1h-1h-1h-1h-1h-1h-1v-1h-1v2h-1h-1h-1v-1h-1h-1v-1h-1v3h-1h-1v-1h-1v-1h-1h-1h-1h-1h-1v1h-1h-1h-1h-1v3h-1h-1v-3h-1v-1h-1v1h-1h-1v-1h-1v-1h-1v1h-1h-1v1h-1h-1v-1h-1h-1h-1h-1v1h-1h-1h-1h-1h-1h-1v-1h-1v1h-1h-1h-1v4h-1h-1v-1h-1h-1v-3h-1h-1v-1h-1v1h-1h-1h-1h-1v-1h-1h-1h-1v-1h-1h-1v1h-1h-1h-1h-1v1h-1h-1v-1h-1v-1h-1v3h-1h-1v-2h-1h-1v-1h-1v1h-1h-1h-1h-1h-1v-1h-1h-1h-1h-1h-1h-1v2h-1h-1v-1h-1h-1h-1v-1h-1v1h-1h-1h-1h-1h-1v-1h-1h-1h-1v2h-1h-1v1h-1h-1v-3h-1v1h-1h-1h-1v1h-1h-1h-1v2h-1h-1v-2h-1v-1h-1v3h-1h-1v-3h-1h-1h-1h-1h-1h-1h-1v2h-1h-1v-1h-1h-1h-1h-1v-2h-1v1h-1h-1v-1h-1v2h-1h-1v-1h-1h-1v-1h-1v1h-1v2h-1h-1v-2h-1v1h-1h-1h-1h-1h-1h-1h-1h-1h-1v-2h-1h-1h-1v2h-1h-1v-1h-1v1h-1h-1v-1h-1v-1h-1v1h-1h-1h-1v2h-1v1h-1v3h-1h-1v-5h-1v1h-1h-1v-1h-1v-1h-1h-1h-1h-1v1h-1h-1v-1h-1v1h-1h-1h-1h-1v1h-1h-1v-2h-1h-1v1h-1h-1v2h-1h-1v-2h-1h-1v-1h-1h-1h-1v2h-1h-1v2h-1h-1v-4h-1v1h-1v1h-1h-1v-1h-1h-1v-1h-1h-1v1h-1h-1v1h-1h-1v-2h-1h-1v2h-1h-1v-1h-1v1h-1h-1v-2h-1h-1v1h-1h-1v-1h-1h-1v1h-1v1h-1v1h-1h-1v-1h-1v-2h-1h-1v4h-1h-1v-3h-1h-1v1h-1h-1v-2h-1h-1h-1v-1h-1v4h-1h-1v-3h-1h-1v-1h-1v2h-1h-1v-2h-1v2h-1h-1v-1h-1h-1v-1h-1h-1Z"/><clipPath id="cl"><rect x="0" y="0" width="1212.3" height="2000" transform="translate(0,-1000)"/></clipPath><clipPath id="cl2"><rect x="0" y="0" width="1442.9" height="1200"/></clipPath></defs>
<path d="M595.5 60V1080" stroke="#000" stroke-opacity="0.4" stroke-width="1" stroke-dasharray="1 1"/>
<path d="M960.5 60V1080" stroke="#000" stroke-opacity="0.4" stroke-width="1" stroke-dasharray="1 1"/>
<path d="M1325.5 60V1080" stroke="#000" stroke-opacity="0.4" stroke-width="1" stroke-dasharray="1 1"/>
<use href="#t0" transform="translate(230,77.30) scale(1,0.25)" fill="#000"/>
<use href="#t3" transform="translate(1690,98.29) scale(-1,-0.25)" fill="#f00"/>
<use href="#t6" transform="translate(230,119.28) scale(1,0.25)" fill="#00f"/>
<use href="#t9" transform="translate(1690,140.27) scale(-1,0.25)" fill="#008000"/>
<use href="#t2" transform="translate(230,161.26) scale(1,-0.25)" fill="#000"/>
<use href="#t5" transform="translate(1690,182.25) scale(-1,0.25)" fill="#f00"/>
<use href="#t8" transform="translate(230,203.24) scale(1,0.25)" fill="#00f"/>
<use href="#t1" transform="translate(1690,224.23) scale(-1,-0.25)" fill="#008000"/>
<use href="#t4" transform="translate(230,245.22) scale(1,0.25)" fill="#000"/>
<use href="#t7" transform="translate(1690,266.21) scale(-1,0.25)" fill="#f00"/>
<use href="#t0" transform="translate(230,287.20) scale(1,-0.25)" fill="#00f"/>
<use href="#t3" transform="translate(1690,308.19) scale(-1,0.25)" fill="#008000"/>
<use href="#t6" transform="translate(230,329.18) scale(1,0.25)" fill="#000"/>
<use href="#t9" transform="translate(1690,350.17) scale(-1,-0.25)" fill="#f00"/>
<use href="#t2" transform="translate(230,371.16) scale(1,0.25)" fill="#00f"/>
<use href="#t5" transform="translate(1690,392.15) scale(-1,0.25)" fill="#008000"/>
<use href="#t8" transform="translate(230,413.14) scale(1,-0.25)" fill="#000"/>
<use href="#t1" transform="translate(1690,434.13) scale(-1,0.25)" fill="#f00"/>
<use href="#t4" transform="translate(230,455.12) scale(1,0.25)" fill="#00f"/>
<use href="#t7" transform="translate(1690,476.11) scale(-1,-0.25)" fill="#008000"/>
<use href="#t0" transform="translate(230,497.10) scale(1,0.25)" fill="#000"/>
<use href="#t3" transform="translate(1690,518.09) scale(-1,0.25)" fill="#f00"/>
<use href="#t6" transform="translate(230,539.08) scale(1,-0.25)" fill="#00f"/>
<use href="#t9" transform="translate(1690,560.07) scale(-1,0.25)" fill="#008000"/>
<use href="#t2" transform="translate(230,581.06) scale(1,0.25)" fill="#000"/>
<use href="#t5" transform="translate(1690,602.05) scale(-1,-0.25)" fill="#f00"/>
<use href="#t8" transform="translate(230,623.04) scale(1,0.25)" fill="#00f"/>
<use href="#t1" transform="translate(1690,644.03) scale(-1,0.25)" fill="#008000"/>
<use href="#t4" transform="translate(230,665.02) scale(1,-0.25)" fill="#000"/>
<use href="#t7" transform="translate(1690,686.01) scale(-1,0.25)" fill="#f00"/>
<use href="#t0" transform="translate(230,707.00) scale(1,0.25)" fill="#00f"/>
<use href="#t3" transform="translate(1690,727.99) scale(-1,-0.25)" fill="#008000"/>
<use href="#t6" transform="translate(230,748.98) scale(1,0.25)" fill="#000"/>
<use href="#t9" transform="translate(1690,769.97) scale(-1,0.25)" fill="#f00"/>
<use href="#t2" transform="translate(230,790.96) scale(1,-0.25)" fill="#00f"/>
<use href="#t5" transform="translate(1690,811.95) scale(-1,0.25)" fill="#008000"/>
<use href="#t8" transform="translate(230,832.94) scale(1,0.25)" fill="#000"/>
<use href="#t1" transform="translate(1690,853.93) scale(-1,-0.25)" fill="#f00"/>
<use href="#t4" transform="translate(230,874.92) scale(1,0.25)" fill="#00f"/>
<use href="#t7" transform="translate(1690,895.91) scale(-1,0.25)" fill="#008000"/>
<use href="#t0" transform="translate(230,916.90) scale(1,-0.25)" fill="#000"/>
<use href="#t3" transform="translate(1690,937.89) scale(-1,0.25)" fill="#f00"/>
<use href="#t6" transform="translate(230,958.88) scale(1,0.25)" fill="#00f"/>
<use href="#t9" transform="translate(1690,979.87) scale(-1,-0.25)" fill="#008000"/>
<use href="#t2" transform="translate(230,1000.86) scale(1,0.25)" fill="#000"/>
<use href="#t5" transform="translate(1690,1021.85) scale(-1,0.25)" fill="#f00"/>
<g clip-path="url(#cl2)"><use href="#t8" transform="translate(230,1042.84) scale(1,-0.25)" fill="#00f"/></g>
<path fill="#000" d="M256.9 82.5V74.8h1.9V82.5ZM318.4 79.8V69.6h1.9V79.8ZM425.4 83.5V74.8h1.9V83.5ZM685.3 81.5V74.8h1.9V81.5ZM1051.5 79.8V60.6h1.9V79.8ZM1052.8 87.7V74.8h1.9V87.7ZM1055.0 79.8V68.2h1.9V79.8ZM1072.5 83.5V74.8h1.9V83.5ZM1085.0 82.0V72.5h1.9V82.0ZM1106.2 79.8V71.6h1.9V79.8ZM1115.0 84.0V74.8h1.9V84.0ZM1534.2 79.8V68.7h1.9V79.8ZM1573.0 81.2V71.2h1.9V81.2ZM1675.0 79.8V66.7h1.9V79.8ZM897.3 419.5V410.6h1.9V419.5ZM1607.0 422.4V403.1h1.9V422.4ZM1628.0 418.5V408.0h1.9V418.5ZM1654.0 420.5V410.6h1.9V420.5ZM830.8 502.3V493.1h1.9V502.3ZM1510.8 503.3V494.6h1.9V503.3ZM285.8 585.2V578.6h1.9V585.2ZM410.1 586.2V576.5h1.9V586.2ZM447.6 586.2V578.6h1.9V586.2ZM907.3 588.0V575.0h1.9V588.0ZM918.5 587.1V569.8h1.9V587.1ZM307.2 673.4V662.5h1.9V673.4ZM393.7 669.6V662.5h1.9V669.6ZM423.9 1006.8V991.0h1.9V1006.8ZM524.2 1003.4V991.3h1.9V1003.4ZM560.2 1011.6V990.8h1.9V1011.6ZM594.8 1005.8V998.4h1.9V1005.8ZM671.9 1004.8V997.0h1.9V1004.8ZM840.4 1005.8V994.8h1.9V1005.8ZM885.8 1008.7V996.0h1.9V1008.7ZM917.0 1007.7V992.3h1.9V1007.7ZM1004.5 1003.4V995.6h1.9V1003.4ZM1020.5 1006.4V996.0h1.9V1006.4ZM350 70.7h1V71.1h1V73.2h1V73.4h1V72.5h1V72.4h1V73.9h1V73.9h1V74.0h1V74.0h1V74.1h1V74.3h1V73.8h1V83.0h-1V81.8h-1V81.2h-1V80.3h-1V81.1h-1V81.3h-1V81.4h-1V82.5h-1V81.7h-1V81.1h-1V80.6h-1V80.8h-1V80.7h-1ZM1048 73.0h1V72.4h1V72.4h1V72.4h1V72.6h1V72.3h1V74.1h1V73.9h1V73.1h1V74.0h1V72.5h1V80.8h-1V80.9h-1V80.4h-1V80.5h-1V81.3h-1V81.7h-1V80.6h-1V82.6h-1V80.6h-1V80.4h-1V80.5h-1ZM1596 408.4h1V407.9h1V408.1h1V408.3h1V407.2h1V407.5h1V408.8h1V409.2h1V409.1h1V409.1h1V409.1h1V409.7h1V408.9h1V408.5h1V408.7h1V407.7h1V407.5h1V406.5h1V407.8h1V407.9h1V408.6h1V408.8h1V407.8h1V408.3h1V408.6h1V409.0h1V408.6h1V408.6h1V408.0h1V408.6h1V407.4h1V405.7h1V408.1h1V408.9h1V409.4h1V409.5h1V409.4h1V408.2h1V407.6h1V417.4h-1V417.3h-1V417.7h-1V417.5h-1V417.3h-1V418.2h-1V418.5h-1V417.5h-1V417.3h-1V417.2h-1V416.8h-1V416.8h-1V417.3h-1V416.9h-1V417.2h-1V417.6h-1V417.8h-1V418.8h-1V418.8h-1V417.4h-1V417.6h-1V417.3h-1V417.5h-1V418.0h-1V418.8h-1V419.8h-1V419.7h-1V419.8h-1V418.6h-1V418.1h-1V418.4h-1V418.5h-1V418.4h-1V419.1h-1V418.4h-1V417.3h-1V417.2h-1V417.8h-1V417.0h-1ZM1644 408.7h1V409.4h1V409.7h1V410.0h1V409.8h1V409.8h1V410.1h1V409.3h1V409.3h1V409.3h1V407.9h1V408.5h1V407.1h1V408.8h1V408.9h1V409.7h1V408.9h1V418.8h-1V418.1h-1V417.3h-1V417.3h-1V417.0h-1V417.2h-1V416.7h-1V417.0h-1V416.9h-1V416.4h-1V416.3h-1V417.6h-1V418.6h-1V416.9h-1V418.1h-1V418.2h-1V417.1h-1ZM905 577.3h1V577.2h1V577.2h1V577.2h1V576.9h1V576.7h1V576.6h1V577.6h1V576.6h1V577.3h1V577.4h1V578.0h1V577.8h1V577.9h1V576.4h1V577.1h1V577.4h1V577.4h1V577.4h1V575.0h1V577.3h1V576.7h1V576.6h1V575.5h1V577.1h1V576.1h1V576.2h1V577.2h1V576.8h1V577.1h1V577.3h1V577.7h1V577.2h1V585.5h-1V584.7h-1V585.8h-1V585.1h-1V585.1h-1V584.5h-1V584.3h-1V584.1h-1V584.1h-1V584.3h-1V584.8h-1V584.6h-1V586.5h-1V584.8h-1V584.6h-1V584.8h-1V585.1h-1V584.4h-1V585.4h-1V585.2h-1V585.9h-1V585.8h-1V585.9h-1V585.9h-1V587.1h-1V585.8h-1V585.6h-1V585.4h-1V585.3h-1V585.6h-1V585.5h-1V585.6h-1V586.2h-1ZM559 997.1h1V997.6h1V996.9h1V997.2h1V995.9h1V997.1h1V997.3h1V997.1h1V997.2h1V997.5h1V997.4h1V997.8h1V996.0h1V995.9h1V997.0h1V997.4h1V996.2h1V997.8h1V997.5h1V997.8h1V997.7h1V997.7h1V997.9h1V997.4h1V997.6h1V997.6h1V997.6h1V997.5h1V998.0h1V997.7h1V998.2h1V997.5h1V997.8h1V998.0h1V997.3h1V997.5h1V997.6h1V997.8h1V998.1h1V997.9h1V997.7h1V997.6h1V997.9h1V997.6h1V1004.3h-1V1004.3h-1V1004.0h-1V1003.9h-1V1003.7h-1V1004.9h-1V1004.3h-1V1004.1h-1V1004.2h-1V1003.6h-1V1003.7h-1V1003.7h-1V1004.1h-1V1005.1h-1V1003.9h-1V1005.3h-1V1004.5h-1V1005.2h-1V1004.5h-1V1004.1h-1V1004.2h-1V1004.0h-1V1004.4h-1V1004.0h-1V1004.1h-1V1005.0h-1V1003.9h-1V1005.5h-1V1004.2h-1V1004.2h-1V1003.9h-1V1005.3h-1V1004.5h-1V1005.2h-1V1004.8h-1V1004.8h-1V1004.8h-1V1004.8h-1V1004.7h-1V1004.8h-1V1004.9h-1V1004.3h-1V1005.2h-1V1004.6h-1ZM995 997.6h1V997.4h1V996.7h1V996.1h1V996.7h1V997.0h1V997.5h1V996.4h1V997.1h1V996.9h1V997.0h1V996.8h1V997.2h1V996.8h1V996.8h1V996.7h1V996.8h1V996.8h1V997.3h1V997.6h1V997.6h1V997.6h1V997.8h1V997.4h1V997.9h1V997.8h1V997.4h1V997.6h1V998.1h1V997.4h1V998.0h1V997.6h1V997.3h1V997.7h1V1003.9h-1V1003.6h-1V1003.6h-1V1004.2h-1V1003.7h-1V1004.0h-1V1004.5h-1V1004.6h-1V1004.4h-1V1003.7h-1V1003.8h-1V1004.4h-1V1004.6h-1V1005.6h-1V1005.2h-1V1004.8h-1V1004.9h-1V1004.3h-1V1004.2h-1V1005.6h-1V1004.3h-1V1004.1h-1V1004.4h-1V1004.7h-1V1004.7h-1V1005.8h-1V1004.5h-1V1004.5h-1V1004.6h-1V1004.4h-1V1003.9h-1V1004.1h-1V1004.0h-1V1004.4h-1ZM884 995.7h1V996.0h1V996.9h1V996.3h1V997.7h1V997.4h1V997.9h1V1004.6h-1V1004.3h-1V1003.9h-1V1004.3h-1V1005.0h-1V1005.6h-1V1004.9h-1ZM914 996.5h1V997.6h1V996.4h1V997.1h1V997.6h1V996.8h1V996.6h1V997.5h1V997.3h1V997.5h1V997.7h1V1004.2h-1V1004.2h-1V1003.8h-1V1004.6h-1V1005.2h-1V1003.9h-1V1004.2h-1V1004.9h-1V1005.7h-1V1004.3h-1V1005.0h-1Z"/>
<path fill="#f00" d="M242.4 100.8V92.5h1.9V100.8ZM256.9 103.0V93.0h1.9V103.0ZM286.7 104.0V95.8h1.9V104.0ZM378.1 105.0V91.5h1.9V105.0ZM446.6 104.5V91.0h1.9V104.5ZM515.0 105.0V91.0h1.9V105.0ZM534.0 100.8V93.0h1.9V100.8ZM548.8 106.0V95.8h1.9V106.0ZM1336.8 100.8V94.0h1.9V100.8ZM1566.0 107.2V84.1h1.9V107.2ZM1568.5 100.8V88.0h1.9V100.8ZM1573.8 126.5V89.9h1.9V126.5ZM1575.8 100.8V90.0h1.9V100.8ZM1582.0 100.8V92.8h1.9V100.8ZM1587.2 112.0V87.0h1.9V112.0ZM1595.0 100.8V94.7h1.9V100.8ZM1618.6 103.4V88.9h1.9V103.4ZM1626.8 100.8V90.8h1.9V100.8ZM923.3 184.8V177.0h1.9V184.8ZM641.0 436.6V429.0h1.9V436.6ZM680.5 440.7V431.6h1.9V440.7ZM694.6 436.6V428.0h1.9V436.6ZM702.8 436.6V425.3h1.9V436.6ZM705.6 439.0V427.2h1.9V439.0ZM741.2 436.6V430.0h1.9V436.6ZM888.6 441.7V431.6h1.9V441.7ZM891.5 436.6V428.0h1.9V436.6ZM1165.0 440.7V412.8h1.9V440.7ZM1194.0 441.7V428.2h1.9V441.7ZM1221.8 446.5V431.6h1.9V446.5ZM1225.8 440.7V426.3h1.9V440.7ZM1250.8 451.3V412.8h1.9V451.3ZM1288.0 445.5V406.0h1.9V445.5ZM1290.2 436.6V419.5h1.9V436.6ZM1313.3 441.7V431.6h1.9V441.7ZM1320.0 443.6V418.5h1.9V443.6ZM1337.3 442.6V427.2h1.9V442.6ZM1025.0 522.6V510.0h1.9V522.6ZM1034.0 522.6V515.6h1.9V522.6ZM1325.8 520.6V509.7h1.9V520.6ZM1401.5 522.0V508.5h1.9V522.0ZM1638.0 604.5V597.7h1.9V604.5ZM1476.0 776.0V767.5h1.9V776.0ZM1188.8 943.6V935.4h1.9V943.6ZM1205.5 944.1V932.6h1.9V944.1ZM1215.0 945.5V927.8h1.9V945.5ZM1217.0 940.4V929.7h1.9V940.4ZM1223.8 943.2V935.4h1.9V943.2ZM1228.6 940.4V931.2h1.9V940.4ZM1247.0 940.4V932.6h1.9V940.4ZM1260.5 942.2V932.6h1.9V942.2ZM1323.0 942.2V914.3h1.9V942.2ZM1328.6 940.4V928.7h1.9V940.4ZM1331.0 943.0V935.4h1.9V943.0ZM1368.0 940.4V931.6h1.9V940.4ZM1371.0 940.4V931.6h1.9V940.4ZM1437.5 942.2V932.6h1.9V942.2ZM891.9 1028.0V1019.3h1.9V1028.0ZM933.9 1029.5V1019.3h1.9V1029.5ZM944.5 1024.3V1016.4h1.9V1024.3ZM987.8 1024.3V1007.7h1.9V1024.3ZM1115.5 1026.0V1016.4h1.9V1026.0ZM554 92.6h1V93.7h1V93.3h1V94.5h1V93.9h1V95.1h1V95.0h1V101.7h-1V101.6h-1V101.6h-1V101.5h-1V101.7h-1V103.0h-1V103.5h-1ZM1558 92.7h1V92.0h1V92.0h1V92.0h1V92.4h1V92.1h1V91.7h1V91.7h1V91.8h1V91.9h1V92.4h1V91.9h1V91.9h1V92.6h1V91.1h1V91.4h1V90.9h1V91.1h1V91.9h1V93.3h1V92.9h1V93.7h1V93.8h1V92.8h1V94.8h1V94.4h1V94.5h1V93.2h1V93.2h1V93.3h1V92.5h1V93.1h1V93.2h1V93.0h1V92.4h1V92.7h1V92.5h1V92.7h1V92.3h1V92.5h1V92.2h1V92.1h1V92.9h1V103.0h-1V102.7h-1V103.4h-1V102.7h-1V102.7h-1V102.3h-1V102.8h-1V102.8h-1V103.7h-1V103.1h-1V102.6h-1V102.5h-1V103.3h-1V103.4h-1V104.1h-1V105.3h-1V105.2h-1V103.9h-1V103.9h-1V102.7h-1V102.7h-1V102.1h-1V102.6h-1V102.4h-1V102.5h-1V102.3h-1V101.9h-1V102.2h-1V102.7h-1V102.5h-1V103.2h-1V101.9h-1V102.3h-1V102.6h-1V102.6h-1V103.7h-1V105.1h-1V103.9h-1V103.7h-1V103.7h-1V104.1h-1V105.3h-1V104.5h-1ZM1612 94.8h1V94.7h1V94.6h1V94.5h1V94.5h1V93.2h1V93.7h1V93.7h1V94.4h1V94.4h1V94.3h1V94.2h1V93.7h1V93.4h1V93.7h1V93.0h1V93.0h1V93.4h1V92.2h1V92.9h1V93.3h1V92.4h1V92.7h1V102.6h-1V104.6h-1V102.7h-1V102.7h-1V102.0h-1V101.7h-1V102.1h-1V101.6h-1V102.1h-1V102.9h-1V102.6h-1V102.5h-1V102.8h-1V102.6h-1V103.8h-1V103.1h-1V103.2h-1V102.9h-1V103.3h-1V102.9h-1V103.9h-1V105.4h-1V104.3h-1ZM686 430.5h1V431.1h1V431.4h1V430.9h1V430.9h1V430.4h1V430.5h1V429.9h1V429.8h1V429.7h1V429.9h1V430.1h1V430.7h1V430.7h1V430.9h1V431.1h1V431.0h1V431.3h1V431.2h1V430.8h1V431.3h1V430.5h1V430.7h1V431.0h1V430.7h1V430.4h1V430.0h1V437.8h-1V437.1h-1V436.9h-1V437.7h-1V437.0h-1V436.8h-1V437.6h-1V437.4h-1V437.3h-1V438.0h-1V438.4h-1V437.7h-1V437.5h-1V438.1h-1V437.3h-1V437.6h-1V438.0h-1V438.1h-1V438.1h-1V438.2h-1V438.3h-1V437.7h-1V437.8h-1V437.9h-1V438.0h-1V438.0h-1V437.6h-1ZM886 430.5h1V429.5h1V430.3h1V430.1h1V430.7h1V428.8h1V430.8h1V430.9h1V430.8h1V430.7h1V430.8h1V430.6h1V430.7h1V431.2h1V431.3h1V430.7h1V430.6h1V430.4h1V428.7h1V430.7h1V430.7h1V431.0h1V431.0h1V431.0h1V430.6h1V430.4h1V430.6h1V430.5h1V431.0h1V430.4h1V430.5h1V430.8h1V430.8h1V436.9h-1V437.2h-1V437.6h-1V437.5h-1V437.5h-1V437.9h-1V437.5h-1V437.5h-1V437.4h-1V437.6h-1V438.0h-1V438.0h-1V437.9h-1V438.4h-1V437.7h-1V438.1h-1V437.3h-1V437.6h-1V437.2h-1V437.7h-1V437.8h-1V437.8h-1V437.8h-1V438.2h-1V438.0h-1V438.0h-1V437.3h-1V437.4h-1V437.7h-1V439.1h-1V438.6h-1V437.4h-1V438.3h-1ZM1160 430.4h1V431.0h1V429.6h1V430.4h1V430.5h1V430.7h1V431.0h1V430.7h1V431.2h1V431.1h1V430.7h1V430.9h1V430.6h1V431.1h1V429.7h1V430.7h1V430.9h1V430.8h1V430.9h1V431.2h1V430.9h1V430.6h1V431.2h1V429.3h1V430.7h1V430.9h1V430.6h1V430.5h1V430.9h1V430.0h1V430.7h1V431.0h1V431.4h1V430.9h1V431.2h1V431.1h1V431.4h1V430.4h1V431.1h1V431.4h1V429.8h1V431.4h1V431.0h1V431.1h1V431.2h1V430.6h1V430.7h1V430.4h1V431.4h1V430.9h1V431.3h1V431.0h1V431.0h1V431.2h1V431.2h1V431.0h1V430.9h1V431.3h1V431.0h1V430.7h1V431.0h1V430.9h1V430.5h1V431.4h1V430.9h1V431.2h1V430.9h1V431.3h1V431.1h1V430.5h1V430.9h1V430.5h1V430.9h1V431.0h1V430.9h1V431.1h1V430.7h1V430.8h1V430.5h1V430.7h1V430.6h1V431.1h1V431.1h1V431.1h1V430.8h1V431.1h1V430.7h1V430.9h1V431.2h1V430.6h1V431.1h1V430.7h1V431.0h1V430.9h1V430.9h1V430.3h1V430.9h1V430.4h1V430.7h1V431.0h1V431.4h1V431.1h1V431.0h1V430.7h1V430.8h1V430.6h1V430.9h1V431.3h1V430.6h1V430.9h1V431.0h1V430.6h1V430.7h1V431.1h1V430.5h1V430.6h1V430.7h1V431.4h1V431.1h1V431.1h1V431.1h1V431.2h1V431.3h1V430.8h1V429.2h1V430.7h1V431.3h1V429.4h1V430.8h1V431.3h1V431.0h1V429.5h1V431.0h1V430.6h1V431.2h1V431.3h1V431.3h1V431.3h1V431.2h1V430.7h1V430.7h1V430.8h1V431.4h1V429.5h1V431.1h1V431.2h1V431.2h1V431.4h1V430.7h1V431.1h1V431.4h1V431.4h1V431.2h1V431.2h1V431.2h1V431.4h1V430.9h1V431.4h1V431.1h1V430.7h1V431.2h1V431.0h1V431.3h1V430.9h1V431.2h1V431.4h1V430.9h1V430.9h1V430.8h1V431.2h1V430.4h1V431.4h1V431.0h1V431.3h1V431.1h1V430.8h1V430.5h1V431.1h1V430.5h1V431.0h1V431.2h1V431.1h1V431.2h1V437.6h-1V437.4h-1V437.1h-1V437.4h-1V437.2h-1V437.5h-1V437.0h-1V437.4h-1V436.8h-1V436.8h-1V436.9h-1V437.4h-1V437.3h-1V436.9h-1V437.5h-1V437.3h-1V437.2h-1V437.5h-1V437.0h-1V437.0h-1V437.7h-1V436.9h-1V437.5h-1V437.1h-1V439.1h-1V437.3h-1V437.5h-1V437.1h-1V437.4h-1V437.4h-1V436.9h-1V436.8h-1V437.5h-1V437.1h-1V437.5h-1V437.4h-1V437.5h-1V436.9h-1V437.2h-1V437.2h-1V438.2h-1V437.0h-1V437.0h-1V437.8h-1V438.2h-1V436.9h-1V437.4h-1V437.2h-1V437.5h-1V437.3h-1V437.1h-1V437.7h-1V437.0h-1V437.6h-1V437.2h-1V437.1h-1V437.3h-1V437.4h-1V437.3h-1V437.0h-1V436.8h-1V437.4h-1V437.0h-1V437.1h-1V437.3h-1V437.0h-1V437.1h-1V437.4h-1V437.5h-1V437.2h-1V437.5h-1V437.1h-1V436.9h-1V436.8h-1V436.9h-1V437.6h-1V437.9h-1V437.3h-1V437.9h-1V437.3h-1V437.5h-1V437.2h-1V438.6h-1V437.1h-1V437.5h-1V437.0h-1V437.4h-1V437.5h-1V438.3h-1V437.2h-1V437.0h-1V437.4h-1V437.3h-1V437.6h-1V437.0h-1V437.5h-1V437.8h-1V437.1h-1V437.4h-1V438.6h-1V438.1h-1V438.2h-1V437.1h-1V437.1h-1V437.7h-1V437.7h-1V437.0h-1V437.0h-1V437.8h-1V437.2h-1V437.4h-1V437.2h-1V437.4h-1V437.1h-1V437.0h-1V437.3h-1V437.2h-1V437.5h-1V437.2h-1V437.2h-1V437.1h-1V437.7h-1V437.2h-1V437.3h-1V437.3h-1V437.6h-1V437.0h-1V438.4h-1V437.0h-1V437.0h-1V437.4h-1V438.7h-1V437.5h-1V436.8h-1V437.0h-1V436.8h-1V437.0h-1V437.5h-1V437.1h-1V437.1h-1V437.4h-1V437.3h-1V438.2h-1V437.9h-1V437.9h-1V437.8h-1V437.5h-1V437.3h-1V437.7h-1V437.3h-1V437.7h-1V437.6h-1V437.5h-1V437.3h-1V437.1h-1V437.4h-1V437.2h-1V437.6h-1V438.6h-1V438.2h-1V437.4h-1V437.7h-1V437.1h-1V437.3h-1V437.4h-1V437.6h-1V437.1h-1V437.3h-1V437.6h-1V437.7h-1V437.1h-1V439.2h-1V437.6h-1V437.3h-1V438.4h-1V437.3h-1V437.1h-1V437.0h-1V437.2h-1V437.6h-1V437.8h-1V437.7h-1V438.0h-1ZM1266 428.3h1V429.3h1V427.8h1V430.0h1V430.0h1V430.8h1V430.7h1V430.6h1V430.2h1V430.4h1V430.5h1V437.7h-1V437.5h-1V439.3h-1V437.6h-1V437.8h-1V438.3h-1V438.7h-1V438.6h-1V440.5h-1V439.5h-1V437.7h-1ZM1186 934.9h1V935.0h1V935.0h1V934.7h1V934.8h1V934.6h1V935.0h1V935.0h1V935.2h1V933.2h1V934.8h1V934.7h1V934.9h1V934.5h1V934.8h1V935.0h1V933.5h1V934.9h1V935.0h1V935.2h1V935.1h1V935.2h1V935.0h1V934.9h1V935.2h1V934.7h1V934.5h1V935.0h1V934.9h1V935.2h1V935.0h1V935.2h1V935.2h1V934.7h1V933.8h1V934.8h1V935.2h1V935.2h1V934.8h1V934.8h1V935.2h1V935.2h1V934.5h1V935.2h1V934.9h1V934.8h1V935.1h1V935.1h1V935.2h1V935.2h1V935.0h1V935.1h1V935.2h1V935.2h1V934.7h1V934.8h1V933.9h1V934.8h1V934.7h1V935.2h1V935.1h1V935.1h1V934.1h1V935.1h1V934.7h1V934.8h1V935.2h1V934.1h1V933.5h1V934.8h1V935.2h1V934.8h1V934.8h1V935.1h1V934.8h1V935.2h1V935.2h1V935.2h1V935.2h1V934.4h1V940.6h-1V942.5h-1V940.8h-1V941.2h-1V940.9h-1V941.2h-1V940.8h-1V940.7h-1V941.2h-1V941.1h-1V941.0h-1V942.5h-1V940.7h-1V941.0h-1V940.8h-1V940.8h-1V941.2h-1V942.3h-1V940.7h-1V940.7h-1V940.9h-1V940.6h-1V940.7h-1V941.0h-1V940.6h-1V941.0h-1V940.6h-1V941.2h-1V941.4h-1V942.5h-1V940.6h-1V940.7h-1V941.1h-1V941.0h-1V941.0h-1V941.0h-1V940.9h-1V942.6h-1V941.2h-1V940.8h-1V940.9h-1V940.6h-1V941.1h-1V940.9h-1V940.9h-1V940.6h-1V940.6h-1V941.2h-1V940.6h-1V940.6h-1V940.6h-1V940.6h-1V940.9h-1V940.6h-1V940.6h-1V940.8h-1V940.6h-1V941.0h-1V940.7h-1V941.1h-1V940.6h-1V940.6h-1V941.0h-1V941.1h-1V940.6h-1V941.0h-1V940.7h-1V940.6h-1V941.0h-1V940.6h-1V940.9h-1V940.9h-1V940.8h-1V940.9h-1V940.9h-1V940.8h-1V940.7h-1V940.7h-1V941.1h-1V940.9h-1ZM1205 933.4h1V931.9h1V932.8h1V932.9h1V934.0h1V933.0h1V933.3h1V931.4h1V942.5h-1V941.8h-1V943.2h-1V943.4h-1V943.7h-1V943.7h-1V944.4h-1V944.1h-1ZM1214 933.6h1V930.9h1V931.6h1V932.1h1V932.3h1V931.2h1V944.9h-1V942.8h-1V941.4h-1V945.0h-1V945.1h-1V945.6h-1ZM1225 931.5h1V932.7h1V932.2h1V933.3h1V933.3h1V934.7h1V932.8h1V933.2h1V931.3h1V933.6h1V940.9h-1V943.1h-1V942.3h-1V942.9h-1V942.3h-1V943.3h-1V943.2h-1V942.4h-1V942.4h-1V944.4h-1ZM1246 932.3h1V933.4h1V932.9h1V934.4h1V941.9h-1V942.6h-1V942.6h-1V943.9h-1ZM1256 933.5h1V933.4h1V932.9h1V934.5h1V932.6h1V934.0h1V931.8h1V932.7h1V941.4h-1V941.6h-1V942.5h-1V942.6h-1V943.2h-1V943.3h-1V943.9h-1V943.3h-1ZM1320 934.7h1V933.6h1V935.0h1V935.1h1V934.9h1V934.9h1V934.7h1V934.5h1V934.5h1V933.4h1V934.9h1V933.8h1V934.9h1V935.1h1V933.8h1V935.2h1V935.2h1V934.9h1V934.9h1V934.6h1V935.2h1V934.6h1V934.9h1V934.5h1V934.6h1V934.5h1V935.1h1V934.7h1V934.6h1V934.5h1V934.8h1V935.0h1V934.1h1V934.3h1V934.2h1V934.1h1V934.2h1V934.1h1V934.1h1V934.2h1V934.3h1V934.1h1V934.4h1V934.8h1V935.0h1V934.9h1V935.2h1V934.9h1V935.0h1V935.0h1V934.2h1V934.6h1V934.6h1V933.4h1V934.7h1V934.1h1V934.4h1V934.9h1V934.5h1V934.9h1V935.2h1V933.4h1V934.9h1V934.8h1V934.4h1V934.5h1V934.4h1V934.9h1V934.6h1V934.3h1V934.6h1V934.5h1V934.7h1V934.6h1V934.6h1V934.9h1V934.7h1V935.0h1V934.9h1V934.6h1V934.5h1V935.0h1V935.0h1V934.8h1V934.6h1V934.9h1V934.8h1V934.7h1V934.6h1V935.0h1V935.2h1V935.2h1V934.3h1V934.9h1V934.1h1V934.9h1V934.3h1V935.0h1V934.8h1V934.5h1V934.6h1V934.2h1V934.5h1V934.5h1V934.1h1V934.8h1V934.7h1V934.7h1V934.2h1V934.5h1V934.4h1V934.3h1V935.0h1V934.4h1V934.7h1V934.6h1V935.0h1V934.6h1V935.1h1V935.1h1V935.1h1V934.4h1V934.6h1V934.8h1V934.2h1V934.9h1V941.2h-1V941.2h-1V941.1h-1V941.2h-1V941.2h-1V941.0h-1V941.2h-1V941.2h-1V941.3h-1V941.1h-1V941.4h-1V941.4h-1V941.5h-1V941.0h-1V940.7h-1V942.0h-1V941.2h-1V940.9h-1V941.0h-1V941.3h-1V940.6h-1V941.1h-1V940.6h-1V940.8h-1V942.5h-1V940.9h-1V941.2h-1V940.9h-1V941.4h-1V941.8h-1V941.5h-1V940.8h-1V940.8h-1V941.0h-1V940.9h-1V942.1h-1V940.8h-1V940.9h-1V941.3h-1V941.2h-1V941.0h-1V940.9h-1V941.1h-1V941.3h-1V941.2h-1V941.0h-1V941.0h-1V940.9h-1V940.8h-1V941.2h-1V940.8h-1V940.7h-1V941.4h-1V941.6h-1V941.1h-1V941.5h-1V941.5h-1V941.7h-1V941.0h-1V940.9h-1V941.1h-1V940.9h-1V941.5h-1V941.2h-1V941.7h-1V941.3h-1V941.2h-1V941.0h-1V940.6h-1V940.8h-1V941.1h-1V941.4h-1V940.8h-1V941.7h-1V941.0h-1V941.4h-1V942.8h-1V941.1h-1V940.9h-1V940.9h-1V941.1h-1V941.7h-1V941.6h-1V941.5h-1V941.6h-1V941.3h-1V941.1h-1V940.8h-1V940.7h-1V940.7h-1V940.9h-1V941.7h-1V940.7h-1V941.1h-1V940.8h-1V941.1h-1V941.0h-1V941.8h-1V942.8h-1V941.7h-1V941.3h-1V941.6h-1V941.8h-1V941.4h-1V941.3h-1V941.5h-1V941.4h-1V942.4h-1V941.3h-1V941.5h-1V941.0h-1V941.6h-1V941.4h-1V941.6h-1V941.3h-1V942.2h-1V941.0h-1V941.3h-1V941.0h-1V940.8h-1V940.7h-1V941.4h-1V941.6h-1V941.2h-1V942.3h-1V941.0h-1ZM919 1018.6h1V1018.0h1V1017.9h1V1018.1h1V1018.0h1V1017.6h1V1018.1h1V1018.2h1V1018.0h1V1018.3h1V1018.0h1V1018.1h1V1018.1h1V1018.6h1V1018.3h1V1018.4h1V1017.3h1V1017.9h1V1017.9h1V1018.7h1V1018.2h1V1018.4h1V1018.3h1V1018.7h1V1018.2h1V1018.6h1V1018.2h1V1017.9h1V1018.1h1V1017.6h1V1017.5h1V1018.9h1V1018.3h1V1018.8h1V1018.7h1V1018.3h1V1018.8h1V1018.0h1V1018.8h1V1018.8h1V1025.1h-1V1025.4h-1V1026.6h-1V1024.9h-1V1025.0h-1V1025.0h-1V1024.8h-1V1025.3h-1V1025.0h-1V1024.9h-1V1024.8h-1V1025.0h-1V1025.3h-1V1025.7h-1V1025.1h-1V1024.8h-1V1024.9h-1V1024.8h-1V1025.5h-1V1025.0h-1V1025.3h-1V1025.9h-1V1025.5h-1V1026.0h-1V1027.3h-1V1026.2h-1V1026.2h-1V1026.2h-1V1026.1h-1V1026.3h-1V1026.3h-1V1025.6h-1V1026.2h-1V1025.7h-1V1025.3h-1V1025.1h-1V1025.5h-1V1025.4h-1V1026.0h-1V1026.0h-1ZM1516 1018.1h1V1018.3h1V1017.9h1V1017.6h1V1018.0h1V1018.5h1V1018.6h1V1018.9h1V1018.6h1V1018.6h1V1017.6h1V1018.1h1V1017.8h1V1017.1h1V1018.3h1V1026.2h-1V1026.2h-1V1024.7h-1V1025.6h-1V1025.6h-1V1025.0h-1V1025.2h-1V1025.2h-1V1025.5h-1V1024.7h-1V1025.8h-1V1025.6h-1V1025.1h-1V1024.8h-1V1025.4h-1Z"/>
<path fill="#00f" d="M404.2 127.5V116.8h1.9V127.5ZM441.8 126.0V112.5h1.9V126.0ZM502.4 125.5V113.5h1.9V125.5ZM555.4 126.0V113.0h1.9V126.0ZM636.2 209.3V197.4h1.9V209.3ZM688.2 205.7V194.9h1.9V205.7ZM702.0 205.7V198.3h1.9V205.7ZM712.3 213.2V193.0h1.9V213.2ZM714.8 212.5V190.2h1.9V212.5ZM634.0 205.7V197.9h1.9V205.7ZM721.4 205.7V195.8h1.9V205.7ZM725.8 205.7V197.8h1.9V205.7ZM736.8 205.7V197.8h1.9V205.7ZM1188.1 292.3V284.7h1.9V292.3ZM453.8 461.0V452.6h1.9V461.0ZM461.1 457.6V447.4h1.9V457.6ZM546.8 462.0V452.6h1.9V462.0ZM1334.8 461.9V449.4h1.9V461.9ZM1626.8 461.0V452.6h1.9V461.0ZM627.5 541.6V534.7h1.9V541.6ZM632.9 545.1V536.6h1.9V545.1ZM1084.0 542.4V536.6h1.9V542.4ZM1107.8 542.8V532.2h1.9V542.8ZM1134.2 541.6V532.8h1.9V541.6ZM1273.8 542.8V534.7h1.9V542.8ZM1397.6 543.2V536.6h1.9V543.2ZM1575.8 626.6V617.0h1.9V626.6ZM1346.0 964.4V956.4h1.9V964.4ZM1537.3 968.2V951.8h1.9V968.2ZM1575.3 966.3V953.8h1.9V966.3ZM337.4 1047.2V1035.7h1.9V1047.2ZM749.0 1049.1V1035.7h1.9V1049.1ZM1420.8 1045.3V1034.7h1.9V1045.3ZM682 200.1h1V200.1h1V199.8h1V200.0h1V200.0h1V200.1h1V200.2h1V199.9h1V200.0h1V200.0h1V199.9h1V199.8h1V200.4h1V198.9h1V200.4h1V200.2h1V200.4h1V199.7h1V200.0h1V199.8h1V200.0h1V199.3h1V199.5h1V198.5h1V200.4h1V199.7h1V199.9h1V199.9h1V199.9h1V200.0h1V200.0h1V199.7h1V200.5h1V200.3h1V199.5h1V198.8h1V199.6h1V200.0h1V199.8h1V200.3h1V200.3h1V200.2h1V200.5h1V200.4h1V200.0h1V200.2h1V199.8h1V199.8h1V199.7h1V200.3h1V199.0h1V199.7h1V200.3h1V199.7h1V199.2h1V200.3h1V200.0h1V199.6h1V200.2h1V199.9h1V200.5h1V206.5h-1V206.1h-1V206.2h-1V206.6h-1V206.5h-1V206.9h-1V206.4h-1V206.4h-1V206.5h-1V206.6h-1V206.3h-1V206.5h-1V206.1h-1V206.0h-1V206.7h-1V207.0h-1V206.0h-1V205.9h-1V207.2h-1V206.4h-1V206.2h-1V206.2h-1V207.0h-1V206.4h-1V206.4h-1V206.7h-1V207.1h-1V207.0h-1V207.8h-1V206.4h-1V206.1h-1V206.1h-1V206.1h-1V206.9h-1V206.9h-1V207.0h-1V207.1h-1V206.8h-1V206.2h-1V206.1h-1V206.1h-1V206.4h-1V206.4h-1V206.1h-1V206.2h-1V206.6h-1V206.2h-1V206.0h-1V206.0h-1V206.3h-1V206.4h-1V206.7h-1V206.6h-1V206.0h-1V206.1h-1V206.1h-1V206.3h-1V206.6h-1V206.0h-1V206.4h-1V206.4h-1ZM1372 451.3h1V451.6h1V452.3h1V450.7h1V451.0h1V451.7h1V451.5h1V450.8h1V450.5h1V457.9h-1V458.4h-1V458.5h-1V458.6h-1V459.0h-1V460.0h-1V458.9h-1V458.2h-1V459.2h-1ZM1098 535.6h1V534.0h1V535.0h1V535.4h1V535.3h1V534.9h1V535.5h1V535.3h1V535.5h1V535.4h1V535.5h1V535.4h1V535.6h1V535.8h1V534.7h1V535.2h1V535.3h1V535.9h1V535.3h1V535.6h1V534.5h1V535.5h1V535.3h1V535.3h1V535.6h1V535.9h1V536.1h1V536.2h1V536.2h1V536.1h1V536.0h1V535.0h1V535.5h1V536.1h1V535.0h1V535.8h1V536.2h1V536.0h1V536.4h1V535.9h1V535.7h1V535.7h1V536.1h1V536.1h1V536.2h1V542.4h-1V542.0h-1V541.8h-1V541.9h-1V542.2h-1V542.7h-1V543.4h-1V542.9h-1V542.9h-1V543.0h-1V542.9h-1V542.8h-1V543.1h-1V542.6h-1V542.7h-1V542.9h-1V543.3h-1V542.8h-1V542.6h-1V542.3h-1V543.1h-1V541.8h-1V541.8h-1V541.9h-1V542.2h-1V542.7h-1V542.5h-1V543.3h-1V543.1h-1V542.7h-1V542.2h-1V542.1h-1V542.9h-1V542.3h-1V542.5h-1V542.2h-1V542.8h-1V542.8h-1V542.2h-1V542.5h-1V543.0h-1V542.7h-1V542.3h-1V543.0h-1V542.4h-1ZM1458 955.6h1V955.8h1V955.4h1V954.6h1V954.6h1V954.8h1V954.6h1V953.9h1V954.3h1V953.8h1V953.9h1V953.8h1V955.1h1V954.6h1V955.2h1V955.1h1V955.5h1V953.9h1V954.5h1V954.4h1V954.7h1V953.5h1V954.7h1V963.4h-1V963.2h-1V962.5h-1V962.2h-1V962.0h-1V962.1h-1V962.5h-1V963.5h-1V963.6h-1V963.2h-1V962.9h-1V963.5h-1V962.3h-1V962.7h-1V962.6h-1V962.9h-1V963.0h-1V963.9h-1V962.7h-1V962.7h-1V962.6h-1V962.4h-1V962.4h-1ZM1530 954.5h1V954.3h1V955.1h1V955.0h1V955.5h1V955.4h1V954.4h1V954.4h1V954.5h1V955.5h1V955.2h1V955.4h1V955.1h1V954.7h1V954.0h1V953.9h1V954.3h1V954.3h1V953.6h1V962.9h-1V963.4h-1V963.4h-1V964.4h-1V964.3h-1V963.4h-1V963.1h-1V962.7h-1V962.5h-1V962.1h-1V962.8h-1V962.4h-1V962.1h-1V962.6h-1V962.8h-1V962.4h-1V963.3h-1V963.5h-1V964.1h-1ZM1568 954.6h1V954.5h1V954.5h1V954.3h1V954.4h1V954.8h1V954.4h1V953.0h1V953.8h1V954.5h1V955.0h1V955.7h1V955.5h1V955.9h1V954.4h1V955.9h1V955.3h1V955.2h1V955.0h1V954.7h1V954.5h1V962.6h-1V962.6h-1V962.1h-1V963.2h-1V963.8h-1V963.8h-1V963.5h-1V963.4h-1V963.2h-1V962.7h-1V962.2h-1V962.2h-1V962.0h-1V962.4h-1V962.1h-1V962.5h-1V962.7h-1V963.6h-1V963.4h-1V963.1h-1V963.3h-1ZM744 1034.7h1V1036.8h1V1037.3h1V1038.5h1V1037.8h1V1038.4h1V1038.4h1V1038.7h1V1038.1h1V1039.0h1V1039.3h1V1039.2h1V1039.0h1V1039.2h1V1046.8h-1V1046.8h-1V1046.5h-1V1046.8h-1V1046.6h-1V1047.0h-1V1047.6h-1V1048.2h-1V1048.4h-1V1048.8h-1V1049.7h-1V1048.1h-1V1049.8h-1V1047.4h-1ZM1430 1039.0h1V1039.5h1V1039.8h1V1039.4h1V1039.5h1V1040.0h1V1039.0h1V1039.3h1V1038.9h1V1038.5h1V1038.4h1V1039.0h1V1038.5h1V1046.3h-1V1046.1h-1V1045.8h-1V1045.7h-1V1046.2h-1V1047.0h-1V1047.0h-1V1047.4h-1V1046.9h-1V1047.0h-1V1046.4h-1V1046.4h-1V1046.2h-1ZM440 114.4h1V115.0h1V116.0h1V116.3h1V116.3h1V115.5h1V115.5h1V122.4h-1V122.3h-1V122.9h-1V123.5h-1V124.0h-1V123.8h-1V123.6h-1ZM501 115.2h1V114.4h1V116.1h1V115.9h1V115.9h1V116.1h1V115.2h1V122.6h-1V122.5h-1V122.6h-1V123.8h-1V122.6h-1V123.2h-1V123.4h-1ZM554 114.3h1V115.3h1V115.5h1V116.4h1V115.8h1V115.5h1V115.9h1V122.5h-1V122.6h-1V122.1h-1V122.9h-1V123.5h-1V123.5h-1V123.3h-1Z"/>
<path fill="#008000" d="M841.4 144.8V137.8h1.9V144.8ZM852.4 150.6V136.0h1.9V150.6ZM856.8 142.8V130.9h1.9V142.8ZM862.6 158.3V132.3h1.9V158.3ZM866.5 142.8V132.3h1.9V142.8ZM877.4 145.7V137.8h1.9V145.7ZM1378.8 142.8V121.3h1.9V142.8ZM1391.3 142.8V132.8h1.9V142.8ZM1395.8 144.8V137.8h1.9V144.8ZM1399.0 142.8V133.8h1.9V142.8ZM1244.5 401.2V386.4h1.9V401.2ZM1312.8 394.6V385.0h1.9V394.6ZM1620.0 403.1V381.0h1.9V403.1ZM1635.0 397.4V387.7h1.9V397.4ZM783.6 480.2V468.6h1.9V480.2ZM865.9 478.6V468.6h1.9V478.6ZM629.5 564.0V556.3h1.9V564.0ZM660.3 566.9V557.6h1.9V566.9ZM924.3 562.6V554.0h1.9V562.6ZM1185.8 905.0V893.4h1.9V905.0ZM242.8 984.6V973.0h1.9V984.6ZM1260.5 993.3V977.4h1.9V993.3ZM1265.2 984.6V975.0h1.9V984.6ZM1332.0 987.5V976.0h1.9V987.5ZM1388.0 989.4V977.4h1.9V989.4ZM1391.3 982.4V975.0h1.9V982.4ZM1384.5 982.4V976.9h1.9V982.4ZM838 136.1h1V136.2h1V137.2h1V136.7h1V137.3h1V137.2h1V136.7h1V137.1h1V136.5h1V137.1h1V137.3h1V137.4h1V137.1h1V136.9h1V136.6h1V137.2h1V136.2h1V135.4h1V136.8h1V136.5h1V136.8h1V136.5h1V136.9h1V136.1h1V136.2h1V136.0h1V136.1h1V136.6h1V136.5h1V135.2h1V136.0h1V135.9h1V136.5h1V136.4h1V136.9h1V136.5h1V136.3h1V136.4h1V136.4h1V136.7h1V136.3h1V136.8h1V136.6h1V137.2h1V136.5h1V143.6h-1V144.0h-1V143.6h-1V143.2h-1V143.1h-1V144.1h-1V144.4h-1V144.0h-1V144.1h-1V143.9h-1V144.0h-1V143.7h-1V145.2h-1V144.0h-1V143.8h-1V143.4h-1V143.8h-1V143.4h-1V144.0h-1V144.1h-1V143.9h-1V144.8h-1V144.3h-1V143.9h-1V144.9h-1V144.0h-1V144.1h-1V143.5h-1V145.0h-1V143.5h-1V143.7h-1V143.8h-1V144.1h-1V143.9h-1V143.4h-1V145.5h-1V143.9h-1V143.4h-1V143.8h-1V143.7h-1V143.2h-1V143.8h-1V144.5h-1V144.4h-1V144.3h-1ZM863 129.4h1V132.0h1V133.0h1V134.4h1V136.2h1V135.8h1V135.5h1V149.6h-1V148.8h-1V145.5h-1V144.5h-1V145.4h-1V145.5h-1V145.1h-1ZM1286 388.9h1V388.2h1V388.6h1V388.6h1V388.5h1V388.3h1V388.9h1V388.7h1V388.7h1V388.8h1V388.7h1V388.5h1V388.6h1V388.6h1V388.9h1V388.8h1V388.6h1V388.6h1V388.4h1V387.9h1V386.4h1V387.5h1V386.9h1V387.7h1V387.4h1V387.6h1V388.5h1V388.4h1V389.1h1V388.9h1V388.7h1V388.3h1V387.9h1V396.5h-1V396.5h-1V395.7h-1V396.3h-1V396.4h-1V396.0h-1V396.3h-1V396.1h-1V395.7h-1V396.8h-1V397.0h-1V396.9h-1V397.2h-1V396.5h-1V396.5h-1V396.3h-1V396.8h-1V396.4h-1V396.5h-1V396.4h-1V396.2h-1V395.9h-1V395.9h-1V396.0h-1V395.5h-1V396.0h-1V395.8h-1V395.5h-1V396.4h-1V397.9h-1V396.5h-1V397.8h-1V396.3h-1ZM1610 385.0h1V386.7h1V387.4h1V387.7h1V388.0h1V387.5h1V387.2h1V387.2h1V386.0h1V385.8h1V386.3h1V385.8h1V385.5h1V387.1h1V385.8h1V386.9h1V386.9h1V387.4h1V388.3h1V388.8h1V387.9h1V388.5h1V387.9h1V388.0h1V388.2h1V388.0h1V387.5h1V388.2h1V387.9h1V386.9h1V387.3h1V387.4h1V387.8h1V387.5h1V387.3h1V387.5h1V398.2h-1V397.1h-1V397.3h-1V398.1h-1V397.8h-1V397.7h-1V397.0h-1V395.8h-1V395.5h-1V396.1h-1V396.9h-1V396.9h-1V396.1h-1V396.0h-1V395.6h-1V397.0h-1V396.7h-1V398.2h-1V398.5h-1V398.4h-1V397.9h-1V397.1h-1V396.6h-1V396.7h-1V397.5h-1V397.0h-1V398.9h-1V397.3h-1V397.1h-1V396.8h-1V396.3h-1V396.6h-1V396.5h-1V397.7h-1V397.7h-1V399.2h-1ZM600 471.8h1V472.3h1V472.0h1V472.2h1V472.5h1V473.0h1V472.9h1V480.2h-1V479.2h-1V479.4h-1V479.5h-1V479.7h-1V480.7h-1V481.5h-1ZM1157 472.6h1V472.4h1V472.9h1V472.5h1V472.5h1V473.2h1V472.8h1V473.3h1V473.1h1V472.8h1V473.0h1V472.8h1V472.6h1V472.7h1V472.8h1V472.2h1V471.5h1V472.3h1V472.8h1V472.9h1V473.3h1V479.9h-1V479.5h-1V479.7h-1V479.7h-1V480.9h-1V479.9h-1V479.4h-1V479.9h-1V479.4h-1V479.1h-1V479.6h-1V479.3h-1V479.4h-1V479.9h-1V479.5h-1V479.6h-1V479.4h-1V479.4h-1V479.6h-1V481.0h-1V480.9h-1ZM1386 470.1h1V471.7h1V472.2h1V471.9h1V471.7h1V472.7h1V472.8h1V479.1h-1V479.6h-1V479.6h-1V479.4h-1V479.5h-1V480.0h-1V480.7h-1ZM479 975.9h1V976.4h1V976.4h1V976.2h1V975.9h1V977.0h1V983.1h-1V982.6h-1V983.3h-1V984.0h-1V983.8h-1V983.5h-1Z"/>
<path d="M448.50 467.50 L450.64 473.66 L457.15 473.79 L451.96 477.72 L453.85 483.96 L448.50 480.24 L443.15 483.96 L445.04 477.72 L439.85 473.79 L446.36 473.66Z" fill="#ff0"/>
<path d="M456.3 480.4 Q520 515 587.3 504.3" fill="none" stroke="#000" stroke-width="1.3"/>
<rect x="590.5" y="492.5" width="194" height="21.6" rx="3" ry="3" fill="#fff" fill-opacity="0.6" stroke="#666" stroke-width="1.1"/>
<text x="594" y="507.7" font-size="13.6" textLength="186" lengthAdjust="spacingAndGlyphs">TONGA ISLANDS, 5.7 mww</text>
<rect x="230.5" y="60.5" width="1460" height="1020" fill="none" stroke="#000" stroke-width="1.1"/>
<text x="219.7" y="81.25" font-size="11.1" text-anchor="end" textLength="47.3" lengthAdjust="spacingAndGlyphs">00:00:07</text>
<text x="219.7" y="102.24" font-size="11.1" text-anchor="end" textLength="47.3" lengthAdjust="spacingAndGlyphs">01:00:07</text>
<text x="219.7" y="123.23" font-size="11.1" text-anchor="end" textLength="47.3" lengthAdjust="spacingAndGlyphs">02:00:07</text>
<text x="219.7" y="144.22" font-size="11.1" text-anchor="end" textLength="47.3" lengthAdjust="spacingAndGlyphs">03:00:07</text>
<text x="219.7" y="165.21" font-size="11.1" text-anchor="end" textLength="47.3" lengthAdjust="spacingAndGlyphs">04:00:07</text>
<text x="219.7" y="186.20" font-size="11.1" text-anchor="end" textLength="47.3" lengthAdjust="spacingAndGlyphs">05:00:07</text>
<text x="219.7" y="207.19" font-size="11.1" text-anchor="end" textLength="47.3" lengthAdjust="spacingAndGlyphs">06:00:07</text>
<text x="219.7" y="228.18" font-size="11.1" text-anchor="end" textLength="47.3" lengthAdjust="spacingAndGlyphs">07:00:07</text>
<text x="219.7" y="249.17" font-size="11.1" text-anchor="end" textLength="47.3" lengthAdjust="spacingAndGlyphs">08:00:07</text>
<text x="219.7" y="270.16" font-size="11.1" text-anchor="end" textLength="47.3" lengthAdjust="spacingAndGlyphs">09:00:07</text>
<text x="219.7" y="291.15" font-size="11.1" text-anchor="end" textLength="47.3" lengthAdjust="spacingAndGlyphs">10:00:07</text>
<text x="219.7" y="312.14" font-size="11.1" text-anchor="end" textLength="47.3" lengthAdjust="spacingAndGlyphs">11:00:07</text>
<text x="219.7" y="333.13" font-size="11.1" text-anchor="end" textLength="47.3" lengthAdjust="spacingAndGlyphs">12:00:07</text>
<text x="219.7" y="354.12" font-size="11.1" text-anchor="end" textLength="47.3" lengthAdjust="spacingAndGlyphs">13:00:07</text>
<text x="219.7" y="375.11" font-size="11.1" text-anchor="end" textLength="47.3" lengthAdjust="spacingAndGlyphs">14:00:07</text>
<text x="219.7" y="396.10" font-size="11.1" text-anchor="end" textLength="47.3" lengthAdjust="spacingAndGlyphs">15:00:07</text>
<text x="219.7" y="417.09" font-size="11.1" text-anchor="end" textLength="47.3" lengthAdjust="spacingAndGlyphs">16:00:07</text>
<text x="219.7" y="438.08" font-size="11.1" text-anchor="end" textLength="47.3" lengthAdjust="spacingAndGlyphs">17:00:07</text>
<text x="219.7" y="459.07" font-size="11.1" text-anchor="end" textLength="47.3" lengthAdjust="spacingAndGlyphs">18:00:07</text>
<text x="219.7" y="480.06" font-size="11.1" text-anchor="end" textLength="47.3" lengthAdjust="spacingAndGlyphs">19:00:07</text>
<text x="219.7" y="501.05" font-size="11.1" text-anchor="end" textLength="47.3" lengthAdjust="spacingAndGlyphs">20:00:07</text>
<text x="219.7" y="522.04" font-size="11.1" text-anchor="end" textLength="47.3" lengthAdjust="spacingAndGlyphs">21:00:07</text>
<text x="219.7" y="543.03" font-size="11.1" text-anchor="end" textLength="47.3" lengthAdjust="spacingAndGlyphs">22:00:07</text>
<text x="219.7" y="564.02" font-size="11.1" text-anchor="end" textLength="47.3" lengthAdjust="spacingAndGlyphs">23:00:07</text>
<text x="219.7" y="585.01" font-size="11.1" text-anchor="end" textLength="47.3" lengthAdjust="spacingAndGlyphs">00:00:07</text>
<text x="219.7" y="606.00" font-size="11.1" text-anchor="end" textLength="47.3" lengthAdjust="spacingAndGlyphs">01:00:07</text>
<text x="219.7" y="626.99" font-size="11.1" text-anchor="end" textLength="47.3" lengthAdjust="spacingAndGlyphs">02:00:07</text>
<text x="219.7" y="647.98" font-size="11.1" text-anchor="end" textLength="47.3" lengthAdjust="spacingAndGlyphs">03:00:07</text>
<text x="219.7" y="668.97" font-size="11.1" text-anchor="end" textLength="47.3" lengthAdjust="spacingAndGlyphs">04:00:07</text>
<text x="219.7" y="689.96" font-size="11.1" text-anchor="end" textLength="47.3" lengthAdjust="spacingAndGlyphs">05:00:07</text>
<text x="219.7" y="710.95" font-size="11.1" text-anchor="end" textLength="47.3" lengthAdjust="spacingAndGlyphs">06:00:07</text>
<text x="219.7" y="731.94" font-size="11.1" text-anchor="end" textLength="47.3" lengthAdjust="spacingAndGlyphs">07:00:07</text>
<text x="219.7" y="752.93" font-size="11.1" text-anchor="end" textLength="47.3" lengthAdjust="spacingAndGlyphs">08:00:07</text>
<text x="219.7" y="773.92" font-size="11.1" text-anchor="end" textLength="47.3" lengthAdjust="spacingAndGlyphs">09:00:07</text>
<text x="219.7" y="794.91" font-size="11.1" text-anchor="end" textLength="47.3" lengthAdjust="spacingAndGlyphs">10:00:07</text>
<text x="219.7" y="815.90" font-size="11.1" text-anchor="end" textLength="47.3" lengthAdjust="spacingAndGlyphs">11:00:07</text>
<text x="219.7" y="836.89" font-size="11.1" text-anchor="end" textLength="47.3" lengthAdjust="spacingAndGlyphs">12:00:07</text>
<text x="219.7" y="857.88" font-size="11.1" text-anchor="end" textLength="47.3" lengthAdjust="spacingAndGlyphs">13:00:07</text>
<text x="219.7" y="878.87" font-size="11.1" text-anchor="end" textLength="47.3" lengthAdjust="spacingAndGlyphs">14:00:07</text>
<text x="219.7" y="899.86" font-size="11.1" text-anchor="end" textLength="47.3" lengthAdjust="spacingAndGlyphs">15:00:07</text>
<text x="219.7" y="920.85" font-size="11.1" text-anchor="end" textLength="47.3" lengthAdjust="spacingAndGlyphs">16:00:07</text>
<text x="219.7" y="941.84" font-size="11.1" text-anchor="end" textLength="47.3" lengthAdjust="spacingAndGlyphs">17:00:07</text>
<text x="219.7" y="962.83" font-size="11.1" text-anchor="end" textLength="47.3" lengthAdjust="spacingAndGlyphs">18:00:07</text>
<text x="219.7" y="983.82" font-size="11.1" text-anchor="end" textLength="47.3" lengthAdjust="spacingAndGlyphs">19:00:07</text>
<text x="219.7" y="1004.81" font-size="11.1" text-anchor="end" textLength="47.3" lengthAdjust="spacingAndGlyphs">20:00:07</text>
<text x="219.7" y="1025.80" font-size="11.1" text-anchor="end" textLength="47.3" lengthAdjust="spacingAndGlyphs">21:00:07</text>
<text x="219.7" y="1046.79" font-size="11.1" text-anchor="end" textLength="47.3" lengthAdjust="spacingAndGlyphs">22:00:07</text>
<text x="219.7" y="1067.78" font-size="11.1" text-anchor="end" textLength="47.3" lengthAdjust="spacingAndGlyphs">23:00:07</text>
<text x="230.40" y="1098" font-size="11.1" text-anchor="middle">0</text>
<text x="595.20" y="1098" font-size="11.1" text-anchor="middle">15</text>
<text x="960.00" y="1098" font-size="11.1" text-anchor="middle">30</text>
<text x="1324.80" y="1098" font-size="11.1" text-anchor="middle">45</text>
<text x="1689.60" y="1098" font-size="11.1" text-anchor="middle">60</text>
<path d="M225 77.5h5M225 98.5h5M225 119.5h5M225 140.5h5M225 161.5h5M225 182.5h5M225 203.5h5M225 224.5h5M225 245.5h5M225 266.5h5M225 287.5h5M225 308.5h5M225 329.5h5M225 350.5h5M225 371.5h5M225 392.5h5M225 413.5h5M225 434.5h5M225 455.5h5M225 476.5h5M225 497.5h5M225 518.5h5M225 539.5h5M225 560.5h5M225 581.5h5M225 602.5h5M225 623.5h5M225 644.5h5M225 665.5h5M225 686.5h5M225 707.5h5M225 727.5h5M225 748.5h5M225 769.5h5M225 790.5h5M225 811.5h5M225 832.5h5M225 853.5h5M225 874.5h5M225 895.5h5M225 916.5h5M225 937.5h5M225 958.5h5M225 979.5h5M225 1000.5h5M225 1021.5h5M225 1042.5h5M225 1063.5h5M230.5 1080v5M595.5 1080v5M960.5 1080v5M1325.5 1080v5M1690.5 1080v5" stroke="#000" stroke-width="1.1" fill="none"/>
<text x="960" y="35" font-size="13.9" text-anchor="middle" textLength="120" lengthAdjust="spacingAndGlyphs">US.EDHPI.00.BHZ</text>
<text x="959.6" y="1113" font-size="11.1" text-anchor="middle" textLength="87" lengthAdjust="spacingAndGlyphs">time in minutes</text>
</svg></body></html>
